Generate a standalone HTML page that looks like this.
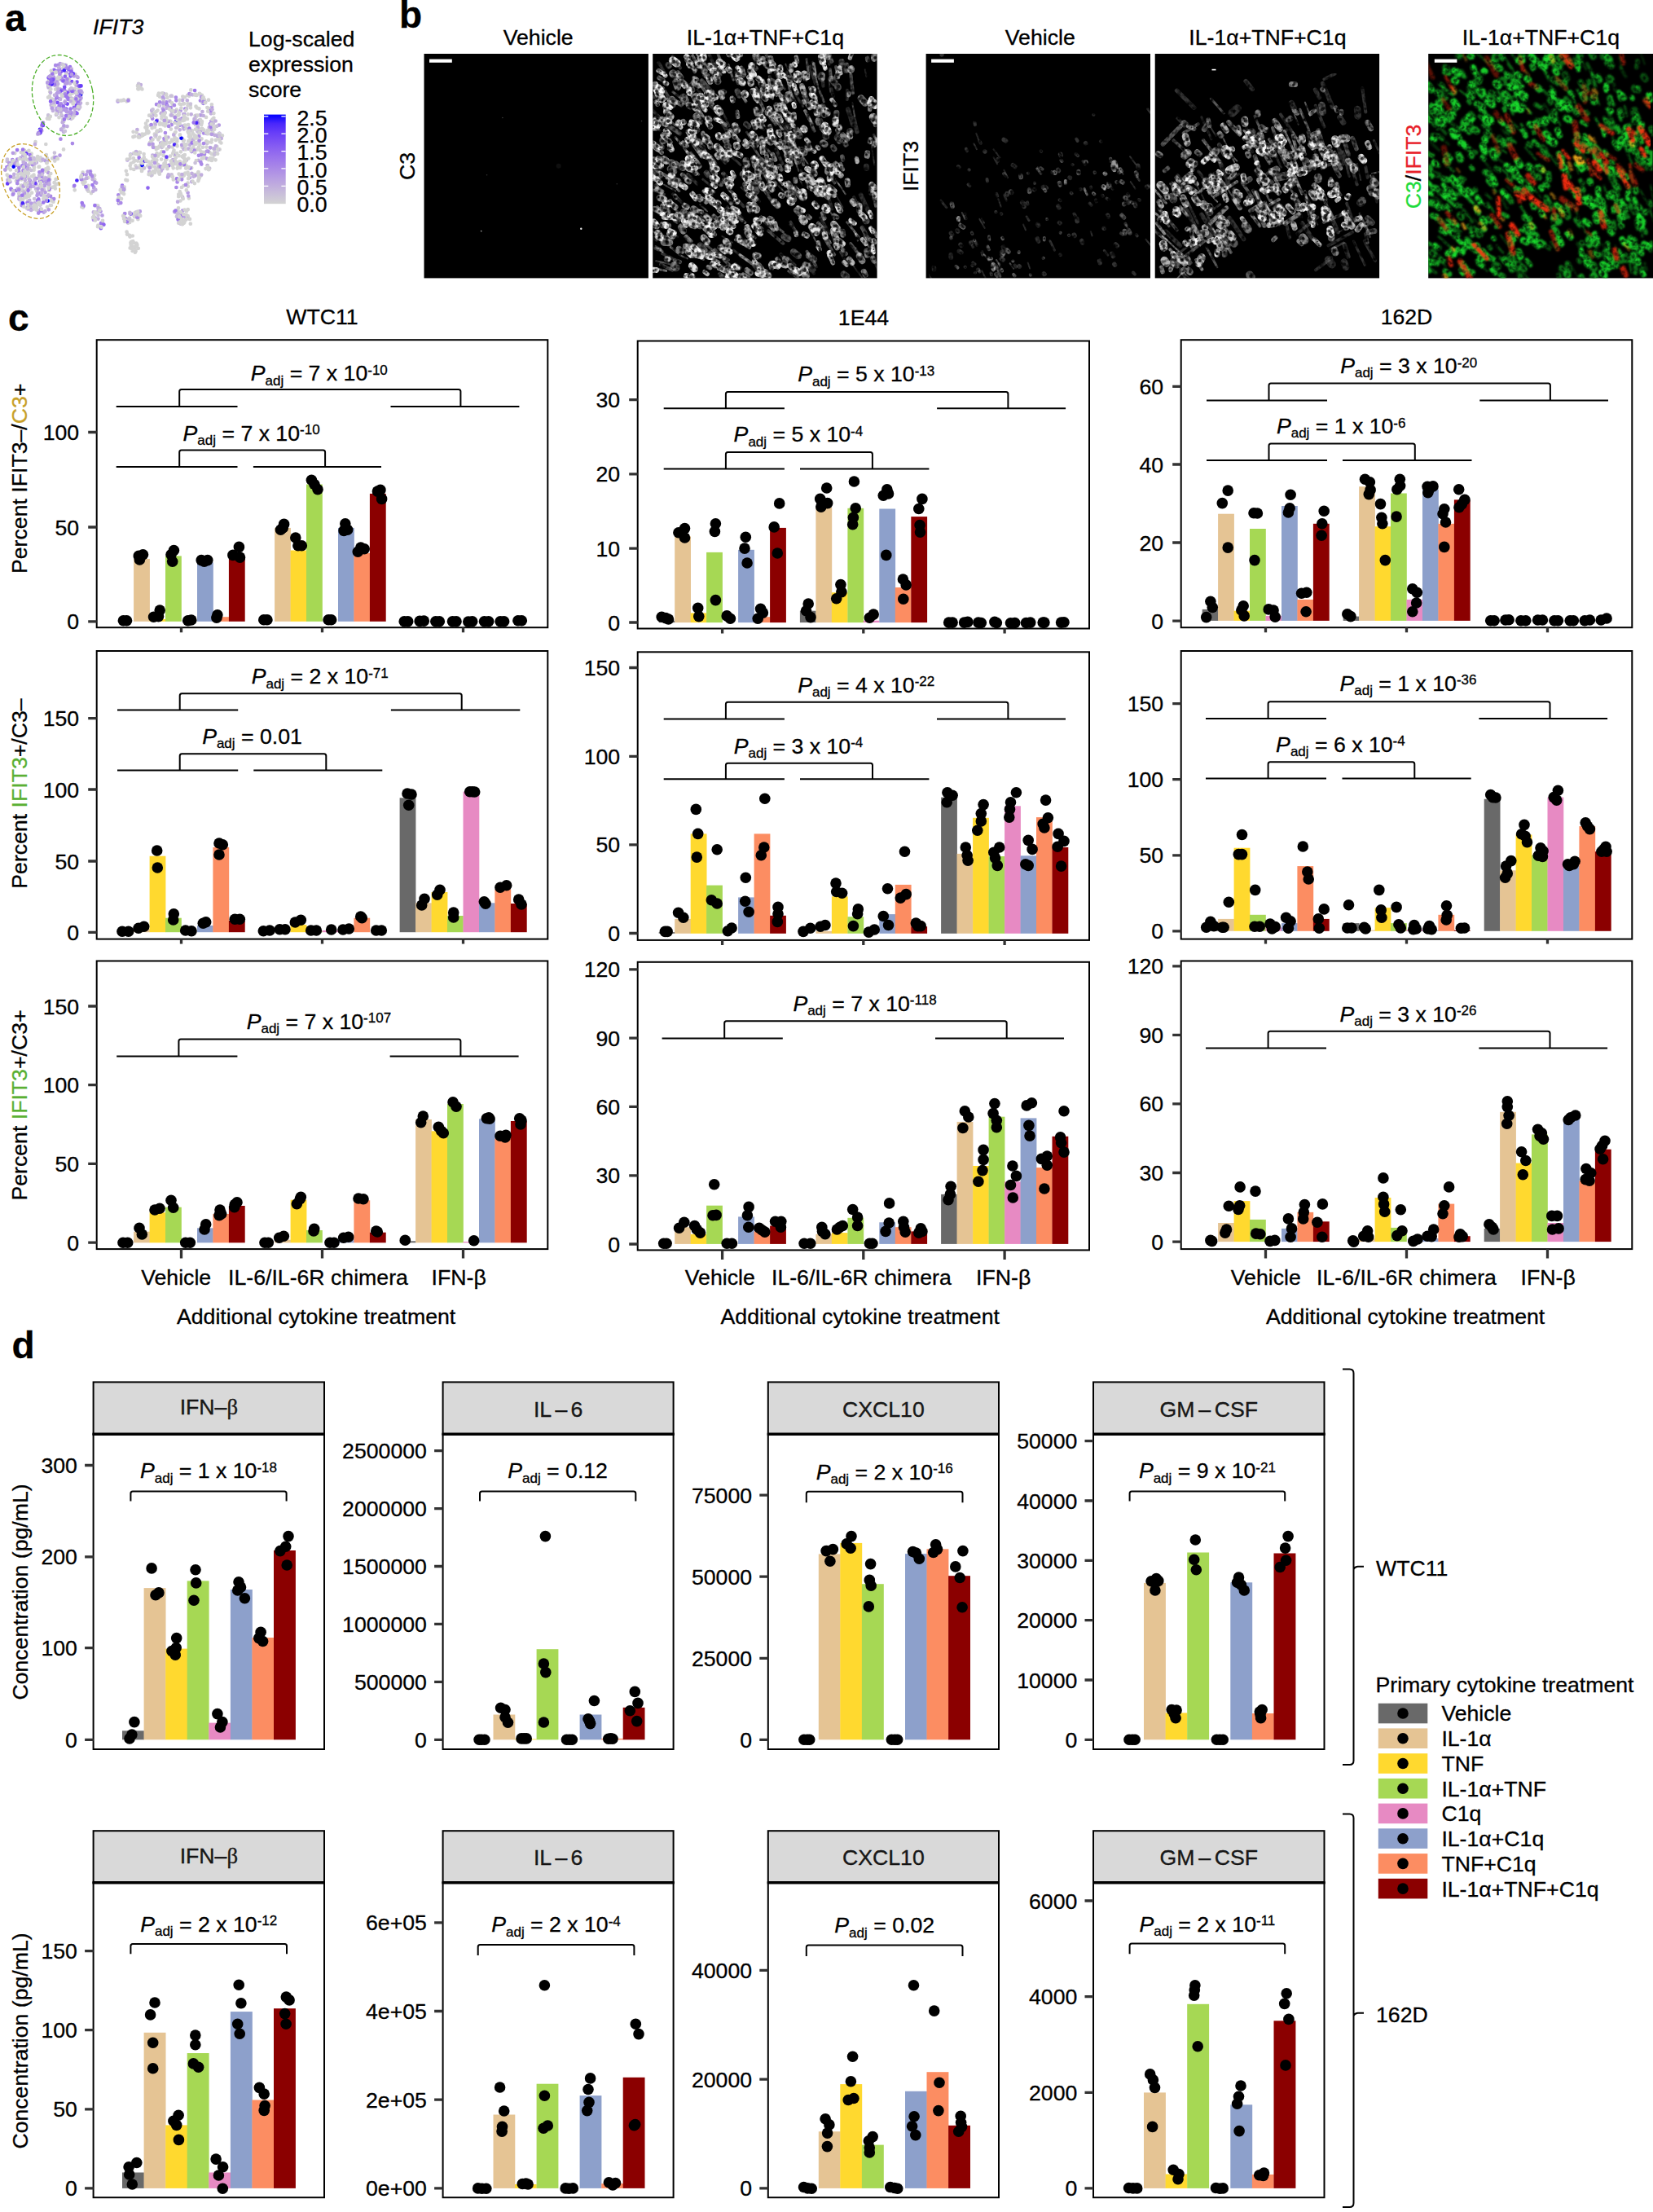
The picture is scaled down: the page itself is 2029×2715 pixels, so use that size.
<!DOCTYPE html><html><head><meta charset="utf-8"><title>Figure</title><style>html,body{margin:0;padding:0;background:#fff}svg{display:block}text{stroke:#000;stroke-width:.3px}</style></head><body>
<svg width="2029" height="2715" viewBox="0 0 2029 2715" font-family="'Liberation Sans',Arial,Helvetica,sans-serif" font-size="26.67" fill="#000">
<rect width="2029" height="2715" fill="#fff"/>
<g fill="none" stroke-linecap="round" stroke-width="4.7">
<path stroke="#d3d3d3" d="M224.9 273.2h0M247.9 116.8h0M225.4 263.4h0M211.1 118h0M240.7 141.6h0M173.2 108.4h0M49.7 195.1h0M163.4 168.1h0M61.8 252h0M180.1 162.7h0M257.6 159.6h0M266 165.5h0M56.8 209.9h0M61 119.2h0M59.3 143h0M120.4 276.6h0M174.2 209.1h0M168.3 301.2h0M191.7 198.6h0M263.2 184.8h0M164.1 188.5h0M204.5 195.4h0M33.7 196.2h0M14.7 198.9h0M178 164.6h0M198.7 206.1h0M195.8 151.4h0M247.1 153.2h0M99 117.5h0M101.9 254.6h0M59.1 119.6h0M74.2 92.2h0M228.7 203.6h0M16 201.6h0M208.3 148.7h0M214.9 197.1h0M83.8 145.3h0M26.2 220.4h0M23.2 241.3h0M55.4 225.2h0M179.8 154.6h0M186.7 214.8h0M218.2 267.8h0M47.6 218.4h0M225.6 215.6h0M227.4 269.8h0M76.9 118.4h0M31.5 241h0M16.4 197.6h0M116.3 220.4h0M193.4 206.4h0M169.2 197.6h0M240.3 214.2h0M216.8 134.7h0M230.7 214h0M163.3 303.3h0M238 177.4h0M101.5 224.2h0M220.5 263h0M217.7 263h0M249.6 119.5h0M182.2 161.4h0M196.5 150.9h0M245.4 184.1h0M59.5 207.3h0M221.5 246.5h0M226.5 203h0M219.2 241.2h0M247.6 194.7h0M46.8 249.4h0M217.9 199.2h0M61.1 112.5h0M186.2 203.1h0M201.1 129.3h0M56.3 207.4h0M209.4 141.4h0M256 122.7h0M193.9 201.8h0M239.5 142h0M238.9 225.1h0M165.1 266.1h0M223.3 269.2h0M152.7 232.9h0M169.4 269.2h0M224.9 269.6h0M71.2 97.7h0M27.5 210.9h0M262.4 144.8h0M91.9 102.3h0M235.2 206.1h0M261.2 162.5h0M181.6 163.3h0M73.1 80.7h0M31.2 193.3h0M245.5 115.5h0M184.8 201.3h0M258.3 156h0M77.5 117.3h0M118.4 252.4h0M193.8 191.7h0M198.7 207.1h0M149.5 123.5h0M92 108.8h0M210.8 216h0M199.3 137.5h0M225.8 172.3h0M89.1 140.1h0M243.6 162.7h0M66.5 192.7h0M227 199.8h0M237.9 150.6h0M108.7 234.4h0M154.8 209.8h0M84 101.6h0M215.9 193.3h0M144.8 244.4h0M99.6 116.1h0M230.6 161.6h0M264.9 171.9h0M167.3 298.6h0M67.8 231.5h0M189.6 193h0M156.4 287.3h0M33.5 207.8h0M237.5 214h0M230 146h0M210.2 134.2h0M159.8 270h0M171.2 205.8h0M64.2 194.4h0M198.5 145.7h0M96.6 109h0M36.3 201.6h0M163.3 263.4h0M216.7 142.4h0M36.7 232h0M228.4 269.6h0M77.1 146.9h0M224.8 156.4h0M209.4 148.9h0M18.2 188.1h0M48.4 259.3h0M35.1 240.6h0M227.2 179.4h0M66.5 97.5h0M245.2 215.2h0M34.3 247.1h0M202.7 154.5h0M223.2 218.8h0M25.8 187h0M108 230.5h0M241.5 116.9h0M261.8 182.1h0M175.4 165.9h0M191.7 137h0M36.2 206.9h0M210.8 173.3h0M243.8 216.5h0M231.9 243.3h0M48.2 204.6h0M97.5 125.1h0M185.4 173.2h0M219.2 273.7h0M169.4 108.9h0M80.2 116.9h0M34.2 216.3h0M251 192.1h0M60.2 233.9h0M260.2 134h0M219 268.6h0M165.9 197.1h0M204.1 115.7h0M23.1 204.8h0M219.6 213.6h0M225.5 127h0M52.8 220.8h0M156.1 221.4h0M209.7 134.7h0M256.1 185.9h0M203.9 173.4h0M154.4 220.9h0M223.3 275.1h0M186.7 138.8h0M183.1 141.7h0M120.3 252.5h0M216.8 219.4h0M214.5 168.7h0M225.5 228h0M11.8 223.4h0M179 151.5h0M152.1 266.5h0M43 197.3h0M35.1 212.8h0M66.8 129.1h0M32.2 233.3h0M225 192.8h0M196 151.3h0M78 183.4h0M165.1 303.3h0M38.2 189.4h0M185.2 200.9h0M184.5 153.9h0M57.4 199.9h0M60.9 106.1h0M164.3 187.8h0M169.1 105.5h0M94.4 131.6h0M219 140.4h0M257.6 187.3h0M43.5 174.2h0M38.6 188.7h0M185.9 143.2h0M248.1 125.6h0M30.6 242.2h0M101.6 211.5h0M48.5 164.1h0M159.7 304.4h0M51 197.2h0M183.5 212.5h0M111.8 214.4h0M45 250.7h0M219 255.3h0M23.3 203.8h0M85.7 109.8h0M164.9 263.8h0M198.7 186.1h0M253 143.9h0M262.3 148.6h0M215.1 201.1h0M214.5 163.4h0M102.7 226h0M223 230h0M247.9 149.2h0M115.3 229.7h0M223.6 180.6h0M210.4 135.8h0"/>
<path stroke="#cac1d9" d="M30.9 225h0M236.5 116.4h0M78.3 85.4h0M254.2 176.1h0M153.7 270.4h0M90.7 228.9h0M92.3 91.3h0M212.8 200.7h0M261.7 151.7h0M120.6 264h0M8.7 197.9h0M84.9 144.4h0M86.2 135.1h0M48.1 246.7h0M87.4 145.8h0M245.2 147.2h0M152 122.9h0M98.8 121.9h0M80.8 79.9h0M210.6 200.8h0"/>
<path stroke="#c1aede" d="M225.6 183.2h0M125.8 272.1h0M11.3 202h0M53 150.6h0M46.8 258.6h0M111.1 210.2h0M88.8 142.2h0M117.2 269.1h0M23.3 244h0M159.5 262.3h0M76.1 142.2h0M63.9 244.1h0M168.3 264.4h0M221.6 274.6h0M263.6 165.9h0M172.8 104h0M24.9 242h0M212.2 196.1h0M213.2 165.4h0M223.8 170.3h0M89 110.7h0M248.4 137.1h0M62 113.8h0M79.4 100.2h0M67.2 104.8h0M120.5 255.2h0M90.6 112.2h0M30.8 221h0M208.4 124.2h0M28.2 250.7h0M44.5 226.2h0M190.4 166.4h0M69.5 119.2h0M114.8 260.4h0M33.3 225.4h0"/>
<path stroke="#b69ce3" d="M235.4 223.1h0M204.5 203h0M77.1 131.4h0M38.8 255.6h0M85.4 111.7h0M239.5 215.6h0M169.5 260.4h0M260.1 131.5h0M192.9 147.5h0M115.1 230.3h0M149.9 229.7h0M24.1 244.7h0M75.3 97.8h0M66.3 101.8h0M90.9 93.4h0M199.8 133.6h0M96.1 127.2h0M15.7 238.9h0M81.7 89.4h0M70.9 112h0M30.2 237.2h0M260 158.3h0M78.4 86.2h0M69.6 135.1h0M198 204.9h0M54.6 228.2h0M230.6 236.5h0M67.2 193.6h0M215.1 260.2h0M55.3 197.1h0M259.2 148.8h0M59.2 211.9h0M242.9 148.5h0M53.8 260.6h0M52.2 212.2h0M246.4 160.2h0M17.9 199.2h0M33.4 248.5h0"/>
<path stroke="#aa89e7" d="M210.7 153.1h0M21.2 195.7h0M195.7 129.8h0M155.7 269.1h0M244.3 167.2h0M13.4 231.7h0M58.2 241.3h0M250.2 163.5h0M160.3 189.5h0M145.3 239.3h0M215.9 119.5h0M60 95h0M96.7 123.4h0M243.9 190.8h0M202.9 163h0M15.3 196.1h0M114.9 269.7h0M258.6 194.8h0M93.9 119h0M224.2 258.5h0M49.1 215.1h0M201 135.9h0M87.6 138.3h0M48 217.7h0M60.2 95.9h0M204.2 125.3h0M98.4 118.2h0M33.4 205.3h0M78.2 98.5h0M216.4 230h0M81.9 113h0M62.1 240.8h0M185.4 169.7h0M232.8 218h0M16.4 237.8h0M114.3 216.2h0M253.9 164h0"/>
<path stroke="#9d77ec" d="M67.2 87.3h0M75.2 159.1h0M31.7 204.7h0M157.5 273.1h0M49 222h0M95.7 126.8h0M41.4 194.3h0M54.4 218.8h0M51.4 216.5h0M8.5 205.1h0M239.1 111h0M86.6 133.6h0M124 274.1h0M269.3 163.9h0M80.8 126.8h0M223.3 145.7h0M225.9 202h0M233.3 206.4h0M201.1 186.5h0M79.3 110.9h0M49.2 211.8h0M87.4 86.6h0M13.9 232.7h0M257.9 152h0M220.6 153.7h0M86 82.1h0M227.4 133.5h0M217.1 219.4h0"/>
<path stroke="#8e65f0" d="M66.4 85.8h0M86.2 121.4h0M64.2 132.6h0M123.8 280.2h0"/>
<path stroke="#7c51f4" d="M86.6 93.5h0M88.1 100h0M49.5 163.1h0M70.6 125.9h0"/>
<path stroke="#4926fb" d="M216.2 148.5h0M177 198h0"/>
<path stroke="#0000ff" d="M58.7 246.5h0"/>
<path stroke="#0000ff" d="M98.9 116.2h0"/>
<path stroke="#4926fb" d="M49 158.9h0M192.2 148.6h0"/>
<path stroke="#673df8" d="M9.2 225.4h0M160.7 262.3h0"/>
<path stroke="#7c51f4" d="M83 114.2h0M93.4 132.1h0"/>
<path stroke="#8e65f0" d="M84.7 144.7h0M97.8 121h0M63.5 103.8h0M84.4 85.5h0M75.1 87.8h0"/>
<path stroke="#9d77ec" d="M221.8 263.5h0M20 233.8h0M46 245.9h0M113.5 227h0M102.5 252.7h0M27.4 203.4h0M83.6 121.8h0M77 110.7h0M58.6 101.6h0M64.9 90.6h0M36.5 190h0M91.3 227.8h0M110.4 211.1h0M204.8 128.5h0M68.2 103.5h0M53.3 222.4h0M150 227.7h0M97.4 129.8h0M47.3 244.3h0M249.5 126.8h0M79.5 134.9h0M21.1 184.1h0M37.7 255.3h0"/>
<path stroke="#aa89e7" d="M50 223.3h0M245.9 123.5h0M69 193.2h0M247.3 201.6h0M47.2 261.6h0M185.7 153.2h0M96.2 118.9h0M255.2 185.9h0M223.1 220.3h0M200.6 121h0M68.2 80.2h0M193.9 161h0M22.9 210h0M59.3 105.2h0M251 188.9h0M145.8 249.6h0M116.7 267.7h0M74.4 170.7h0M74.9 127.4h0M187.1 145.6h0M247 189.8h0M206.6 215.9h0M86.8 122.7h0M169.9 261.1h0M28.6 209.1h0M217.6 223.4h0"/>
<path stroke="#b69ce3" d="M11.2 199.8h0M72.7 121.1h0M79.6 116.9h0M247 118.9h0M18.2 202h0M24.2 240.1h0M234.5 170.4h0M84.6 140.6h0M67.3 123.1h0M50.2 197h0M253.7 194.6h0M111.1 213.1h0M20.3 198.6h0M49.5 251.5h0M31 200.7h0M87.5 108.6h0M95.5 95h0M66 94.6h0M71.8 136.6h0M58.4 196.7h0M206.5 149.2h0M74 109.7h0M81.8 102.5h0M25.2 193.9h0M51.3 212.4h0M26.4 227.9h0M228.9 196.6h0M87.6 120.6h0M206 217.5h0M235.3 186.1h0M71.3 134.9h0M34.5 256.4h0M125.5 264.4h0M231.3 240.5h0M44.8 199.5h0M12.4 223.1h0M50.4 239.5h0M237.6 171h0M154.3 268h0M197.2 175.7h0"/>
<path stroke="#c1aede" d="M59.4 239.3h0M234.7 140.3h0M224.1 242h0M23.4 231.6h0M87.7 84.7h0M93.2 119.8h0M94.6 94h0M206.4 168.5h0M225.7 158.5h0M56.2 241h0M44.3 231.9h0M186.2 135.6h0M113.6 220.1h0M220.7 159.3h0M256.8 156.2h0M259 139.3h0M233.2 177.7h0M168.4 159.2h0M78.1 162h0M96.7 133.6h0M118.1 260.8h0M229.8 123.3h0M113.6 216.9h0M197.7 139.2h0M225.1 192.6h0M94.7 122.8h0M50 226.2h0M241 142.7h0M92.9 123.6h0M27.2 213.5h0M166.9 260.6h0M97.1 132.7h0M254.6 203.1h0M258 137.1h0M28.1 234.6h0M187.3 190.5h0M59.6 107.4h0M62.7 128.9h0M200.8 114.8h0M9.5 220.9h0M51.3 160.6h0M25.7 230.1h0M43.3 223.3h0M197.7 209.7h0M64.4 94.8h0M93.9 114.7h0M36.2 245.8h0M99 126.6h0M16.9 217.6h0M243.5 196.9h0M189.2 140.8h0"/>
<path stroke="#cac1d9" d="M159.3 260.8h0M202.7 138.3h0M51.5 214.4h0M210.7 214.3h0M27 233.6h0M79.9 161h0M187.6 134.3h0M45 195h0M229.1 133.4h0M42.2 244.1h0M210.9 137h0M247.1 141.6h0M257.2 206.6h0M29.6 196h0M184.2 175.7h0M20.6 199.4h0M16.4 217.8h0M37.6 253.1h0M68.4 89h0M91.4 141.7h0M232.6 159.4h0M8.9 195.6h0M69 96.9h0M75.1 140.5h0M51.3 154.8h0M47.4 195.3h0"/>
<path stroke="#d3d3d3" d="M262.7 190.3h0M81 91.3h0M218.6 205.1h0M269.3 164.1h0M160.6 200.5h0M260.1 171.6h0M214.2 150.7h0M70.8 195h0M246.2 147.4h0M228.8 233.4h0M226.2 194.7h0M217.6 151.8h0M206.7 203.9h0M205 183.1h0M233.8 274.7h0M173.2 203.9h0M196 118.6h0M240.5 130.7h0M233.3 182.3h0M117.2 268.9h0M56.8 190h0M28.6 240.6h0M22.1 214.1h0M247.2 158.2h0M187.9 193.2h0M227 197.8h0M170 108.5h0M226.8 190.1h0M69 219.9h0M91.7 233.3h0M156.9 273.6h0M62.3 213h0M61.2 100.4h0M213.5 184.6h0M185.9 215h0M32.4 242.5h0M95.9 120.6h0M72 225.3h0M197.8 206.7h0M222.4 203.2h0M149 244h0M225.7 273.8h0M267.1 168h0M41.5 214.7h0M108.3 234.6h0M245.4 177.5h0M178.5 156.4h0M162.8 289.5h0M173.8 166.8h0M230.3 116.8h0M161.7 302.9h0M64.3 229.9h0M256.2 207.9h0M26.5 249.7h0M31.5 213.7h0M211.6 180.5h0M225.7 214.9h0M159.1 267.5h0M35 223.9h0M248.8 180.8h0M55.7 221.7h0M58.9 205.7h0M155.5 124.3h0M224.8 191.2h0M260.1 189.2h0M209.7 133.9h0M242.8 174.6h0M260.6 146.7h0M228.3 157.4h0M63.5 99h0M271.4 175.5h0M248.2 157.8h0M218.1 156.1h0M99.6 218.1h0M172.2 264.9h0M84.7 97.8h0M198.8 178.6h0M251 122.6h0M214.8 137.3h0M219.1 141.5h0M65.5 247.7h0M28 196.1h0M100.4 254h0M47.4 248.5h0M269.9 173.9h0M221.9 186.3h0M250.5 186.8h0M254.8 160.1h0M231.1 153.2h0M252.5 207.1h0M201.5 200.5h0M190.2 150.9h0M230.6 224.7h0M11.8 221.5h0M195.8 213.5h0M24.9 243.9h0M202.9 152.6h0M168.6 189.1h0M173.7 204.5h0M191.5 141.8h0M190 204.9h0M79.6 113.4h0M30 226.1h0M220.9 198.3h0M64.7 130.8h0M272.9 166.4h0M225.1 172.9h0M232.2 117.7h0M186.8 197.8h0M59.8 229h0M66.6 224.2h0M62.9 252h0M108.3 218.2h0M163.9 297.8h0M175.2 205.7h0M88.6 114.7h0M26.2 247.1h0M159.8 190.6h0M258.1 194.1h0M58 254.1h0M114 266.9h0M154.5 270.4h0M230.6 265.1h0M71 97.7h0M248.9 122.6h0M263.2 185.6h0M25.9 227.8h0M55.7 224.8h0M202.8 199.8h0M226.2 146.7h0M236.5 163.6h0M169.8 304.8h0M243.4 212.2h0M230.9 266.3h0M246.8 186h0M84.1 140.5h0M54.2 239.9h0M174 209.9h0M41.8 205.1h0M170.1 168.3h0M191.7 183.1h0M89.9 127.1h0M85.6 116.9h0M243.8 220.2h0M61.2 220.4h0M237.4 181.2h0M146.8 248.5h0M266.3 179.8h0M200.6 190.8h0M185.4 205.2h0M53.9 232.3h0M240.7 176.7h0M41.6 254.7h0M228.4 145.3h0M161.6 298.6h0M68.5 220.1h0M247.5 170.4h0M259.5 156.5h0M75.7 117.3h0M106.8 218.8h0M173.1 199.1h0M226.4 147.4h0M262.4 139.1h0M255.8 174.5h0M203.3 196.6h0M188.2 179.6h0M159.6 194.4h0M42.3 217.6h0M166.6 308.2h0M63.5 121.5h0M65.7 89.4h0M223.2 269.6h0M53.2 244h0M47.6 204.9h0M211.8 203.5h0M171.2 168.5h0M217.4 173.4h0M255.2 164.2h0M258.9 196.3h0M190.9 209h0M96.2 128h0M24.6 233.5h0M163.6 198.9h0M197.6 176.6h0M244.3 174.5h0M243.6 158.8h0M253 162.8h0M49.7 193.3h0M240.8 197.1h0M213.5 197h0M120 278.2h0M115.2 267.3h0M226.6 257.5h0M207.3 181h0M166.6 203.3h0M90.6 113.5h0M231.3 194.5h0M108.3 227.8h0M157.6 122h0M234 167.2h0M203.8 144.6h0M162.6 270.8h0M46.9 250.6h0M8.7 214.7h0M187.5 171.3h0M41.6 208.7h0M269.6 183.4h0M228.2 206.6h0M23.9 235.1h0M146.2 242.2h0M62.3 109.4h0M83.5 144.6h0M211.9 129.1h0M220.7 235.2h0M190.8 165.2h0M28.5 191.3h0M259.5 174.6h0M222.1 260.5h0M160.1 190h0M238 170.9h0M152.3 265h0M16.1 197.3h0M221.7 216.3h0M61.3 101.5h0M224 274.1h0M189.8 164.7h0M192.6 188.2h0"/>
<path stroke="#d3d3d3" d="M200.8 124.4h0M10.6 216h0M42 205.6h0M34.4 237.8h0M236.5 222.6h0M230.5 127.3h0M226.2 143h0M244.8 114.8h0M112 237.1h0M269.7 167.6h0M151 230.9h0M56.8 243.7h0M45.1 234.4h0M32.9 186.3h0M160.4 298.1h0M155.6 284.7h0M249.9 194.1h0M74.1 137.1h0M182.5 162.6h0M223 268.1h0M207.8 154.5h0M201.5 148.2h0M224.7 244h0M76.1 115.9h0M152.1 238.1h0M174.1 202.6h0M184 175.1h0M195.5 179.7h0M115.3 265.1h0M224.3 118.5h0M231.2 219.2h0M265.7 188.1h0M75.3 133.9h0M248.8 125.6h0M176.4 206.2h0M230.8 140.3h0M227.2 263.8h0M69.7 225.9h0M87.7 121.5h0M65.3 135.5h0M82.9 96.6h0M67.5 228.3h0M170.4 190.8h0M243.3 222.1h0M161.3 302.6h0M59.5 104.6h0M70.2 194.6h0M163.2 296.1h0M241.8 169.5h0M49 160.5h0M60 98.4h0M159.5 290.6h0M28.9 229.3h0M190.2 138.3h0M151.7 122.8h0M263.2 158.8h0M166.9 299.3h0M159.2 273h0M32.2 240.9h0M164.3 207.9h0M211.9 217.1h0M222.3 128.4h0M10.2 206.2h0M218.2 261.4h0M201.6 204.3h0M163.6 161.8h0M165.8 309.7h0M167.5 262.8h0M217.7 146.9h0M239.9 146.1h0M165.4 304.8h0M232.9 268.9h0M192.3 182.3h0M243.9 180.5h0M241.9 132.5h0M26 231.8h0M210.8 171.5h0M200.3 153.2h0M53.6 248.3h0M159.7 203.4h0M152.8 262.5h0M240 153.2h0M45.7 193.3h0M23.2 237.7h0M217.6 206.6h0M201.2 142.4h0M71.5 94.6h0M35.5 240.8h0M194.9 114.5h0M230.7 257.2h0M199.5 120.8h0M226.3 272.6h0M194.3 171.3h0M230.6 129.5h0M55.2 217.8h0M256.7 133.1h0M241.4 159.1h0M216.9 178.1h0M261.4 194.4h0M67.7 88.9h0M116.5 260.4h0M32.7 255.4h0M148.9 236.5h0M165.3 167.3h0M211 126.4h0M229 177.3h0M256.3 208.2h0M194.6 210.9h0M23.7 195h0M39.1 216.4h0M170.9 186.8h0M215.2 176h0M192.8 160.5h0M64.8 121.9h0M28.6 215h0M241.7 183.7h0M233.7 129.7h0M30.7 193.1h0M220.9 165.7h0M230.8 228.8h0M90.4 123.1h0M168.5 265.9h0M191.2 167.9h0M49.4 197.1h0M30 184.5h0M172 203.1h0M209.9 158.6h0M169 105.2h0M27.8 219.3h0M233.5 173.8h0M200.3 175.8h0M116.1 215.3h0M209 191.7h0M231.4 117.1h0M209.3 118.1h0M152.6 229.6h0M181.2 203.5h0M217.8 201.7h0M72.5 86.9h0M191.5 181.1h0M48.2 219.3h0M160.7 300.4h0M60.1 226.4h0M238.3 165.5h0M214.9 144.3h0M218.2 258.1h0M19.9 222.1h0M226.4 272.7h0M60.8 118.2h0M187.1 178.9h0M77.9 116.3h0M81.4 83.3h0M258.8 164.4h0M10.6 217.6h0M199.1 114.3h0M200.2 174.3h0M220.5 152.2h0M30.3 210.3h0M156 287.6h0M187 192h0M234.1 170h0M90.8 121.5h0M79.2 155.5h0M60.4 216.4h0M38.6 200.4h0M198.1 195.6h0M240.1 158.7h0M180.3 159.7h0M224.1 275.1h0M77.3 83.5h0M41.1 256.6h0M78.1 149.3h0M225.4 145.5h0M203.6 149.7h0M219.8 265.1h0M67.3 197.6h0M196.1 168.5h0M246.6 215.6h0M235.9 160.4h0M39.1 192.6h0M227.2 212.5h0M46.9 236.8h0M258.1 195.6h0M22.3 216.9h0M199.9 140.6h0M160.6 207h0M68.2 109.7h0M6.5 208.8h0M53.9 240.2h0M80.1 133.5h0M238.6 168.3h0M43.8 199.1h0M257.9 181.2h0M232 167.4h0M21.6 225.2h0M161.7 303.3h0M163.9 194.1h0M83.7 138.2h0M161.9 301.9h0M204.8 147.6h0M166.7 266h0M189.2 196.7h0M50.6 230.8h0M250.9 122.9h0M240.2 115.8h0M260 197h0M48.5 229h0M186.7 157.2h0M195.8 213.5h0M192.4 196.4h0M28.4 252.5h0M219.6 191.2h0M93.2 104.4h0M20 209.2h0M57.6 200.1h0M34.1 210.6h0M30.2 193.3h0M212.2 141.7h0M197.5 160.5h0M28.2 244.8h0M253.2 173.3h0M26.2 248.2h0M214.4 190.9h0M56.2 209.6h0M34.8 218.6h0M60.4 146h0M102.2 222.5h0M58.2 219.6h0"/>
<path stroke="#cac1d9" d="M106.9 232.4h0M81.7 143.4h0M70.5 107.2h0M92.2 121.3h0M198.6 180.9h0M59.2 141.4h0M252.2 125.5h0M216.9 265.8h0M215.4 260.5h0M28.7 250.9h0M94.1 131.3h0M54.2 233.7h0M216.2 157h0M77.6 156.6h0M170.1 102.9h0M32.7 188h0"/>
<path stroke="#c1aede" d="M43 177.1h0M199.5 207.2h0M21.7 231.7h0M38.2 257.9h0M103.3 220.5h0M271.7 169.9h0M94.1 104.8h0M34.5 202.8h0M218.1 247.7h0M85.9 102.5h0M28.7 199h0M264.6 148.5h0M195.4 204.5h0M236.9 171.9h0M74.1 121.9h0M42.5 249.4h0M167.1 186.2h0M100.5 113.6h0M206.8 214.3h0M263.2 182.5h0M242.9 155.9h0M79.8 124.3h0M237.5 216.7h0M61.7 93h0M52.5 208.5h0M50 256.7h0M264.5 188.5h0M46.6 236.4h0M75.2 158.6h0M74.9 136.8h0M69 140.7h0M207.4 179.8h0M247.2 214.5h0M200.4 125.5h0M83.3 100.8h0M114.3 234.7h0M235.4 212.9h0M33.8 207.3h0M231.1 182.6h0M210.3 141.4h0M65.9 125.8h0M76.7 150.2h0M197.2 204.7h0M60.2 223.4h0M28.2 191h0M46.3 164.7h0M224 122.9h0M64.9 135.8h0M105.5 229.6h0M202.2 171.8h0"/>
<path stroke="#b69ce3" d="M54.7 227.4h0M63.7 132.7h0M258.2 181.3h0M156.3 196.4h0M205.8 130h0M82.2 101.4h0M243.4 151.3h0M55.6 236h0M19.5 200.1h0M38.5 249.5h0M221.7 135.8h0M85.7 137.6h0M21.9 220.5h0M81.9 137.2h0M87.2 91.2h0M169.3 266.8h0M28.6 228.4h0M99.5 120.2h0M44.4 219.1h0M190 199.9h0M214.1 259.8h0M97.1 112.4h0M78.4 154.3h0M69.8 132.8h0M38.3 229h0M260 164.8h0M59.8 257.3h0M183.2 177.2h0"/>
<path stroke="#aa89e7" d="M73.3 90.9h0M101.4 251.4h0M232.5 115.1h0M113 216.1h0M99.8 220.2h0M34.4 254h0M168.3 266.7h0M30.9 216.8h0M216.3 123.3h0M62.2 96.4h0M144.7 124.4h0M39.9 202.1h0M23.3 232.8h0M111 213.8h0M214.8 144.1h0M197 204.4h0M225 264.8h0M201.5 170.2h0M80 115.3h0M92.4 112.8h0M123.5 259.5h0M36.9 221.5h0M157.5 123.4h0M207.1 154.9h0M72.8 129.9h0M153.3 262h0M26.7 252.1h0M82.7 119.8h0M214.8 188.6h0M192.1 128.2h0M69.7 139.6h0M88.9 176.1h0"/>
<path stroke="#9d77ec" d="M116.4 252.2h0M34.5 229.8h0M37.6 196.2h0M218.6 269.6h0M235.6 175.4h0M228.9 267.8h0M93.1 138h0M258.9 135.6h0M27.4 239.7h0M80.4 81.1h0M97.6 117.6h0M232.4 157.7h0M170.7 193.7h0M81.1 142.2h0M69.8 87.3h0M207.4 202.9h0M69.4 120.1h0M60.8 231.9h0M34.1 249.3h0M72.8 130.3h0M52 209.1h0M64.1 90.3h0M258.9 155.8h0M215.5 258.7h0"/>
<path stroke="#8e65f0" d="M90.9 131.9h0M94.5 139.2h0M65.5 97h0M77.4 99.5h0M96.9 105.6h0M62.1 124.4h0M50.5 159h0M87.4 87.7h0"/>
<path stroke="#7c51f4" d="M82.7 127.6h0M74.4 111.7h0M59.6 95.5h0M79.2 106.9h0M64.9 98.2h0M98.1 105.6h0"/>
<path stroke="#673df8" d="M52.8 153.9h0M49.5 161.8h0M99.5 105.4h0M43.2 225h0M32.4 188.3h0M89.8 90.3h0"/>
<path stroke="#4926fb" d="M78.8 86.3h0M27.9 249.4h0M94.4 221.5h0M63.6 103.1h0"/>
<path stroke="#0000ff" d="M16.7 204.6h0M222.5 169.6h0"/>
<path stroke="#0000ff" d="M174.6 203h0"/>
<path stroke="#4926fb" d="M214.1 177.5h0M241.1 150.8h0"/>
<path stroke="#673df8" d="M204.4 192.7h0"/>
<path stroke="#7c51f4" d="M47.3 163.3h0M94.5 100.7h0M61.1 102.6h0M93.9 129.2h0"/>
<path stroke="#8e65f0" d="M88.5 111.9h0M77.7 130.3h0M86.3 90.9h0M81.3 133.6h0M52.3 151.2h0M127.4 275.7h0M78.8 80.1h0M63.1 101h0M181.5 230.6h0M51.7 153.3h0M151.2 233.5h0M79.8 93.8h0M62.3 97.7h0"/>
<path stroke="#9d77ec" d="M95.7 125.9h0M83.1 84h0M78.9 146.4h0M93.4 121.4h0M34.6 233.8h0M82.7 119.3h0M100.7 249.1h0M144.8 246.1h0M23.4 206.1h0M156 272.1h0M12.9 216.8h0M50.4 259h0M105.4 229.2h0M81.2 118.2h0M60 220.6h0M56.7 222.7h0M53.1 248.5h0M28.1 183.7h0M237.8 150.4h0"/>
<path stroke="#aa89e7" d="M97.4 112.4h0M226.9 264.8h0M148.3 249.1h0M82.4 97h0M196.1 125.4h0M249.5 124.9h0M101.5 214.3h0M75.6 95.8h0M228 226.8h0M238.6 184.7h0M209.6 132h0M34.7 250.5h0M244.6 172.6h0M250 176.1h0M246.4 199h0M73 85.2h0M69.5 118.3h0M66.2 244.1h0M116.5 223.7h0M81.5 82.8h0M26.6 218.7h0M71.4 79.9h0M71.1 87h0M56.9 246.5h0M221.4 201.3h0M36.9 194.7h0M22 220.9h0M85.4 141.6h0M213.9 129.2h0M21.2 225h0M48.4 211.3h0M20.4 202.6h0M50 236.9h0"/>
<path stroke="#b69ce3" d="M225.2 154.6h0M60.5 94.2h0M58.3 101.4h0M223.2 177.9h0M58.7 225.5h0M152.1 232.1h0M15.9 187.8h0M201.9 147.9h0M69.8 100.5h0M226.2 140.1h0M79.6 125.8h0M55.5 222h0M96.8 128.7h0M69.6 115h0M72.5 113.5h0M200.3 126.8h0M105.7 214.5h0M77.8 134.2h0M107.7 210.5h0M183.7 205.9h0M190.5 190.8h0M51.7 233h0M88.1 91.4h0M118.2 224.6h0M6.3 208.3h0M45.5 240h0M47.4 163.6h0M187.5 176.8h0M99.5 111.5h0M37.5 225.9h0M232.8 160.3h0M73.8 78h0M171.8 259.4h0M200.1 119.3h0M73.5 190.7h0M268.8 153.6h0M267.5 166.9h0M188.1 181h0M149.8 229.4h0M254 185.6h0M80.2 102.6h0M80.4 134.7h0M245.8 141.3h0M46.6 231.6h0M46.1 238.6h0"/>
<path stroke="#c1aede" d="M204.4 132.7h0M71.2 102.9h0M42.4 201.2h0M51 236.9h0M36 220.4h0M53.6 219.6h0M60.5 226.2h0M183.3 210.8h0M27.1 216.2h0M117.3 232.9h0M42.5 220.6h0M106.2 218.9h0M17.3 213.9h0M170.9 165.6h0M82.5 155.1h0M190.7 152.9h0M48.1 215.4h0M212 197.8h0M215 136.6h0M225.3 140h0M264.9 179.3h0M234.7 115.8h0M260.4 134.5h0M220.9 146.5h0M71.9 82.8h0M52.6 195.6h0M120.5 268.6h0M120.7 258.4h0M238.5 146.2h0M86.8 124.5h0M179.3 197.9h0M91.8 134.1h0M55.5 259.2h0M67 116.8h0M268 183.6h0M56.6 218.5h0M71.5 109.5h0M122.3 256h0M249.7 142h0M223.4 214.2h0M91.1 138.4h0M41.2 228.7h0M160 261.9h0"/>
<path stroke="#cac1d9" d="M40.3 223.9h0M266 154.9h0M76.5 78.8h0M233.9 127.6h0M98.2 131.4h0M263.4 189.3h0M191.5 165.7h0M269 166.5h0M210.3 117.6h0M167 263.5h0M242.2 161.1h0M177.1 206.3h0M16.2 234.2h0M167.7 205.8h0M85.1 142.9h0M186 143.1h0M66.9 187.6h0M185.6 215.3h0M87.7 108.5h0M41.1 194.5h0M144.6 123.4h0M38.3 209h0M239.6 200h0M33.6 228.9h0M158.4 269.2h0M74.4 134.4h0M71.7 133.1h0M218.2 261.8h0"/>
<path stroke="#d3d3d3" d="M239.8 116.7h0M222.3 274.5h0M51 256.9h0M204.4 171.1h0M208.1 175.1h0M174.6 164.6h0M46.3 195.4h0M167.3 303.3h0M212.2 136h0M20.8 218.5h0M50 224h0M68.7 88.6h0M231.9 205.1h0M165.5 261.4h0M231.4 163.3h0M217.5 170.6h0M42.1 251.6h0M174.2 195.8h0M219.6 140.6h0M187.8 210.4h0M21.5 201.4h0M228.9 264.1h0M196.7 159h0M221.8 237.5h0M58 194.4h0M232.1 164.6h0M225.5 272.7h0M269.2 171.1h0M31.3 226.5h0M116.8 270.5h0M49.1 251.2h0M226 142.3h0M247.6 151.3h0M89.6 127.5h0M150.6 236.3h0M45 254h0M267.1 188.7h0M220 266.3h0M239.3 169.6h0M35.4 184.9h0M189.5 210.1h0M153 271.8h0M169.9 109.4h0M227.4 195.6h0M212.4 201.3h0M162.5 307.8h0M240.5 167.1h0M176.6 189.1h0M228.9 259.2h0M117 269.5h0M242.7 141.6h0M219.5 220.6h0M267.4 183.1h0M225.8 127.4h0M39 199.3h0M66.4 229.6h0M223.2 240.6h0M72.5 144.2h0M204.1 116.7h0M28.8 204.9h0M99.9 215.3h0M168.1 299.9h0M215.5 162h0M221 165.6h0M203.4 167.6h0M29.3 253.7h0M166.6 188.8h0M122.4 258.2h0M93.5 113.6h0M78.5 80.5h0M57.9 145.6h0M165.5 197.3h0M170.5 105.9h0M180.5 156.7h0M200.3 179.5h0M184.5 212.5h0M205.3 120.1h0M36.3 240h0M220.4 122.8h0M233.5 169.1h0M217.1 188.2h0M239.5 115.6h0M28.8 187.9h0M174.4 109.5h0M227.9 135.5h0M169.6 167.5h0M12.7 202.3h0M46.3 192.1h0M212.7 206.3h0M147.8 123.5h0M89.4 144.6h0M181 148.3h0M249.3 119.5h0M251.8 126.2h0M163 297.6h0M207.9 133.8h0M155.9 195.5h0M221.7 260.3h0M205.4 207.2h0M220.5 272.7h0M34.6 255h0M174.6 200.5h0M104.5 223.4h0M195.1 129.8h0M39.1 236.7h0M73.4 95h0M12.8 208.4h0M37 199.5h0M63 246.4h0M195.3 210.9h0M244.7 218.4h0M155.9 214.2h0M199.3 152h0M172 187.2h0M152 268.6h0M95.6 131h0M107.1 127.1h0M233.9 132.3h0M231.3 173.2h0M30.6 189.9h0M171.1 263.8h0M85.9 116.6h0M203.7 176.4h0M182.5 198.7h0M217.5 179.3h0M179.2 196.6h0M30.2 216.3h0M170.2 168.2h0M234.3 110.4h0M253.4 180.6h0M166.3 302.7h0M232.2 216.3h0M225.3 263.2h0M219.3 238.6h0M199.8 205.2h0M126 270.8h0M182.6 214.1h0M209.8 197.7h0M161.2 296.8h0M255.2 136.7h0M227.7 183.5h0M162 305.2h0M239.3 187.5h0M250.3 159.7h0M259.2 152.3h0M193.5 135.6h0M264.6 196.3h0M25.3 213.1h0M203.4 152.1h0M201.4 202.7h0M212.8 220.5h0M61.8 142.9h0M227.1 153.6h0M223.6 192.2h0M176.8 193.2h0M225.5 199.3h0M259.9 128.3h0M229.1 268.4h0M59.6 231h0M99.2 217.2h0M51 228h0M228.1 197.3h0M193.9 181.7h0M210.6 201.2h0M254.4 132.1h0M118.7 261.5h0M56.3 177h0M262.5 155.3h0M234.3 184.8h0M34.4 251h0M30.6 194.8h0M244.4 133.4h0M220.6 150.1h0M224.6 148.1h0M213.4 171.4h0M192.4 162h0M202.1 139.8h0M91.4 101.8h0M220.9 206h0M256.3 196.2h0M240.6 158.8h0M255.1 204.5h0M245.3 163.1h0M196.2 152.7h0M231.3 206.1h0M212.9 186.6h0M147.7 233.2h0M220.4 127.5h0M159 288.9h0M124.5 278.7h0M167.6 162.5h0M27.8 214.4h0M151.1 265h0M219.8 138.2h0M230.5 211.6h0M189.9 212h0M238.8 174.8h0M194.1 116.9h0M198.5 142.7h0M231.6 214.2h0M189.9 156.2h0M43 252.9h0M222.4 132.8h0M226 198.6h0M169.1 259.7h0M69.2 139.7h0M226.9 119.3h0M243.5 211h0M44.6 257.5h0M62.8 86.8h0M204.8 203.9h0M212.2 188.4h0M226.6 177.2h0M196.5 188.9h0M232.5 160.8h0"/>
</g>
<ellipse cx="77" cy="117" rx="37" ry="50" transform="rotate(-12 77 117)" fill="none" stroke="#4DAF2A" stroke-width="1.3" stroke-dasharray="5 2.5"/>
<ellipse cx="37.5" cy="222.5" rx="33" ry="48" transform="rotate(-24 37.5 222.5)" fill="none" stroke="#C8A028" stroke-width="1.3" stroke-dasharray="5 2.5"/>
<text x="114" y="42.3" font-style="italic">IFIT3</text>
<text x="305" y="56.6">Log-scaled</text><text x="305" y="87.5">expression</text><text x="305" y="118.9">score</text>
<defs><linearGradient id="cb" x1="0" y1="1" x2="0" y2="0"><stop offset="0" stop-color="#d3d3d3"/><stop offset="0.1" stop-color="#cac1d9"/><stop offset="0.2" stop-color="#c1aede"/><stop offset="0.3" stop-color="#b69ce3"/><stop offset="0.4" stop-color="#aa89e7"/><stop offset="0.5" stop-color="#9d77ec"/><stop offset="0.6" stop-color="#8e65f0"/><stop offset="0.7" stop-color="#7c51f4"/><stop offset="0.8" stop-color="#673df8"/><stop offset="0.9" stop-color="#4926fb"/><stop offset="1" stop-color="#0000ff"/></linearGradient></defs>
<rect x="324" y="140.6" width="26.7" height="109.6" fill="url(#cb)"/>
<path d="M324 142.8h5.3M350.7 142.8h-5.3M324 164.2h5.3M350.7 164.2h-5.3M324 185.6h5.3M350.7 185.6h-5.3M324 206.9h5.3M350.7 206.9h-5.3M324 228.3h5.3M350.7 228.3h-5.3" stroke="#fff" stroke-width="1.2" fill="none"/>
<text x="364.5" y="153.6">2.5</text>
<text x="364.5" y="175">2.0</text>
<text x="364.5" y="196.4">1.5</text>
<text x="364.5" y="217.7">1.0</text>
<text x="364.5" y="239.1">0.5</text>
<text x="364.5" y="260.3">0.0</text>
<defs><filter id="bl" x="0" y="0" width="100%" height="100%" color-interpolation-filters="sRGB"><feGaussianBlur in="SourceGraphic" stdDeviation="0.7" result="b"/><feTurbulence type="fractalNoise" baseFrequency="0.2" numOctaves="2" seed="3" result="n"/><feColorMatrix in="n" type="matrix" values="0 0 0 0 1 0 0 0 0 1 0 0 0 0 1 2.2 0 0 0 -0.4" result="na"/><feComposite in="b" in2="na" operator="in"/></filter><filter id="bl2" x="0" y="0" width="100%" height="100%" color-interpolation-filters="sRGB"><feGaussianBlur in="SourceGraphic" stdDeviation="0.8" result="b"/><feTurbulence type="fractalNoise" baseFrequency="0.2" numOctaves="2" seed="5" result="n"/><feColorMatrix in="n" type="matrix" values="0 0 0 0 1 0 0 0 0 1 0 0 0 0 1 2.0 0 0 0 -0.1" result="na"/><feComposite in="b" in2="na" operator="in"/></filter>
<clipPath id="cp0"><rect x="520.5" y="66" width="275.4" height="275.4"/></clipPath>
<clipPath id="cp1"><rect x="801.2" y="66" width="275.4" height="275.4"/></clipPath>
<clipPath id="cp2"><rect x="1136.6" y="66" width="275.4" height="275.4"/></clipPath>
<clipPath id="cp3"><rect x="1417.7" y="66" width="275.4" height="275.4"/></clipPath>
<clipPath id="cp4"><rect x="1753.2" y="66" width="275.4" height="275.4"/></clipPath>
</defs>
<rect x="520.5" y="66" width="275.4" height="275.4" fill="#000"/>
<rect x="801.2" y="66" width="275.4" height="275.4" fill="#000"/>
<rect x="1136.6" y="66" width="275.4" height="275.4" fill="#000"/>
<rect x="1417.7" y="66" width="275.4" height="275.4" fill="#000"/>
<rect x="1753.2" y="66" width="275.8" height="275.4" fill="#000"/>
<g fill="#fff" clip-path="url(#cp0)">
<circle cx="713.3" cy="280.8" r="1.2" fill-opacity="0.9"/>
<circle cx="590.7" cy="283.6" r="0.9" fill-opacity="0.6"/>
<circle cx="616.9" cy="144.5" r="0.8" fill-opacity="0.25"/>
<circle cx="597.6" cy="214.7" r="0.8" fill-opacity="0.2"/>
<circle cx="757.3" cy="225.7" r="0.8" fill-opacity="0.2"/>
<circle cx="685.7" cy="203.7" r="3" fill-opacity="0.06"/>
<circle cx="787.6" cy="148.6" r="0.8" fill-opacity="0.2"/>
</g>
<g clip-path="url(#cp1)"><g filter="url(#bl)" fill="none" stroke-linecap="round">
<path stroke="#fff" stroke-width="3" stroke-opacity="0.35" d="M919.4 211.7l12.8 17M846.4 199.6l11.3 14.7M976.4 228.5l9.8 14M797.9 207.4l14.9 8.3M924.8 180.8l8.3 13.1M1060.9 290.3l8.4 18.2M854.3 314.9l9.3 3.5M975.5 92.9l5.9 10.3M962.6 142.2l5.8 9.2M986.1 118.1l3.8 7.4M857.5 176.4l5.4 7.2M992 217.5l8.7 11.4M924.8 67.2l3.4 11.2M919.6 229.5l12.9 17.6M884.5 314.4l10 4.4M894.1 79.6l6.1 18.5M944 270.1l17.4 15M942.2 140.9l8.2 10.1M990.1 72.4l2.8 23.4M914.2 281.8l12.9 17.7M916.6 162.3l9.7 14.4M987.9 111.2l4.2 13.7M937.4 212.3l11.2 20.6M939 179.3l8.2 10.4M970.7 230.8l12.7 14.1M799.7 232.5l15.6 6M928.1 107.6l6.1 9.9M953.2 140.1l4.7 8M1006 111.7l5.3 13.2M890.4 266.3l10.8 9.6M816.3 144.4l14.7 10.6M826.4 255l14.3 12.6M916.5 282.5l10.6 9.4M1072.6 165.4l3.1 8M854.5 179.1l5.9 7.9M825.8 112.8l10.7 8.1M865.4 299.5l14.6 11.8M967.7 332.8l17.9 13.4M924.6 323.8l11.3 10.6M969.8 141.9l2.1 8.1M979.6 88.7l1.6 13.2M970.8 114.3l6.2 12.4"/>
<path stroke="#fff" stroke-width="3" stroke-opacity="0.5" d="M926.3 202.9l6.2 5.8M856.7 131.5l6.4 11.2M818.3 218.4l15.4 16.1M962.8 161.7l7.9 13.4M806.2 329.9l11.3 2.5M873.6 315.2l9.5 6.8M989.8 222.6l3.6 8.7M806.2 304.2l7.4 4.4M1055.3 259.1l5.5 11.7M949.8 144l11.3 15.7M956.8 114.5l4.5 13.8M944.9 106.3l4.1 7.3M828.9 168.4l13.9 17.1M847.9 187.3l6.5 7.3M969.7 168.9l9.6 16.9M1011.8 282.6l7.3 15.4M1040 272.8l14.1 18.4M946.3 76.9l8.2 18.1M823.4 303.4l9 7.2M818.1 121l8.1 7.4M794.8 189.6l18.8 13.2M943.4 97.7l5.1 23.3M849 263.9l14.5 7.1M993.6 107.5l5.3 16.1M937.2 98.1l3.6 13.9M950.7 214.2l9.9 12.3M965.5 96l2.8 7.7"/>
<path stroke="#fff" stroke-width="4" stroke-opacity="0.35" d="M1018.9 84.9l1.3 14M938.6 234l11.2 16.7M980.8 181.6l5.7 20.6M992.8 145l6.6 15.7M877.1 78.9l7.4 12.9M1070 171.2l2.3 8.5M851.3 133.1l17.1 14.3M813.9 108.1l7.8 12.9M1044.1 299.2l10.4 13.4M1013.7 295l10.4 17.7M995.7 108.5l4.3 13.6M1019.4 217.6l4.9 6.8M872.2 191.5l6.3 9.6M1044.3 91.4l2.7 22.9M825.8 69.3l9.2 14M811.2 324.5l14.1 7.2M881.1 64.5l3.2 10.8M957.7 171.9l7.7 19.2M990.5 308.8l11.5 18.4M838.3 269.8l20.9 9.7M943 283.3l18.3 15.4M931.1 120.1l6.1 13.5M1072.7 240.9l2.4 12.3M943.6 98.1l9.6 18.8M1026 81.9l3.1 13.6M967.4 98.2l4.4 22.7M888.6 318.8l6.5 6.2"/>
<path stroke="#fff" stroke-width="3" stroke-opacity="0.2" d="M820.8 287.3l10.7 3.4M970 275.8l9 9.2M888.6 140.5l6.4 14.2M954.1 94.8l9.3 14.9M918.7 292.4l7.7 8.9M1049.9 304.3l6.1 8.4M892.7 253.7l7.4 8.7M1016.3 311.2l6 8.8M975.8 114.2l9.6 16.4M1031.5 309.5l5.1 9M935.3 228.2l8.9 9M927.6 147.7l9.6 11.3M966.6 316.2l9.5 9.2M1013.6 65.4l4.4 13.8M867.4 117l5.7 7M999.3 130.5l4 14M933.3 268.6l14.3 12.4M997.6 76.4l5.2 18M900.2 306.9l16.8 12.5M965.5 88.1l3.8 19.2M910.1 230l16.4 15.3M983 209.3l9 16.6M898.9 193.2l10.1 9.1M931.2 205.6l11.8 16.9M856.1 110.3l13.6 13.4M867.3 307.1l11.2 6.6M897.1 250.5l6.4 9.4M802.7 154.3l7.2 5.8M862.8 220.1l11.6 9.4"/>
<path stroke="#fff" stroke-width="2" stroke-opacity="0.5" d="M846.3 126.7l14.5 11.9M1049.9 287.1l2.9 8.3M936.5 329.4l9.1 5.9M914 207.9l6.2 6.3M1025.7 220.3l12 18"/>
<path stroke="#fff" stroke-width="4" stroke-opacity="0.5" d="M903 294.3l17 9.8M850 264.2l7.3 6.8M843.9 263.9l19.2 11.5M998.8 78l1.5 13.9M970.4 162.3l5.9 18M902.2 263.9l12 9.1M850.9 177.7l9.9 14M843.6 186.9l8.4 6.4M845.2 59.4l10.4 19.2M895.3 233.1l7.5 7.2M848.8 116.5l6.4 11.3M910.2 115.2l5.3 9.2M939.3 65.1l6.2 10.4M866.5 313.8l11.7 6.4M848.6 163.3l12.9 12.4M862 310.6l16.5 9.6M1001.5 121.2l3.9 20.9M818.6 218.4l10.9 5.9M988.2 136l8.3 15.8M896.5 159.1l10.7 13.9M809.5 211.3l18.6 10.6M833 264.5l15.6 13.7M940.5 270.3l8.7 12.5M848.4 78l4.4 10.4M908.3 313.1l15.4 10.7M1072.5 282.4l3.5 7.5M859.4 103.3l8.3 11.9"/>
<path stroke="#fff" stroke-width="5.5" stroke-opacity="0.35" d="M815.7 151.4l18.9 12.3M961.6 174.5l11.6 15.2M883.5 336.8l11 8.9M1017.8 67.2l2.8 8.1M861.5 99l10.1 11.6M925.8 325.6l13.9 16.8M887.9 213.2l5.9 7.7M940.9 211.4l4.5 8.9M1058.5 279.5l7.4 14.3M872.6 309.6l16.1 6.8"/>
<path stroke="#fff" stroke-width="4" stroke-opacity="0.2" d="M1009.4 91.1l1.1 14.7M844.2 213.9l11.8 12.3M1039.9 110.7l-0.2 11.2M801.5 135.6l8.5 9M989.7 326.9l9.1 8.5M868 61.3l7.2 15.6M1048.1 242.2l5.2 11.1M957.2 145.4l9.1 15.4M994.2 323.9l5.8 7.4M968.2 178.9l12.6 20.1M1020.2 109.1l2.6 9M860.5 266.2l9.5 7.6M801.9 118.5l8.5 5.6M1069.2 310.5l9.4 21.4M1007.7 146.9l8.2 18.2M1007.3 267.5l10.4 18.6M864.3 169.4l15.1 14.4M813.2 311.2l16.5 8.4M944.8 94l3.7 12.4M808.3 76.9l7.5 11.6M970.4 272.7l5.2 10M894.1 260.2l11.2 11.5M860.7 119.3l16.1 14.9M888.7 329.8l11.1 5.7M826.3 238.3l13 12.3M958.6 312.1l6.9 8.7M858.6 258.8l14.9 9.5M943.6 202.9l5.8 10.2M797.3 290.1l8.6 4.3M880.5 189.4l9.8 10.6M899 254.9l12.2 13.2M952.6 183.1l7.9 18M947.7 143.8l4.4 8.7M905.7 246l7 7.2M1008 283.3l8.8 17.7M1016 239.1l5.4 17.5"/>
<path stroke="#fff" stroke-width="2" stroke-opacity="0.2" d="M852.9 168.6l12.7 11.9M1070 178.8l3.3 23.5M1017.3 96.6l1.8 16.2M1061.8 85.4l1.6 8.5M1045.3 323.1l13.9 19.1M800.6 257.5l8.4 3.2M980.8 218.4l4.3 8.9M1024.9 237.4l9.6 17.4M886.4 289.8l12.3 7.8M915.5 200.4l6.7 13M889.8 176.2l5.2 6.6"/>
<path stroke="#fff" stroke-width="2" stroke-opacity="0.35" d="M972.4 187.6l7.9 22.4M964.4 78.9l8.9 18.4M930.2 122.2l6.9 14.4M930.2 143.4l14 18.9M986.4 112.3l6.6 17.2M799.5 282.8l19 12M859.4 251.2l8.7 8M1000.3 90.5l4.4 18.7M899.5 333.5l18 15.7M815.3 226.7l13.8 7.7M805.3 320.3l16.7 3.7M923.8 118.1l5.8 8M978.6 181.8l13 19.4M949.4 220.5l14.8 17M1046.2 126.4l2.8 16M992.2 277.6l9.1 18.7M1017.2 255.7l6.9 13.5M833.3 312.5l10.4 5"/>
<path stroke="#fff" stroke-width="5.5" stroke-opacity="0.2" d="M1047.6 144.3l4.3 17.3M1056.6 239l9.6 20.8M1040.8 134.1l6 18.9M839.3 103.8l10.4 10.9M995.1 82.1l6.9 21.3M881.7 143.5l10.5 16.1"/>
<path stroke="#fff" stroke-width="5.5" stroke-opacity="0.5" d="M925.6 61.7l9.5 14.5M952.2 108l8 13.3"/>
<path stroke="#fff" stroke-width="7" stroke-opacity="0.2" d="M1063.5 204.2l0.1 2.2"/>
<path stroke="#fff" stroke-width="7" stroke-opacity="0.35" d="M965.7 164l0.4 7.1M1037.7 176.3l0.6 0.9M1071.4 317l1.5 3M845.9 161.1l0.8 2.4M934.9 170l3.5 3.8M819.9 79.6l1.2 1.5M1022.3 180.4l1.7 2.5M1038.8 80.1l-0.2 6.3M963.4 317.5l2 0.9M1074.6 238.6l-0.7 6M915.6 152.3l3.1 2.4M1069.8 229.1l-0.4 7.2M869.3 272.2l4.1 5.7M852.7 98.1l2.4 1.9M956.6 142.3l0.2 1.3M905 111.9l2.6 5.3M902.5 326l4.1 2.4M1033 75.4l-0.5 4.2M967.5 152.3l1.8 3.6M877.6 308.3l5.3 4.9M878.6 222.9l6.6 2.8M1026.8 138.2l-0.3 7.5M867.2 212.2l1.7 2.3M811.1 179.1l1.4 1.5"/>
<path stroke="#fff" stroke-width="8.5" stroke-opacity="0.35" d="M815 292.7l7.7 0.9M1018.5 211.7l0.7 6.1M933.8 197l4.6 3.7M854.3 122.7l2 5.2M859.6 301.6l5 5.5M1026.3 293.3l2.2 6.6M1006.8 223.2l0.1 4.5M1027.9 168.7l2.9 4M976.7 95.7l1.2 1.6M1028.3 106.1l0.3 1.1M853.7 157.4l1.4 2.1M992.9 313.9l6 4.5M1035.6 336.4l3.4 2.9M974.1 309.3l5.8 4.8M1043.3 161.3l-0.7 3.7M978.9 194.4l0.2 3.7M890 221.6l2.1 0.9M813.2 172.2l1 0.6M1020.7 96.9l4.2 5.1M962.8 290.4l4.6 2.7M912 213.7l5.5 5.5M927.4 69.3l0.7 1.5M1013.3 166.5l0.6 1.1M1062.4 269.9l0.9 1.4M913 297.4l2.9 0.9M923.4 239.5l1.3 4.1"/>
<path stroke="#fff" stroke-width="10" stroke-opacity="0.35" d="M803.9 213.4l5.7 1.1M947.3 100.8l0.6 0.9M924.4 227.5l3.2 6.7"/>
<path stroke="#fff" stroke-width="5.5" stroke-opacity="0.35" d="M1064.6 71.4l0.4 2.4M848.5 104l2.1 6.7M1033.8 192.1l0.8 3.9M1052.9 250.1l2 3.3M887.8 111.9l1.6 1.1M1074.2 150.6l0.3 2.8M804.6 303.9l4.6 2.1M1043.9 162.2l-0.6 2.3M926.8 82.5l1.3 1.7M805.4 228l1.1 1.7M828.7 319.6l5.6 1.9M888.1 151.6l1.9 1.5M944.1 273.4l3 2.6M894 243.5l3.6 5.7"/>
<path stroke="#fff" stroke-width="8.5" stroke-opacity="0.5" d="M967.5 225.7l3 5.3M915.3 213l0.3 1.3M942.5 171.5l3.7 3.1M926.2 197.9l1 4.4M1008.7 92.4l-0.2 3.5M826.5 221.1l5.7 1.2M915.6 197.1l1 5.3M892.7 258.4l1.8 1.8M822.9 207.2l4.2 3.6M932.4 281.3l1.5 1.1M1010.3 175.4l2 1.7M824.3 199.4l3.3 7.2M851.3 256.5l2.2 1.4M1054.9 314.1l3.3 5.9M1005.2 132.1l2.2 5.3M871.2 283.6l1.8 0.7M925.3 168.7l2.2 1.6M928.7 150.4l6 3.9M814.9 297.4l7.1 0.5M929.5 205.2l1.8 3.6M930.1 210.3l0.4 2.7M804.8 147.3l5.1 3.3M927.3 313.5l3.4 0.9M845 194.5l2.6 3.8M937.5 202l3 3.2M905.9 88.4l0.4 2.8M836.1 278.6l2.7 4.8M967.4 116.2l1.9 5.1M896.2 340.7l6.8 1.1M977.8 159.7l3.4 6.8M854.5 142.8l4.4 6.5M829.5 100.7l2.3 6.3M1056.9 120.4l4.9 6.1M845.9 129.1l1.2 1.1M940.8 79.2l1.6 1.5M863.2 79.5l1.3 7.7M808 195.4l2.7 6M954.9 104.5l2.6 2.5M892.5 178.4l1.1 1.1M824.6 122.1l3.3 3.2M986.4 215.5l4.4 3M802.9 154.8l2.8 1.8M997.8 209.2l1.8 3.9M832 264l2.5 1.2M811.2 258.6l7.8 1.6M818.2 146.9l2.9 0.8M991.8 179.6l1 2.2M846.7 265.7l2.6 0.4M836.7 100.7l4.4 4.1M813.6 276l6.2 1M956.8 177.2l2.7 2.2M889.1 167.7l2.6 5.5M855 117.9l4.3 2.8M923 238.8l3.3 5.6M1073.3 68.8l-0.1 2.9M963.9 182.7l3.6 4M900.9 67.6l1.2 2.6M931 326.2l2.7 3.6M879.4 95l1.7 4.9M1015.5 202.4l3.8 6M1016.5 208l-0.2 2.7M967.8 177.3l3.3 2.7M970.9 237.9l3.1 6.8M1030.3 296.4l2.7 3.3M1010.8 139.1l0.7 1.3M939.1 334.4l1.1 1.1"/>
<path stroke="#fff" stroke-width="5.5" stroke-opacity="0.5" d="M937.5 207.2l1.6 1.9M873.8 282.4l3.5 5.5M954 318l3 4M934 137.2l1.5 7.9M956.5 161.4l1.1 1.3M850.1 209.1l3.9 4M1068.2 294.2l3.2 2.6M892.4 160.9l2.4 1.1M945 154.9l2.2 6.9M864.9 245.6l3.9 1.2M912.3 336.8l6 3.5M927.8 113.1l2.9 6.4M948.4 189.4l3.1 6.7M1034.3 306.2l3.7 5.4M1031.4 201.4l3 6.3M861.6 243.9l5.1 4.2M945.6 325.1l1.5 4.5M862.8 163.3l1.5 6.1M891.7 328.4l2.9 2.9M828.6 240.4l1 1.9M1023.5 264.2l4.1 2.5M1068.1 129.6l-0.4 5M1009.6 261.8l2.3 6.2M809 95.5l4.9 2.9M976.7 110.2l1.7 4.2M956.4 203.7l2.5 4.3M878.1 146l3 1.3M838.5 175.1l4.6 4.1M998.4 129.1l0 1.8M1027.7 159.7l0.9 2.3M932 173.6l5 4.1M986.7 124.1l0.8 1.5M886.3 264.7l6.4 1.3M837.6 214.4l4.3 4.1M991.8 265.3l2.3 2.1M904.2 95.1l2.4 6.3M876 265.2l3.6 3.2M809.9 181.8l1.8 0.3M842.2 290.7l5.5 5.6M888.1 167.1l0.7 0.9M904.7 137.4l1 5.9M944.6 73.5l3.9 3.5M874.9 250.5l3.2 1.4M1004.6 274.5l4.5 5.6M927.3 312.5l2.4 1.2M871.5 124.8l2.5 2.6M913.9 207.8l2.3 6M821.3 182.3l3.6 1.4M857.6 121.5l0.9 1.7M893 328l6.8 1.5M971.5 171.3l1.5 1.2M863.5 184.2l3.1 4.6M920.3 175.2l3.3 2.5M831.2 125.5l5.2 3M850.9 83.4l2.4 2.6M976.2 219.6l0.3 3.5M1042 114.5l-0.4 2.1M929.4 122l0.9 1.3M913.9 226.2l2.1 6.2M940.6 189.2l1.1 7M869.3 327.6l2.4 1"/>
<path stroke="#fff" stroke-width="7" stroke-opacity="0.5" d="M833.1 305.2l4.2 2.9M829.1 269.7l2.1 1.4M959.9 119.4l5.2 4.5M968 95.6l2.2 7.2M937.4 119.4l2.5 2M1009.9 130.5l3.1 5.6M851 101.6l6.5 3.5M957.2 146.5l1 1.2M1060.3 333.3l1.9 4.1M878 90.4l2.9 4.5M988.2 324.6l3.9 1.7M931.2 329.6l0.9 1M977.5 258.1l4.3 4.6M1063.7 308.1l0.9 5.2M820.6 172.8l1.4 1.7M871 234l3.4 2M908.7 338.7l4.4 2M803.5 256.5l7 2.9M887.9 193.5l4.2 2.4M1045.1 273.3l0.8 0.8M924.6 172.8l3.5 5.3M860.2 187.3l1.5 3.5M851.8 130.3l1.6 2.1M894.4 65.5l0.5 1.5M883.9 268.3l6.9 3.9M843.8 73.7l4.2 4.1M1034.4 165.9l5.2 5.2M1012.9 238.9l3.2 2.8M910.1 84.1l2.4 7.5M933.8 100.6l0.7 3.7M929.6 148l2.2 1.9M857.7 241.3l1.8 3.6M1008.7 156.6l3.2 4.2M831.8 90l3.9 4.7M901.3 167.1l0.7 1M1034.1 284.4l0.6 3.8M1003.8 148.2l0.7 2.4M893.7 271.5l4.4 2.7M874.2 208.1l3.4 5M860.7 125.5l6 3.1M813.5 252.8l5.2 1.5M843.7 221.4l2 1.5M1025.6 201.3l2.1 2.8M806.6 256l4.6 5.5M806.7 199.6l4.8 4.8M806.7 232.5l5.2 2.6M857.4 66.2l2.5 1.9M936.5 72.2l-0.2 3.2M957.7 82.7l0.5 2.7M919.1 296.7l1.9 3.5M868.5 241.7l1.4 2.3M952.7 128.9l1.3 4.2M965.8 237l1.4 2M916.8 331.5l4.4 3.3M930.2 216.2l1.6 4.2M854.9 199l2.9 4.7M834.6 205l3.9 1.5M919.6 289.7l1.8 1.8M870.2 174l1.6 6.2M829.5 200.9l1.3 1.3M866.1 92.2l6.5 4M1064.7 187.8l-0.4 3.7M906.3 290.9l4.4 5.7M812.5 146.3l0.6 1.4M989.1 93.4l-0.4 2.9"/>
<path stroke="#fff" stroke-width="10" stroke-opacity="0.5" d="M839 261.3l2.5 2.9M926 195.2l1.1 2.4M984.3 185.1l2.2 1.5M967.3 191.1l1.5 3.4M839 119.8l1.8 3.6M986.4 330.7l2.7 7.5M826.2 90.3l3.6 2.4M943.4 137.8l4.3 2.8M827.5 326.2l2 2.2"/>
<path stroke="#fff" stroke-width="7" stroke-opacity="0.7" d="M1030 155.7l0.4 1.4M1025.9 281.6l1.9 3M992.3 129.1l1.9 2.6M841.4 302.3l7.7 0.8M1028 252.7l3.5 5.7M818.3 317.7l1.6 0.4M884.9 113.5l1.7 5.7M939.8 109.4l0.3 1.6M859.1 70.6l0.7 1.6M938.6 335.7l5.4 2.9M958.5 239.5l1.6 0.9M914.2 176.4l2.2 3.2M952.3 139.6l1.5 2.9M924.9 149.7l2.2 6.4M862 277l2.9 2.2M1046.1 247l2.3 3.3M873.2 198.4l1.7 4.5M806.9 290.3l4.1 2.4M906 291.3l1.2 3M996.4 114.6l3.5 4.8M956.9 129.3l-0.1 5M974.3 140.9l0.1 4.2M880.3 190.3l1.6 2.4M839.8 104.8l5.9 4.5M869.1 150.5l2.6 4.7M1017.1 229.6l4.5 4.9M1040.1 221.9l0.4 4.5M984.4 105.7l2.3 7.5M914.7 207.6l0.8 0.8M1029.1 89.2l-1.3 4.4M914.4 206.7l1.1 5.4M928.1 134.5l0.9 4.7M867 265.6l3.6 3.5M955.6 143.7l2.4 4.8M1042.9 163.2l0.7 4.1M945.9 71.7l0.1 1.8M1026.2 300.7l1.3 3.2M934.9 268.2l1.9 0.7M865.6 280.3l4.7 4.6M957.7 83l-0.8 6.9M1028.2 294.4l6.4 4.7M917.1 285.6l1.2 2.6M822.7 224.7l6.4 3M889.6 277.3l4.6 2.4M1069.9 226.5l3.5 3.5M970 326.5l5.1 5.3M864 125.9l3 2M813.9 165.8l2.8 3.5M899 121l0.6 2.2M865.2 172l6.4 4.7M798.4 217.5l7.5 2.1M838.6 149.4l0.7 0.7M987.3 287.9l3.2 1.4M1042.5 318.2l3.4 4.3M822.3 178.3l2 5.3M869.1 241.8l5.9 4.6M1004 230.4l3.1 3.9M823.2 249.7l5.8 4.4M866.4 167.7l1.8 1.7M840.2 252.2l3 1.8M1055.1 252.3l-0.2 6.3M917 278.7l2.7 6.1M1019.4 230.3l4.6 4M943.5 227.5l4.3 5.3M968.2 182.2l0.4 4M1012.4 286.9l0.5 3.8M871.1 194.8l0.9 1.6M870.1 96.7l1.7 3.8M944.6 268.5l2.6 1.2M892.9 164.4l0.9 2.6M935.8 181.3l0.5 5.1M873.8 113.5l1.7 7.6M857.3 272.6l1.7 0.2"/>
<path stroke="#fff" stroke-width="5.5" stroke-opacity="0.7" d="M1003.3 180.4l1.6 1.6M807.4 182.6l4.8 4.7M989.7 171.3l2.8 3.1M1001.8 223.8l1.1 1.2M997.5 184.3l2.1 1.7M1001.3 138.4l0.2 1M944.8 86.2l-0.2 2M1036 321.9l3.4 3.1M933.7 227.4l4.7 2.6M851.3 128.8l1.4 2.2M821.6 124.5l4.2 5.8M971.8 152.2l2.5 2.2M799.5 200.5l4.4 4.4M1069.8 235.1l5.3 4.9M873.9 220.7l5.7 3M857.7 259.4l3.5 0.7M914.6 173l0.8 0.8M1030.6 83.1l1.3 6.7M885.4 302.4l2.3 2M963.6 225.2l1.1 2.3M805.2 125.1l1.8 3M933.8 170l5.8 3.4M852.2 95.8l3.3 2.1M1027.1 250.6l2.3 7.4M977.3 70.4l1.2 5.3M930.4 313.5l0.6 1M976.8 285.6l0.6 2.8M798.9 214.9l5.3 3.9M1072.4 294.8l1.3 2.6M1051.4 194.5l0.8 4M808.1 86.6l4.1 2.6M1058.4 293.9l4.5 5.5M945.2 224.1l5.8 2.8M1045.6 64.8l-2.2 6.4M975.8 230.7l5.1 4.6M901 239.3l2.9 5.6M927.1 121l2.9 2.9M1075.4 171.4l-1.9 6.7M991.5 90.3l-0.2 5M1021 122.5l4.3 6M970.8 80.4l0.5 6.3M1004.4 297.7l0.9 6.7M952.4 176.1l5.3 5.2M868 232.9l2.1 4.8M951.3 205.4l1 6.6M823 127.7l3.4 2.2M951.4 274l1.9 7.1M966 139.3l0.3 2.8M864.8 333.6l3.4 2.8M814.7 151.9l2.6 1.7M970.1 186.8l4.8 3.5M941.5 105.3l1.4 2.4M881.5 325l3.5 4.2M966.2 196.8l1.3 1.3M909.1 65.3l0.3 2.5M815.7 131.4l1.3 2.8M1068.2 171.1l-0.6 3.3M822.5 247l1 1.3M925.8 319.8l2.2 3.1"/>
<path stroke="#fff" stroke-width="8.5" stroke-opacity="0.7" d="M833.2 150.8l1.1 1.2M1013.9 136.2l1.5 2.7M801.1 203l7.7 0.8M943.7 213.3l5.2 3.1M863.7 291.8l4.2 5M1023 282.9l2.4 7.6M817.9 249.5l2 0.4M944.9 198.1l0.5 4.5M919.6 251.8l1.6 6M818.1 137.3l5.3 5.8M921.6 100.1l0.2 2.2M814.8 195.3l3 2.2M933.9 225.5l2.7 4.8M804 178.9l3.7 3.4M993.7 217.5l3.4 6.1M936.8 110.1l1.5 3.7M846.9 162l3 3.7M869.3 145.6l0.9 1.7M804.1 103.9l1.5 5.8M892.7 221.5l2.5 7.2M902 154.3l2.8 5.3M947.9 168.8l1.5 1.3M985.5 332.1l2.9 1M801 196.1l6.2 2.2M891.1 296.3l2.8 5.1M1044.9 84.3l-0.5 1.5M804.8 276.5l1.1 0.6M1001 232.5l3.4 5M1023.3 275.1l5 5.9M807.3 286.1l3.6 4.5M879.5 274.3l2.8 1.7M950.2 247.5l4.1 4.4M845.1 206.3l3.8 1.1M964.4 138.5l4.8 3.8M920.5 253.7l2 1.3M846.7 201.4l5.9 2M1012.6 66l2.9 3.6M880.4 249.2l0.9 0.6M871.2 81l1.3 2.2M897.5 258.8l2.2 6.6M883.5 328.2l6.2 2.9M987.1 90.7l-0.3 1.6M809.9 242.8l5.2 2M955.6 86.5l3.1 5.9M961.9 324.7l2.2 0.8"/>
<path stroke="#fff" stroke-width="10" stroke-opacity="0.7" d="M891.3 264.9l1.3 2.3M847 264.5l2.6 1.4M985.1 268.7l1.8 2.7M848.4 266l6.4 2.6M857.8 77.5l0.4 1.9M847.7 272.1l5.1 4.2M924.8 252.5l3.5 4.5M822.9 286.1l2.6 2.5M1071.7 143.8l2.4 4M975.6 185.8l4.8 4.6"/>
<path stroke="#fff" stroke-width="5.5" stroke-opacity="0.9" d="M814.8 90.3l2 2.6M831.7 152.2l4 3.8M815.4 247.6l5.5 3.8M1071.2 302.2l0.9 7.6M1011.4 79.3l1.6 4.8M1068.9 280.2l2.4 4.5M898.7 211.5l2.4 5M960.1 90.6l3.5 3.2M954.2 161.9l3.2 4.2M979.3 254.8l7 3.7M931.3 76.3l1.1 1.3M949.7 322.5l1.4 4.6M906.4 260.5l0.7 0.9M1004 302.7l2.2 3.5M800.8 155.3l1.9 2.2M816.3 101.7l2.2 1.1M1043.9 270.5l5.1 3.7M993.3 229.6l2.9 2.2M1019.9 316.6l2.5 6.2M925.7 194l2.6 1.8M872 289l2.5 0.3M921.3 294.1l3.3 6.1M880.4 146.9l4.9 2.3M1017.5 218.1l0 2.4M862.5 131.4l3.3 3.9M1067.6 260.4l2.2 5.9M814.5 267l7.1 0.5M801.7 175.3l1 0.5M905.2 83l4 4.5M974.6 78.3l1.6 1.8M838.4 270.7l3.9 6.3M943.2 215.7l3.9 2.4M874.8 226.3l3.4 3M892.5 340.2l0.9 0.4M822.2 214.6l4.3 1.5M918 239l2.8 2.3M897.5 225.6l1.2 0.7M876.5 312.4l7.1 2.2M974.7 104.2l1.3 5M864.4 234.5l3.1 2.8M848.2 149.1l3.6 1.2M872.9 217.7l6.1 3.2M970.6 200l0.2 2.1M883.7 82.3l4.8 5.8M974.2 127.7l0.9 3.3M846.8 152.9l3.7 2.6"/>
<path stroke="#fff" stroke-width="7" stroke-opacity="0.9" d="M816 275.4l1.7 1.7M901.6 187.8l7.3 3M957.2 216.6l1 2.6M808.2 222l2.3 2.5M944.4 133.2l1.5 6M874.9 323.5l3 2.2M851.9 161l0.4 1.4M845.7 112.9l0.7 1.5M896 219.7l1.7 0.7M990.9 207l3 2M874 115.6l4.8 4M919.8 94.8l1 1.1M896.6 272.5l3.5 5.1M881.5 254.3l4.8 4.5M903.8 246.8l1.1 0.4M884.1 303.9l5.6 4.8M869.1 113.7l1.8 2.6M822.5 283.6l4.7 2.2M891.8 307l4.4 1.9M873.5 248l5.5 3.4M1018.1 310.5l0.5 2.7M851.2 302.9l5.3 4.7M850 238.3l4 5.3M998.3 201.3l0.9 1.3M849.8 173l5.1 2.7M899.3 255.9l5.1 2.3M842.4 338.7l3.6 1M947.5 225.6l0.9 1.3M836.7 227.2l4.4 2.8M999.7 249.9l2.8 3.5M920.4 229.8l1.3 0.8M887.7 239.3l5.6 5.5M1069.6 121.6l-2.1 5.2M893.7 84.8l1.8 1.7M817.4 160.4l3.6 3.7M797.7 331l7.7 0.6M845.6 78.6l1.1 1.8M1026 210l6 5.2M877.1 216.9l3.2 2.9M930.8 96.1l3.2 2.8M962.7 134.8l2.5 5.4M842.8 69.4l1.6 1.6M968 145.8l3.6 3.3M845 161.9l2.6 4.2M929.8 283.1l3.5 4M867.4 115.8l0.6 3.5M941.4 113.4l0.3 3.1M868.3 279.2l2.6 3.3M925.5 277.3l0.6 0.8M816.8 128.8l5.9 2.7M866.8 233.7l5.6 1.9M847.1 203.4l6.4 3.1M1057 262.9l4.4 4.2M843.7 171.2l0.7 1.8M838.1 200.4l3.4 1.4M1009.1 194.7l4.4 6.6M900.1 264.4l3.2 7M810.1 109.3l1.8 2"/>
<path stroke="#fff" stroke-width="10" stroke-opacity="0.9" d="M1006.9 222.4l3.2 6.7M880.6 133.8l2.6 3.7M970.4 166.3l2.4 2.8M975.3 332l5 2.4M1012.8 154.6l3.1 6.4M960.3 130.6l1.7 3.8M985.3 236.2l0.6 5.4M808.5 115.1l3.8 6.2M825.8 74.2l4.9 3.3M807.8 108.2l3.1 4.5M875.9 87.7l2.1 1.2M970.4 246.8l0.9 0.9M978.8 91.5l0.3 5.8M1013.1 255l1.5 2.1M845.8 194.9l2.3 4.6"/>
<path stroke="#fff" stroke-width="8.5" stroke-opacity="0.9" d="M984 216.5l1.3 0.9M930.7 335.5l5.7 1.2M860 118.1l2.7 5.6M875.7 205.2l3.8 2.2M863 189.7l5 2M955.1 100.6l1.4 5.1M926 167.6l0.3 1.9M885.1 272l2.6 6.9M882.8 75.9l4.4 3.1M921.3 86.8l3.6 5M869.3 314.5l4.1 0.3M1025.7 147.2l-0.2 4.6M895.1 283.8l1.1 0.4M812.3 260.2l3.4 3M923.5 164.8l2.3 3.9M890 265.5l1.3 1.2M1072.2 125.3l1.7 4.5M894.5 185.1l1.3 4.2M860.2 308.9l1 0.4M894.8 336.9l7.3 0.7M804.4 149.2l2.5 4.6M1017.8 234.7l5.4 4.3M966.8 205l0.2 2.7M882 166.3l0.9 2.1M904.1 177.9l0.5 2.3M883.9 184.2l5.1 5.4M996.3 278l6.4 3.5M999.2 282.1l2.7 3.3M851.8 151.4l2.9 2.8M847.5 338.8l1.7 0.5M853.7 312.4l7.2 1.7M880.3 180l2.8 2.7M986.4 157.8l1.1 1.4M1007.5 233.5l1.7 4.5M908.7 99l2.7 2.5M863.3 68.1l0.3 3.6M901.1 327.5l2.9 1M948.4 79.5l0 3.9M860.6 118.9l4.4 3.9M922.7 80.6l-0 1.1M953.2 109.1l0.8 1.8M997.6 126.2l3.9 3.6M924.4 111.9l3.8 6.4M944.1 110.2l2.5 6.3M844.7 308.7l4.1 4.1M997.8 109.9l-0.9 5.9M934.2 143.9l2.6 2.8M805.5 109.3l2.3 4.5M871 276.6l5.4 1.3M945.2 161l1.3 6.4M900.6 67.4l3.8 4.1M884 257.6l1.6 0.6M914.1 216.5l4.3 5.6M819.2 146.4l1.7 3.4M802.2 272.6l2.1 2.2M999.7 201.3l1.3 2.2M824.9 266l4.4 1.1M917.3 212.8l5.9 3.7M947.6 324.1l7 2.1M1008.1 69.8l1.9 6.5M914 114.8l1.2 1.1M1020.4 204.4l-0.8 7.3M849.1 326.2l3.5 3.8M928.2 270.7l2.6 2M1006.3 230.7l1.8 1.3"/>
<path stroke="#000" stroke-width="3" stroke-opacity="0.7" d="M966.1 168.5h0M1038.3 177h0M1029.7 155.7h0M1027.1 282.6h0M1072.9 318.1h0M906.2 188.5h0M835.6 306.4h0M962.8 120.9h0M847.2 161.7h0M993.4 129.8h0M958.5 218.3h0M968.8 99.7h0M808.5 223.5h0M937.8 120.7h0M1029.5 256.1h0M1012.3 134h0M818.9 318h0M851.1 162.5h0M940.7 109.9h0M846.5 113.4h0M859.4 70.5h0M941.1 338.1h0M878.9 93.1h0M958.5 239.3h0M990.6 325.3h0M820.4 80.3h0M931.6 330.6h0M953.9 140.9h0M1064 311.3h0M821.4 174.4h0M925.1 152.8h0M862.8 278.2h0M910.2 339.7h0M1022.3 181.9h0M897.8 275.1h0M884.3 256.7h0M904.4 246.8h0M887.6 306.9h0M869.1 115h0M825.5 284.2h0M808.8 291.1h0M894.9 307h0M1039.1 82.5h0M1019 311.9h0M926.9 174.8h0M852.9 240.8h0M907.3 293.5h0M998.9 118h0M851.9 131.8h0M956.8 132.1h0M852.3 174.9h0M973.5 142.4h0M893.8 66.7h0M1073.3 241h0M916.3 153.1h0M886.9 269.6h0M846.4 75.3h0M933.9 103h0M930 148.1h0M833.8 92h0M901.7 168.4h0M870.3 153.2h0M854 98.5h0M1039.4 224.1h0M845 339.3h0M985 110.5h0M914.9 207.1h0M1028.2 92.1h0M915.2 209h0M948.7 225.9h0M868.9 267.7h0M956.2 146.6h0M1044.2 166.1h0M896.3 273.7h0M1001.9 252.5h0M1026.3 303.2h0M875.5 209.6h0M889.6 242.2h0M956.9 87.2h0M1031 296.9h0M863.3 126.9h0M817.1 253.3h0M916.8 286.6h0M819.3 162.1h0M844.5 221.4h0M969.1 154.3h0M1027.5 202.1h0M809 259.5h0M879.4 310.9h0M801.9 332.2h0M1071.1 227.5h0M845.6 79.9h0M973.5 330h0M865.8 126.2h0M809.3 201.2h0M1028.5 211.9h0M808.9 234.4h0M815.8 168.2h0M898.4 121.5h0M868.2 174.6h0M878.1 217.6h0M857.9 67.2h0M931.5 98.4h0M838.4 150.6h0M936.2 74.7h0M989.4 288.5h0M958.5 84.7h0M822.3 181.7h0M963.5 137.3h0M869.5 242.1h0M952.7 131h0M882.3 224.8h0M966 237.4h0M1006.4 231.5h0M826.6 252.8h0M845.7 164.9h0M930.1 218.6h0M1027.4 142.3h0M866.6 168.6h0M856.2 201.8h0M866.9 117h0M941.4 114.6h0M841 253.2h0M869.3 280.8h0M836.4 205h0M926.4 278.4h0M1054.6 254.9h0M870.7 177.3h0M819.3 129.7h0M946.5 230.3h0M869.4 94.3h0M968.3 183.7h0M1013.5 288.9h0M851.2 205.7h0M1059.3 265.4h0M872.2 196.1h0M945.7 270.1h0M844.5 173.1h0M1063.5 189.9h0M838.8 200.6h0M812.1 147.4h0M1011.9 197.1h0M936.1 184.1h0M874.8 118.2h0M901.7 267.1h0M858.6 271.9h0"/>
<path stroke="#000" stroke-width="2" stroke-opacity="0.7" d="M875.2 285.8h0M1005 181.8h0M834 153.3h0M955.3 319.6h0M810.7 185.2h0M990.4 172.9h0M1003.1 225.3h0M998 186h0M1001.7 138.8h0M935.4 141.9h0M956.7 161.3h0M852.5 210.2h0M935.6 228.6h0M1069.2 295.7h0M946.1 159h0M849.4 106.3h0M852.7 130.9h0M914.4 338.4h0M823.6 127.9h0M928.8 115.5h0M949.7 193.6h0M801.7 201.8h0M1032.3 204.8h0M1072.5 305.9h0M864.8 245.1h0M1013.1 80.7h0M1070.5 281.5h0M876.8 222h0M860.2 259.4h0M960.8 92h0M982.3 256.9h0M1031 86.9h0M964.1 226.6h0M806.9 126h0M893.7 330.3h0M828.5 241.9h0M1025.4 266.3h0M1067.1 131.8h0M936.3 171.2h0M853.5 97.8h0M977.8 111.6h0M957.2 206.2h0M930.9 76.7h0M950.8 325.5h0M878.6 147.6h0M1005.1 305.5h0M840.3 178.2h0M802.1 155.9h0M978.5 73.6h0M1027.9 160.4h0M817.8 101.6h0M930.8 314.7h0M889.3 265.8h0M839.7 216.3h0M889.6 112.6h0M905.5 99h0M877.4 266.7h0M810.3 182.6h0M800.7 217h0M1072.4 295.6h0M811 87.3h0M1060.3 296h0M887.9 168h0M905.3 141h0M882.9 148.6h0M947.3 225.6h0M1044.4 67.6h0M875.7 250.3h0M978.5 232.5h0M1068.8 262.6h0M1007.2 277.7h0M902.9 242.7h0M802.9 175.4h0M991.4 93.3h0M906.6 85.8h0M1043.3 164.3h0M1004.5 301.6h0M927.2 82.6h0M823.5 182.3h0M975.9 79.8h0M955.3 177.9h0M859.1 121.5h0M869.8 235.8h0M895.9 328.4h0M824.6 128.5h0M966.7 140.2h0M866.9 335h0M921.5 177.3h0M945.9 216.5h0M876.3 228.4h0M973.1 189.5h0M941.4 106.1h0M883.6 327.6h0M852.1 84.6h0M920.3 239.2h0M1042.3 115.2h0M929.3 122.2h0M898.3 226.1h0M879.6 313.4h0M915.9 228.9h0M974.6 107.4h0M966.8 196.8h0M909.6 66.9h0M894.8 247h0M816 132.8h0M822.8 248.6h0M969.7 201.9h0M940.2 192.2h0M927.1 322.1h0M974.8 128.4h0M848.6 155.1h0"/>
<path stroke="#000" stroke-width="4" stroke-opacity="0.7" d="M1008 225.9h0M916.3 213.1h0M944.6 172.5h0M818.6 292.8h0M1008.4 93.4h0M861.7 121h0M807 214.2h0M882.5 136h0M878.4 207.1h0M830.3 221.4h0M915.8 200.5h0M955.7 102.3h0M894.4 258.6h0M824.4 209.5h0M932.5 282.5h0M891.4 267h0M804.5 204h0M926.7 169h0M1011.1 175.9h0M885.8 78.1h0M971.9 167.4h0M826.7 202h0M866.6 294.5h0M872.2 315.2h0M855.1 125.8h0M896.4 284.6h0M819.8 249.2h0M1056.1 317.9h0M1014.9 157.8h0M944.5 200.5h0M1005.8 135.7h0M920.9 254.2h0M820.6 141h0M922.2 101.1h0M816.3 196h0M935.5 227.3h0M872.3 284h0M926.5 197.4h0M925.7 170.4h0M984.9 185.6h0M806.7 179.8h0M1027.7 296.3h0M1007.2 226.1h0M937 111.5h0M967.3 192.3h0M1029 170.2h0M931.4 152.4h0M1073.2 127.7h0M895 188.1h0M848.7 163.3h0M818.9 298h0M899.3 336.7h0M869.2 145.8h0M805.8 151.1h0M929.5 206h0M929.8 211.5h0M1021 235.9h0M977.1 97.3h0M928.3 314.8h0M894.8 224.4h0M840.2 122.1h0M985.7 239.3h0M902.5 156.1h0M938 203.6h0M1029.3 106.1h0M906.5 90.3h0M948.3 169h0M854.6 157.8h0M968.2 118h0M1037.2 337.8h0M852.3 267.8h0M987.9 332h0M827.3 75.3h0M947.8 102.3h0M803.4 197.8h0M882.6 167.6h0M857.4 77.9h0M904.2 179.7h0M979.3 163.9h0M978 311.7h0M856.8 146.8h0M828.2 91.8h0M979.3 195.9h0M886.9 187.9h0M829.8 103h0M851.2 275h0M1058.9 124h0M846.9 128.9h0M926.1 255.7h0M891.1 221.6h0M812.9 173h0M853.6 153h0M848.8 339.2h0M1023.8 100.3h0M942.2 80.6h0M881.4 180.8h0M913.9 216.8h0M809.4 198.4h0M878 88.8h0M892.2 179.6h0M826 124.2h0M864.3 70.9h0M944.8 140h0M1026.1 277.2h0M828.5 327.4h0M999.1 212h0M833.8 264.6h0M1014.1 167.4h0M901.9 327.7h0M815.7 258.4h0M820.3 148.3h0M970.7 247.3h0M948.5 82.4h0M862.4 121h0M992.8 180.3h0M823.9 286.9h0M839.5 102.4h0M958.1 177.7h0M809 288.5h0M881.3 275h0M999.2 127.2h0M857.4 119.5h0M946.3 113.5h0M951.3 249.2h0M846.4 206.6h0M846.3 310.9h0M997.6 112.3h0M924 242.3h0M934.8 144.4h0M967.3 141.3h0M1074.1 71h0M850.4 202.2h0M806 111.7h0M979.8 94.6h0M873.9 276.5h0M946.1 163.9h0M965.9 184.8h0M902.4 69.3h0M1013.1 256.1h0M915.9 218.8h0M901.3 68.5h0M820.1 148.9h0M881.7 249.4h0M872.7 81.7h0M886.1 329.9h0M999.3 202.6h0M827.5 267.2h0M1017 206.4h0M920.5 213.7h0M977.4 187.9h0M1016.5 208.6h0M950.7 324.6h0M969.5 178h0M1009.8 73.8h0M914.8 116.2h0M1020.5 208.7h0M813 243.1h0M1007.4 232.1h0M973.2 240.8h0M1031.8 297.5h0M1011 140.3h0M924.4 242.3h0M964 324.3h0"/>
</g></g>
<g clip-path="url(#cp2)"><g filter="url(#bl)" fill="none" stroke-linecap="round">
<path stroke="#fff" stroke-width="2" stroke-opacity="0.2" d="M1331.3 233.5l2.9 5.7M1225.3 244.2l3.3 9.5M1180.8 261l3.3 7.5M1232.4 208.8l4.6 9.4M1261.7 322.6l2.5 6.9M1205.2 332.4l4.3 8.7M1198.3 163.6l4.5 12.5M1256.1 275.4l2.7 5.9M1406.5 293.9l7.1 8.8M1338.8 284.3l1.7 5.1M1215.7 318.7l6.3 11.8M1205.2 268.4l2.8 5.1M1219.7 183.4l7.7 9.9M1382.1 276.1l3.2 6.2M1195.4 176.2l3.5 6.9M1370 203l8.7 10.7M1219.7 193.2l4.6 8M1140.7 337.4l3.4 6.5M1256.6 276.6l2.3 5.7M1387 192.2l6.9 9.1M1202.2 268.7l6.5 11.2M1273.8 205.4l2.7 5.5M1173.8 267.1l4.6 5.9M1387.9 223.2l5.6 8.4"/>
<path stroke="#fff" stroke-width="3" stroke-opacity="0.2" d="M1288.8 295.7l5.6 11.5M1393.9 214.9l4.7 6.6M1359.6 224.5l6.3 7.9M1232.7 239l2.8 7.2M1260.3 265.9l2.7 4.6M1154.9 246.1l6.9 8.8M1329.1 197.8l2.8 4.3M1226.4 323.5l2.3 6.8M1408.8 133.8l5.3 6.7M1355.4 307.5l4.5 5.6"/>
<path stroke="#fff" stroke-width="3" stroke-opacity="0.35" d="M1223.4 326l4.4 13.2M1272.7 207.1l5.2 6.1M1331 231.3l3.4 7.7"/>
<path stroke="#fff" stroke-width="2" stroke-opacity="0.35" d="M1208 312.3l6.2 7.2M1223.1 319l4.4 7.9M1239.7 323.3l4.6 6.5"/>
<path stroke="#fff" stroke-width="4" stroke-opacity="0.2" d="M1376 286.4l2.2 1.4M1394.9 288.1l0.7 1.3M1193.3 325.9l0.3 0.3M1316.5 202.1l0.1 0.1M1216.5 335.3l0.5 2M1390.9 334.5l2.1 2.1M1384.2 238.1l1.3 2.3M1189.5 208.4l0.1 0.1M1270 224.5l0 0.4M1193.8 302.1l0.5 0.9M1192.9 285.6l0.6 1.5M1202.2 173.1l1.6 2.7M1184.6 327.6l0.2 0.2M1211.5 220l0.5 2.4M1260.9 248.4l0.7 2.4M1318.5 262.4l1.9 3.4M1194.7 323.1l1.8 1.1M1343.6 211.3l0.2 0.9M1223.1 237.8l1.1 2.7M1300.6 245.3l0.9 0.9M1176.1 204l1.5 1.2M1277.7 185.4l0.4 0.4M1232 213.1l2.4 2.6M1224.7 194.9l0.4 3M1261.8 212.6h0M1202 332.9l0.4 0.6M1196.4 150.3l0.5 3.1M1353.3 239.7l0.4 1M1314.7 236.8l1 0.9M1337.6 249.5l1.9 2.3M1184.5 262.6l0.2 0.3M1194.5 322.6l0.8 1.4M1358.5 243.6l2.4 1.6M1326.1 232l0.8 0.5M1197.7 297.4l1.4 3.4M1409.6 227.5l2.8 2.5M1229 262.2l0.3 0.5M1381.4 274.6l1 1.9M1339.1 229.6l0.2 0.9M1301.4 312.4l0.4 0.8M1188.6 226.4l1.6 1.8M1184.1 264.9l1.4 3.2M1186 182.7l0.9 2.4M1245.6 325.5l1.5 1.9M1345.3 245.5l0.5 1.9M1222.3 260l0.1 0.3M1351 173.4l0.5 0.5M1311.9 288.6l0.3 0.5M1321.3 170.6l1.3 2.3M1320.8 189l2.2 2.1M1342.4 141h0M1397.8 245l1.3 0.8M1205.4 309l0.6 3.7"/>
<path stroke="#fff" stroke-width="5.5" stroke-opacity="0.2" d="M1166.9 312.8l0.5 3.5M1243.3 202.6l2.5 1.9M1229.2 317.6l2.1 1.3M1156 66.3l0 0.8M1191.9 297.6l0.3 1.4M1281.3 335.8l0.7 0.9M1200.5 331.2l0.1 0.1M1364.9 311.2l1.5 3.4M1146.4 328.4l0.1 2.2M1298.6 208.4l0.8 1.2M1327.7 295.4l1.2 2.6M1361 226.3l0.7 0.6M1273.2 292.7l1.3 3.4M1250.9 326.7l0.5 0.5M1332.6 175.6l0.1 0.2M1175.2 282.7l0.4 1.3M1254.7 248.4l2.3 1.9M1355.2 280.2h0M1231.4 303l0.6 1.9M1273.7 275.3l0.8 1.5M1369.5 300l1.8 1.7M1313.1 218l0.4 0.3M1396.7 203.2l0.4 2.6M1298.9 253l0.9 1.7M1269.7 232.7l0 0.1M1367.7 324.1l0.8 1.1M1384.6 247.1l0.4 1.7M1280.4 229.6l0.5 1.2M1167.4 286.2l1.1 1.9M1282.7 229.3l1.5 1.4M1321.9 268.7l0.3 3.1M1177.3 308.3l2.5 1.6M1300.4 273.5l0.6 0.5M1359.6 264.2l0.6 2M1349.5 320.1l0.6 2.6M1407.7 229.2l0.6 0.6M1232.1 171.3l2.6 1.6M1236.1 237.6l0.2 1.5M1318.3 288.1l0.9 1.4M1393 249.9l0.8 2.7M1208.8 185.9l0.1 0.1M1257.2 253.4l0 0.2M1229.8 309.4l2.4 1.5M1179 300.2l1 1.1"/>
<path stroke="#fff" stroke-width="5.5" stroke-opacity="0.35" d="M1380.3 283.4l0.5 3.2M1229.9 312.6l0.7 0.4M1377 264.2l2.5 2.7M1385.4 282.6l1.5 3.4M1394.6 211.8l0.9 3.7M1300.4 224.5l0.8 2.4M1301.6 189.3l0.4 1.3M1223 336.7l1.1 1.4M1168.3 249.9l0.8 3.6M1373.8 208.6l0 2.4M1263.3 232.9l0.3 2.6M1379.8 250l0.1 0.8M1236 307l2.1 2.1M1359.5 228.5l0.7 0.6M1332.9 198.7l0.2 0.7M1240.8 234.9l0.8 1.7M1252.9 215.6l0.2 2.1M1376.4 222.8l1.9 1.2M1323.8 210.4l0.2 2.2M1381.1 242.5l0.9 1.1"/>
<path stroke="#fff" stroke-width="4" stroke-opacity="0.35" d="M1264.8 337.2l0.2 0.5M1167.3 291.6l0.1 1.1M1302.5 196.7l1 1.3M1285 268.9h0M1355.6 231.7l0.2 0.3M1250.6 309l0 1.1M1214 290.5l0.2 3.8M1217.2 317.4h0M1243.4 320.4h0M1370.4 223l0.4 1.2M1291.2 211.2l2.2 1.4M1212.3 302.5l1.7 3.6M1280.6 316.7l0.1 0M1213 316.5l0.8 1.9M1195.9 294.9l0.3 0.2M1277.3 206.1l2.2 1.4M1388.5 247.9l1.6 1M1363.2 194.7l0.1 3.2M1229.7 331l0.3 1.6M1282.5 232.7l0.8 1.8M1301.6 285.8h0M1230.2 291.8l0.7 1.5M1342.1 237.2l1.2 1.1M1173.5 326.9l1.9 1.7M1375.2 207.2l1.9 3M1197 334.4h0M1281.8 291.9l0 2.5M1244.1 336.8l1.4 1.7"/>
<path stroke="#fff" stroke-width="5.5" stroke-opacity="0.5" d="M1179.1 276.7l3.4 2.1M1356.3 212.9l0.3 0.6M1354.3 229l0.9 1.2M1294.4 211.7l0.5 0.5"/>
<path stroke="#fff" stroke-width="4" stroke-opacity="0.5" d="M1307.9 222l0 3.5"/>
<path stroke="#000" stroke-width="2" stroke-opacity="0.7" d="M1381.3 284.5h0M1245.4 203.9h0M1229.6 318.8h0M1285.3 269.5h0M1192.8 298.5h0M1282.5 335.9h0M1200.3 331.5h0M1394.6 212.8h0M1301 226.6h0M1217.4 337.3h0M1145.5 328.6h0M1299.6 209.6h0M1385.5 238.4h0M1181.5 277.8h0M1362.2 227.6h0M1168 252.2h0M1193.1 286.4h0M1202.8 173.5h0M1184.8 328.5h0M1175.4 284.1h0M1319.3 265.1h0M1254.9 250.3h0M1194.6 323.6h0M1344.2 211.4h0M1355.8 280.9h0M1231.6 305h0M1214 291.9h0M1216.3 316.9h0M1243.2 319.5h0M1301 246.7h0M1278.4 185.8h0M1225.3 196.6h0M1262.5 212.4h0M1264 234.5h0M1371.1 301.3h0M1237.6 307.8h0M1354.9 229.3h0M1280.1 317h0M1315.3 236.7h0M1269.8 232.8h0M1184.1 263.1h0M1194 323h0M1196.3 294.6h0M1360.3 244.3h0M1168.8 286.8h0M1283.7 229.4h0M1277.4 206.7h0M1179.1 309.5h0M1300.8 273.9h0M1388.8 249.2h0M1360.2 264.5h0M1363.8 195.7h0M1333.3 199.3h0M1408.6 229.5h0M1295.5 211.9h0M1300.7 313.4h0M1241 235.3h0M1229.9 331.9h0M1185.5 265.6h0M1253.7 217.2h0M1282.5 233.6h0M1231 292.1h0M1342.3 237.9h0M1377.4 223h0M1344.6 245.8h0M1235.9 237.5h0M1222.8 260.6h0M1319 289.5h0M1312 289.2h0M1393.1 251.5h0M1324.2 210.9h0M1256.4 253.5h0M1375.7 207.7h0M1282.1 292.4h0M1231.2 311h0M1322.7 190.6h0M1179.3 300.7h0M1381.7 242.6h0M1342.5 140.2h0M1205.5 310.4h0"/>
</g></g>
<g clip-path="url(#cp2)" fill="#fff" filter="url(#bl)"><ellipse cx="1367.9" cy="203.7" rx="4.5" ry="7.5" fill-opacity="0.6"/><ellipse cx="1219.2" cy="327.6" rx="3" ry="6" fill-opacity="0.6"/><ellipse cx="1176.5" cy="268.4" rx="2.5" ry="3.5" fill-opacity="0.6"/></g>
<g clip-path="url(#cp3)"><g filter="url(#bl)" fill="none" stroke-linecap="round">
<path stroke="#fff" stroke-width="4" stroke-opacity="0.2" d="M1532 160.5l7.4 13.5M1614.8 129.7l10.5 25.7M1448.2 227.9l17.1 -10.6M1625.4 97.2l13.5 -6.8M1440.4 234.1l10 8.4M1532.1 175.9l5 10.2M1630.4 301.4l29.8 -16.3M1540.9 209.5l8.1 12.2M1672.3 108.3l4 29.2M1674.8 295.9l13.1 24M1615 331.4l19.4 -14.7M1592.3 286.8l25 -20.2M1551.3 216.9l10.5 -9.3M1619.9 173.3l16.8 27.4M1578.8 274.8l4.2 17M1588.4 241.9l8.8 24.1M1656.1 195.5l9.6 30.9M1653.2 249.7l10.4 30.7M1471.1 210.4l10.1 12.8M1676.4 205.1l2.2 12.8M1445.4 215.1l20.3 20.4M1567.9 247.9l6.4 10.3M1448.9 329.8l11.1 20.3M1572 140.5l16.3 24.8M1559.7 175l20.5 -16.1M1623.4 204.4l15.8 -4.3M1445.5 145.4l7.9 7.4M1551.4 181.9l3.5 9.8M1685.4 216.9l4.6 30.6"/>
<path stroke="#fff" stroke-width="2" stroke-opacity="0.35" d="M1586.3 134.7l7.4 17.9M1501.7 170.1l13.4 28.9M1501 225.2l5.1 12.8M1498 266.6l12.3 24.3M1684.1 213l16.5 -3.7M1541.5 252.7l14 17.8M1502.4 223.5l12.4 21.5M1442.8 344.1l20.1 -21.5M1643.9 284.1l14.5 -6.4M1504.6 183l13.8 14.6M1682.1 215.2l4.8 19M1451.2 332.2l7.8 9M1601.9 125.6l6.2 16.5M1668.9 262.5l12.7 23.6M1569 172.3l9.2 25.3"/>
<path stroke="#fff" stroke-width="3" stroke-opacity="0.2" d="M1459 250l12.8 27M1648.3 185.7l7.9 30.7M1440.7 315.8l16.6 -13.1M1487.4 258.4l10.2 -7.5M1474.6 143.6l12.3 27M1479.3 257.6l13.1 31.1M1649.4 187.9l9.1 21.7M1590.6 216.6l3.4 10.5M1508.7 221.7l12.3 -8.2M1446 306.4l9.4 10.2M1633.2 306l16 -8M1686.4 172.4l8.5 18.8M1661.5 296l13.8 29.3M1527.9 153.8l10.4 17.7M1565.7 190.7l6.8 14.4M1669 261.8l12.5 28.9M1610.6 178l11.8 28.9"/>
<path stroke="#fff" stroke-width="4" stroke-opacity="0.35" d="M1525.5 225.3l11.8 17.3M1562.1 157l10.2 30.7M1416.6 282.5l14.8 12.6M1624.8 272.8l29.5 -13M1494.4 236.7l11.1 -6M1454.4 314.8l24.5 -19.3M1546.9 225.4l6 8.1M1489.2 236.9l8.6 -7.7M1423.8 257.3l20.8 25M1538.2 233.8l13.3 28.8M1462.6 303.1l9.1 -8.6M1440.7 172.4l18.3 16.4M1452.6 163.3l18.1 -11.1M1558 171l15.3 19.9M1676.3 286.9l2.3 11M1551.1 183.3l9.1 14.9M1633.7 218.9l11.7 20.4"/>
<path stroke="#fff" stroke-width="2" stroke-opacity="0.5" d="M1462.6 242l18.8 -13.6M1488.6 281.3l7.6 8.3M1427.1 289.7l23.7 22.2M1465.2 290.7l7.9 10.9M1481.7 233.5l12.5 14.3"/>
<path stroke="#fff" stroke-width="5.5" stroke-opacity="0.5" d="M1508 149.8l13.4 14.8M1638.1 187.7l7.4 18.9M1587 211.4l21.7 -8M1494.6 215.8l8.4 13.8M1543.1 257l9 20.2M1606.1 257.2l5.5 16.2M1464.7 277.8l10.3 15.2M1486 273.5l19.5 -18.4M1577.4 274.3l16.8 -11.2M1480.9 229l14.7 -11.3M1479.6 224.2l12.4 -9.4M1514.2 243.8l7.8 11.7"/>
<path stroke="#fff" stroke-width="4" stroke-opacity="0.5" d="M1553 248.4l5.2 14.5M1609 197.6l4.5 9.1M1586.8 166.3l4.9 20M1468.3 319l7 11.6M1477 172l20.3 26.6M1419.8 274.1l9.5 12.5M1436.4 306.3l9.8 10.3M1587.2 213.2l11.1 24.2M1448.5 254l8.7 10.5M1558.8 208.3l11.2 19.9M1558.8 251.3l11.1 -6.5M1536.6 264.1l9.8 13.1M1451.5 226.7l10.3 -9.6M1574.5 179.6l4.3 13.2M1472.2 236.2l14.2 -14.4M1491.2 240.9l26.9 -17.7M1494.3 282.6l16.6 27.1M1541.8 235.5l5.4 12.8"/>
<path stroke="#fff" stroke-width="3" stroke-opacity="0.35" d="M1421.9 256.1l13 21.7M1439.9 263.2l18.3 -10.8M1544.5 220l14.2 26.4M1480.9 303.4l13 24.4M1583.6 231.5l11.6 17M1619.3 236.2l15.3 25.9M1587.1 162.8l6.7 10.6M1544.5 163.3l11.1 -6M1442 224l5.5 10.1M1486.4 121l15.9 17.9M1560.1 245.2l10.2 30.9M1543.6 183.3l13.1 -5M1595.8 134.2l10.9 25.4M1540 142.4l11.3 27"/>
<path stroke="#fff" stroke-width="5.5" stroke-opacity="0.2" d="M1622.5 235.2l4.7 13.3M1603.5 243.7l8 15.1M1643.4 182l4.9 18.5M1598.3 274l12.8 19M1650.2 300l4.7 14.9M1529.2 99.6l8 9.9M1623.5 102.3l12.2 29.2M1456.8 257.9l14 28.8M1497.4 198.5l11.6 30.1M1631.5 260l10.7 24.7M1558.4 181.5l6.9 9.4M1614.5 110.3l4.9 9.2M1509 267.4l17.6 26.1M1606.3 162.1l3.2 14.3M1485.9 215l17.2 26.2M1444.6 111.1l21.1 21M1474.7 263.4l16.3 23.6M1430.9 284l17.4 17.3"/>
<path stroke="#fff" stroke-width="2" stroke-opacity="0.2" d="M1666 201l4.2 20.1M1595.3 136.1l7.5 16.8M1604.6 254.9l12.7 20.7M1622.3 192.8l17 -4.4M1466.8 222.4l13.4 27.2M1486 156.3l6.4 10.5"/>
<path stroke="#fff" stroke-width="3" stroke-opacity="0.5" d="M1592.3 169.9l10.3 19.5M1601.8 234.7l4.8 23.5M1576.5 160.2l13.1 28.1M1554.1 252.7l16.6 21.9M1548 248l6 9.6M1526.9 160l14.6 18.3M1415.6 230.6l15.7 18.9M1634.4 184.8l3.3 10.5M1547.7 183.9l10.4 16.9M1413.1 257.9l14.2 11.2"/>
<path stroke="#fff" stroke-width="5.5" stroke-opacity="0.35" d="M1569.5 181.1l9.3 20.9M1427.5 177l21.9 -22.4M1660.2 169.5l4.8 13.1M1618.2 160l7.3 24.6M1637.7 204l6.3 11.8M1649.7 172.2l5.5 17.6M1496.7 177.7l6.3 12.3M1540.4 192.1l4.3 12.2M1534.9 258.7l14.7 -8.5"/>
<path stroke="#fff" stroke-width="10" stroke-opacity="0.2" d="M1512.3 138.7l6.5 -5.8M1630.8 318.8l4 5.6"/>
<path stroke="#fff" stroke-width="8.5" stroke-opacity="0.2" d="M1666.1 134.1l0.5 8.3M1649.7 321.6l2.4 6.2"/>
<path stroke="#fff" stroke-width="7" stroke-opacity="0.2" d="M1644.7 144.1l4.2 6.2M1585.2 126.5l3.3 6.1"/>
<path stroke="#fff" stroke-width="8.5" stroke-opacity="0.35" d="M1622.4 128.9l1.3 8.7M1445.9 312.2l4 6.3M1482.7 256.3l2.5 4.5M1503.2 293.5l3 8.4M1480.5 285.5l4.7 5.6M1555.8 233.3l8.1 -2.9M1584 189.2l0.7 3.2M1580.5 228.5l2.1 1.8M1465.6 201.8l1 -0.9M1542.8 178.7l2.8 -2.5M1453.4 151.6l1.9 1.7M1440.2 320l4.2 5.3"/>
<path stroke="#fff" stroke-width="7" stroke-opacity="0.35" d="M1478.3 158.5l4.3 -6.2M1679.8 284.7l7.2 -1.1M1581.4 147l2.4 -1.7M1487.4 218.6l5.2 -5M1450.7 333.5l2.9 -2.8M1515.3 233.7l3.7 2.1M1548.5 155.9l4.9 3.5M1678.7 267.7l5.4 5.6M1631.6 191.8l3.1 3.6M1502.8 307.1l0.4 5.3M1675 275.9l3.1 -1.5M1526.4 224.4l7.7 -4.6M1547.5 156.5l1.7 2.2"/>
<path stroke="#fff" stroke-width="10" stroke-opacity="0.35" d="M1577.3 187.4l1.4 4.2M1501.7 282.1l2 2.9M1438.7 241.5l1.6 3.1M1670.1 249l2 -2.4M1559 224.8l2.1 5.4M1513.2 296.8l1.7 2M1567.8 254.4l1.3 5.5M1569.9 217.4l8.4 -1.8M1585.6 222.8l0.3 2M1531.8 168.6l4.7 -6.4M1602.9 198.3l3 8.2M1534 337.5l1.8 2.3"/>
<path stroke="#fff" stroke-width="5.5" stroke-opacity="0.35" d="M1483.1 224.2l5.7 -6.2M1622.9 109.5l1 1.1M1486.2 216.2l1 6M1429.6 209.6l3.9 -3.2M1483.1 147l1.4 7.5"/>
<path stroke="#fff" stroke-width="5.5" stroke-opacity="0.5" d="M1640.8 226l1.3 5.3M1557.3 183.6l0.7 1.4M1562.9 294.5l2.6 -2.6M1646.5 136.4l-0.1 2.6M1608.7 139.2l4.4 -3.4M1461.7 231.1l5.8 3.9M1458.2 154.8l7.4 3.4M1438.1 225.5l4.8 5.2M1639.5 132.2l1.4 3.7M1594.1 295.9l3.8 3.5M1462.4 281.5l1.1 8.8M1425.4 328.4l1.6 5.2M1589.4 136.5l3.1 2.5M1509.5 219l5.8 -6.4M1520.1 156l2 7"/>
<path stroke="#fff" stroke-width="10" stroke-opacity="0.5" d="M1463.1 297.9l2.6 -0.9M1474.6 287.3l4.6 -1.6M1453.9 190.7l3.9 -2.9M1559.7 186.1l2.3 2.1M1684.4 236l8.2 0.4M1488.2 190.2l3.9 -4.4M1599.2 291.5l2.4 3.2M1554.1 180l-0.2 7.9M1612.6 171.1l4.3 6.7M1686.3 223.1l1.6 1.9M1682.2 231.5l4.9 5.3M1617.7 217.8l0.2 2M1561.9 210.9l4.6 -2.3M1517.5 237l0.9 8.5M1528.8 277l3 4.5M1542.1 169.5l4.3 -2.3"/>
<path stroke="#fff" stroke-width="7" stroke-opacity="0.5" d="M1431.5 239.3l1.2 3M1532.7 243.3l4 3M1454.6 219.1l6.6 -5.4M1544 138l0.1 2.3M1623.5 240.8l2.1 2.9M1581.5 202.8l1.5 1.7M1469.5 186.8l2.8 2.3M1688.2 238.3l2.7 2.7M1480.2 220.7l2.4 2.2M1421.5 188.7l2.6 1.8M1678.7 150.4l4 7.2M1531.7 188.6l1 2.4M1585.3 103.5l4.3 0M1654.8 197l5.4 6.8M1571.9 268.6l1.3 3.9M1611.7 165.6l6 -2.4M1497.1 164.3l1.8 2"/>
<path stroke="#fff" stroke-width="8.5" stroke-opacity="0.5" d="M1450.7 233l8.1 -2.1M1459.4 332.3l1.2 1.5M1479.1 223.2l1 2.5M1457 317.7l1.5 3M1484.4 253.2l0.8 1M1637.8 306.8l1.4 3.3M1609 268.8l0.7 2.4M1572.3 256.2l3.2 4.7M1634.2 286.1l-0.1 6.2M1548.8 217.9l0.8 5.8M1610.5 175.4l1.3 4.6"/>
<path stroke="#fff" stroke-width="10" stroke-opacity="0.7" d="M1442.6 229.6l2.1 6.3M1471.7 322.9l3.3 -6.8M1597.6 183.7l0.3 1.3M1579.6 229.4l1.8 -1.5M1424.4 227.1l5.6 6.2M1429.3 319.8l2.3 3M1496.9 274.9l1.2 1.1M1639.3 234.5l-0.2 2.2M1646.9 170.2l5.7 -0.5M1661.3 205.2l0.7 2.7M1477.2 251l6.1 4.8M1623.4 183.8l4.2 7.4M1460.2 201.3l1.7 -2.2M1562.6 266.6l-0.2 6M1627.6 258.4l4.2 6.6M1509.6 287.8l3 3.7M1499.8 287.4l1 -2"/>
<path stroke="#fff" stroke-width="8.5" stroke-opacity="0.7" d="M1452.1 242.7l3.4 7.8M1637.8 199.8l1.6 -2.2M1587.6 200.3l1.8 4M1496.8 299.1l1 4.4M1527.9 146.8l0.3 4.9M1609.8 236.6l4.2 6M1549.8 215.8l1.7 2.6M1595.5 212.7l5.1 -3.7M1588 189.1l1.7 3.4M1654.3 270.4l5 7.2M1499.3 268.1l6.5 6.1M1448.5 318.2l5.4 4.3M1552.7 224l1.8 -2.7M1598.3 168.6l0.5 3.5M1455 167.3l2.3 8.2M1588 241.9l1.1 -1.2M1466.5 243.1l4.2 5.9M1548 261.9l3.3 -0.3M1625.5 182.8l3.3 5.2M1614.8 192.6l0 2.6M1571 254.4l4 7.6"/>
<path stroke="#fff" stroke-width="7" stroke-opacity="0.7" d="M1628.6 262.8l-0 1.3M1567.4 154.2l3.9 4M1503.4 240.7l1.8 4.5M1587.7 274.9l1.5 4.8M1543.6 209.1l3.1 2.8M1423.5 269.3l1.7 -2.1M1532 179.7l1.1 1.5M1558.9 181.6l7.5 -3.9M1478.4 278.9l1.2 0.9M1557.8 276.4l7.5 -1.4M1666.3 282l4.6 -5.7M1423.1 247.9l2.4 4.5M1593.1 252.2l0.1 3.5M1581.1 253.1l5.8 6.7M1562.8 231.1l6.7 5.1M1633.4 222.8l-0.2 3.6M1622.4 178.5l2.9 5.4M1576.9 232.1l1.2 1.8M1482.2 224.1l2.6 6.4M1564.8 148.5l4.4 6.5M1664.6 269.2l4.6 -1.3M1501.3 154l3.9 6.2M1678.6 175.7l2.1 4.9"/>
<path stroke="#fff" stroke-width="5.5" stroke-opacity="0.7" d="M1436.5 331.5l2.9 -7.8M1458.9 297l7.1 -1.6M1611.4 267.3l1.5 -2.1M1583.3 222.8l5.3 -5.5M1651.9 280.2l1.3 -0.4M1524.5 267.9l4.1 5.8M1461.5 201l2.1 7.5M1626.7 195l0.8 -0.9M1501.7 232.1l3 -1.2M1492.5 220.3l4.9 -1.4M1632 179.8l0.5 1.1M1621.7 238l4.7 6.9M1483.3 296.1l5.6 -2.2M1466 222.1l3.1 3.7M1544.7 220.7l1.5 2.8M1457 281.4l0.9 -0.8M1444.1 218.2l3 4.3M1613.5 294l6.2 6.4M1485.2 236.5l7.3 -2.2"/>
<path stroke="#fff" stroke-width="8.5" stroke-opacity="0.9" d="M1443.7 257.2l1.9 4.7M1625.5 256.8l4.2 4M1568.9 169l5.3 6.3M1670.7 193l3.3 4.2M1632.4 286l1.5 1.5M1616.8 232l4.4 3.5M1545.6 185.4l4.1 2.5M1429.7 262.9l1.8 8.3M1530.2 249.1l4 -1.5M1547.9 266.3l2.7 1.8M1603.7 254.4l7.5 -0.3M1549.2 174.7l0.7 6M1632.6 281.3l0.7 3.7"/>
<path stroke="#fff" stroke-width="10" stroke-opacity="0.9" d="M1564.3 263.6l6.8 4.8M1619.8 238.4l2.5 3M1459.9 220.8l4.1 -0.8M1584.2 212.7l4.3 -6.3M1632.3 194.1l5 -0.2M1508.8 209l7.9 -3.8M1504.2 182.9l3.5 7.7M1638.7 171.2l1.7 4.9M1427.7 299.7l0.9 4M1626.3 260.9l1.1 6.9M1613.2 201l4.7 -0.6M1598.5 255.3l1.6 -1.9M1492.1 225l1.5 4.3M1634.1 238.3l5.2 -1.1"/>
<path stroke="#fff" stroke-width="7" stroke-opacity="0.9" d="M1477.3 198.5l4.1 -3.9M1608.8 177.8l2.2 3M1542.6 170l5.7 6.7M1526 215.9l0.9 4.5M1442.2 261l3.7 2.5M1491.7 296.8l4.9 -7.1M1512 182.5l0.5 0.9M1467.8 297.1l3 -2.3M1650.1 261.1l3.5 7.4M1570.8 176.4l0 3.2M1572.5 167.8l3.9 5.6M1653.6 242.3l1.5 -1.9M1528.3 169.9l6.9 4M1613.5 227.7l6.1 5.2M1439.7 311.3l1.6 2.8M1649.5 275.9l1 1M1565.5 228.4l2.9 6.7M1493.8 308.8l0.2 3.4M1532.2 164.4l2.4 6.5M1454.7 297.9l1.7 1.3M1600.9 212.1l1.2 -1M1555.5 233.9l5.2 -4.7M1625.1 201.3l0.3 2.7"/>
<path stroke="#fff" stroke-width="5.5" stroke-opacity="0.9" d="M1495.4 210.6l3.7 2.9M1493 225.2l3 -0.7M1458.8 232.6l3.4 3.9M1641 245.9l2.7 -2.2M1627.4 257.5l-0.2 1.8M1484.6 191.5l5.9 5.4M1542.1 200.4l1.1 -0.8M1612.1 273.9l-0.4 3.3M1548.4 233l4.3 2.9M1537 170.1l0.9 8.2M1527 180.8l3 -1.4M1522.7 238.8l0.2 2.3M1595.9 189.4l2.5 5.6"/>
<path stroke="#000" stroke-width="4" stroke-opacity="0.7" d="M1443.5 233h0M1623 134.3h0M1452.9 246.4h0M1472.7 320h0M1465.1 297.7h0M1568.2 266.8h0M1621.4 239.4h0M1627.3 259.1h0M1571.2 171.5h0M1672 194.8h0M1477.5 286.3h0M1482.9 257.7h0M1589.1 202.7h0M1460.8 332.9h0M1497.1 301.4h0M1632.8 287.6h0M1528.6 148.6h0M1561.1 187h0M1480.1 224.4h0M1611.2 240.4h0M1687.9 235.7h0M1599.4 292.8h0M1514.7 136.6h0M1502 284h0M1554.7 184.4h0M1551.4 216.2h0M1665.4 138.3h0M1579.8 228.4h0M1614.1 174.2h0M1457.2 318.9h0M1598.4 211.8h0M1687.9 224.7h0M1426.4 230.6h0M1671.1 248.1h0M1656.5 274.2h0M1684.4 234h0M1560.6 227.4h0M1563.8 210.5h0M1502.6 272.1h0M1650.1 170.6h0M1513.7 296.9h0M1505.1 186h0M1560.8 232h0M1661 205.9h0M1568 257h0M1584.3 190.6h0M1480.3 254.3h0M1450.6 319.6h0M1484.5 254.2h0M1637.7 308h0M1428.8 302.2h0M1625.1 186.7h0M1460.9 199.3h0M1553.4 222.5h0M1547.9 186.4h0M1609.1 269.4h0M1627.1 264.4h0M1430 267.7h0M1574.8 217.5h0M1457.1 171.5h0M1563.5 270.3h0M1616.6 199.8h0M1629.5 261.1h0M1588 241.6h0M1634.5 288.5h0M1550.1 220.9h0M1549.1 262.3h0M1581.2 229.9h0M1599.8 254.6h0M1549.7 267.9h0M1535.2 165.7h0M1604.8 202.1h0M1467.1 200.9h0M1517.3 241.1h0M1543.7 176.9h0M1454.3 153h0M1606.9 254.9h0M1550.3 178.4h0M1510.6 289.3h0M1492.5 226.3h0M1650.3 324.6h0M1535.1 339.1h0M1636.8 237.6h0M1626.9 184.8h0M1544.5 168.1h0M1573.4 257.8h0M1499.3 285.9h0"/>
<path stroke="#000" stroke-width="3" stroke-opacity="0.7" d="M1628.7 263.2h0M1432.8 241.7h0M1503.8 242.5h0M1479.1 197.5h0M1534.5 245.1h0M1544.8 174.3h0M1526.4 219.1h0M1480.6 154.5h0M1683.2 283.7h0M1443.1 261.6h0M1457.5 216.2h0M1581.9 147.1h0M1625.6 243h0M1583.1 203.7h0M1545 211.1h0M1423.8 268.1h0M1489.1 217.1h0M1493.6 292.4h0M1562.1 178.7h0M1452 332.9h0M1479.4 279.8h0M1561.5 276.7h0M1669.3 279.5h0M1470.3 187.9h0M1517.9 234.7h0M1425 249.2h0M1593.5 254h0M1645.9 146.3h0M1652.9 264.1h0M1584.7 257.5h0M1565.8 233.2h0M1480.7 221.9h0M1570.7 177.1h0M1633.2 224.5h0M1422.4 189.2h0M1680.9 154.3h0M1573.7 171.5h0M1624.5 182h0M1633.5 194.3h0M1654.3 241.1h0M1503 309.5h0M1676.8 274.8h0M1616.6 230.3h0M1530.6 223.1h0M1531.7 190.3h0M1441.2 312.1h0M1482.6 227.2h0M1587.6 104h0M1586.4 129.3h0M1650.1 275.5h0M1666.5 267.9h0M1566 232.4h0M1494 311.5h0M1533 167.9h0M1549.1 157.7h0M1497.2 166.1h0M1455.3 298.2h0M1601.7 211.4h0M1678.8 177.2h0M1558.2 231.1h0M1625.5 202.3h0"/>
<path stroke="#000" stroke-width="2" stroke-opacity="0.7" d="M1642.2 229.4h0M1437.8 327h0M1462.6 295.2h0M1557.9 183.9h0M1611.3 265.4h0M1497.5 211.4h0M1652.9 280.3h0M1645.8 137.3h0M1493.5 224.2h0M1460.6 233.9h0M1610.1 136.7h0M1486.2 220.9h0M1461.9 204.9h0M1462.5 156.3h0M1627.8 194.4h0M1502.7 231.2h0M1440.1 228.8h0M1596.4 297.2h0M1495.5 220.3h0M1624.1 109.4h0M1485.8 219.1h0M1488.5 193.3h0M1632.6 180.1h0M1611.7 275.1h0M1462.9 285.4h0M1431.1 208.1h0M1484.7 150.2h0M1536.9 174.5h0M1485.5 294.1h0M1511.8 215.9h0M1520.2 159h0M1529.3 179.6h0M1467.6 223.7h0M1456.6 281h0M1446.6 219.6h0M1617.3 296.5h0M1489.3 235.1h0M1598 192.1h0"/>
</g></g>
<g clip-path="url(#cp4)"><g filter="url(#bl2)" fill="none" stroke-linecap="round">
<path stroke="#19e12d" stroke-width="3" stroke-opacity="0.2" d="M1943.5 236.3l4.4 9.8M1843.3 157.5l10.2 15.4M1934.4 270.8l5.3 8.5M1807.2 102.8l5.2 7.5M1818.8 193.7l12.3 15.8M1970.9 203.5l3.7 7.7M1930.9 72.7l2.7 8.4M1881.2 228.6l9.6 13.8M1962.5 194.8l2.9 11.9M1918.5 60l6.9 15.7M1768 320.1l6.2 6.3M1885.1 145.1l13.8 14.2M1756.5 175.2l7 6M1838.2 194.4l7 5.6M1756.8 176.2l10.5 8.9M1987.4 70.6l3.4 13.8M1888.6 178.2l8.1 17.5M1803.6 247.4l11.6 8.8M1967.8 201.2l7.1 15.3M1908.4 69.6l8.5 13.7M1771.8 171.5l6.6 5.9M1807.2 100.6l6.1 6.7M1974.7 268.5l2 8.9M1937.2 68.3l9.7 16.9"/>
<path stroke="#19e12d" stroke-width="4" stroke-opacity="0.35" d="M1968.8 144.4l4.2 14.7M1796.9 173.8l5.8 7.3M1769.2 157.9l5.7 6.2M1948.2 78.1l7.1 13.6M1976.4 117.5l4.7 11.6M2018.4 120.8l4.2 8M1894.3 110.5l12.4 13.1M1952.5 175.9l3.8 13.2M1971.9 133.7l8.9 17.2M1796.4 257.9l10.8 14.3M1973.2 203.7l2.5 9.5M1776.5 204l7.7 6M1888.7 249.4l5.1 6.8M1871.5 220.1l12.5 13.4M1854 308.8l9 12.9M1779 149.9l13.2 8M1747.7 326l14.8 8.5M1801.7 240.1l7.1 9.5M1775.1 243.1l12.8 11.3M1840.4 315.8l8.7 8.3M2017.1 199.1l4.1 8.5M2015.5 276.1l5.1 10.6"/>
<path stroke="#19e12d" stroke-width="3" stroke-opacity="0.35" d="M1783.1 278.5l10.3 5.8M1994.2 129.4l2.6 12.9M1823.7 238l6.4 5.7M1851.6 105.6l13.1 10.4M1991.8 211.1l4.9 10.3M1934.3 165.4l5 13.9M1829.5 162.1l8.7 13.2M1969.1 228.2l4.2 15.5M1837.3 301.5l7.8 9M1871.5 129.6l8.2 9.6M2006.5 312.2l4.3 8.8M2011.5 272.9l4.3 17.3M1787.5 187.5l7.6 5.3M1826.1 249.1l7.7 11.2M1766 290.6l14.5 12.8M2025 257.1l5.8 14.3M1996 183.1l7.6 18.4M1872.7 181l12.4 14.6M1983.3 229.1l4.3 10.4M1750.4 295.9l9.9 8M1850.8 78.5l10.5 14.3M1885 252.5l12 11.2M1867.6 224.7l5.6 11M1818.6 146.9l10.6 11.7M1853.9 148.6l14 12.6M1979.7 168.6l3.4 13.5M1864.1 318.3l5.3 8.3M1959.9 193.7l10 14.8M1938.4 311.1l5.7 8M1853 61.5l7.1 11.5M1812.8 65.3l13.7 11.8M1903.4 191.3l8.3 11.4M1903.8 297.1l7.8 9.4M1903.5 105.9l5.8 6.7M1942.7 168.8l7.4 17.8M1765.5 267.4l8.4 7.8M1921.4 103.2l8.6 13.5M1783.6 84.9l7.5 6.7M1907.6 135.3l7.2 18.4"/>
<path stroke="#19e12d" stroke-width="4" stroke-opacity="0.2" d="M1964 242.1l7.5 11.1M2018.7 323.2l2.3 8.1M1988.9 82.9l6.6 11.1M1841.8 234.5l8.6 10.4M1938.7 181.9l7.5 13.4M1895.5 128.7l10 16.1M1753.3 235.5l14.7 12.4M1935.7 298.7l6 8.3M1980.9 102.7l1.6 8.2M1826.1 265.6l10 8.4M1843.8 245.2l6.4 10.9"/>
<path stroke="#19e12d" stroke-width="2" stroke-opacity="0.35" d="M1929.9 250.4l6.5 8.2M1910.2 194.6l6.2 15.9M2012.9 178l5.1 10.9M1983.7 240.2l3.4 16.7M1930.8 252.2l6.7 13.5M1847.4 70.9l9.2 13.2M1811 319.5l14.6 13.4M2026.1 227.6l4.1 18.4M2000.1 206.2l4.3 17.9M2013.5 233.4l6.7 12.4M1933.2 201.2l4.5 11.8M1794.8 296.9l9.2 8.3M1869.1 334.2l10.3 11.5M1796.7 181.6l8.4 6.6M1931.8 122.2l6.8 18.4M1781.8 268.5l5.4 5.9M1916.9 105.2l9.2 10.9M1842 288.6l11.6 15.5M1816.2 117.9l14.2 12.6M1848.2 161.8l7.4 6.3"/>
<path stroke="#19e12d" stroke-width="4" stroke-opacity="0.5" d="M1896.3 87.2l3.9 7.5M1976.4 197.5l7.1 16.8M1770.6 107.5l12.6 9M1954.4 91l3.9 15.7M1949.6 287.7l5.9 8.9M1852.9 169.3l6.7 5.5M1986.7 138.7l2.8 8.8M1772.5 241.3l13.9 11.8M1795.1 237.7l12.6 10.4M1967.5 246.6l3.5 12.4M1982.8 248l1.9 8.8"/>
<path stroke="#19e12d" stroke-width="2" stroke-opacity="0.2" d="M1944.1 269.1l6.5 12.3M1952.9 319.2l7.1 10.8M2009.2 300.2l2.1 18.1M1895.7 87l5.8 13.5M1966.7 299.3l9 16.4M1927.7 324.4l9 15.7M1951.2 201.1l6.4 14.1M1763 309.6l12.1 11.6M1849.5 228.1l7.3 7.1M2012.3 60.2l6.6 18.6M1809.6 268.4l7.4 10.7M1982.6 301.1l3.2 9.6"/>
<path stroke="#19e12d" stroke-width="3" stroke-opacity="0.5" d="M1838.5 112l9.5 14.1M1770.4 143.8l8.2 5.2M1936 110l4.9 8.6M1758.1 151.8l6.7 6.7M1982.9 245.1l5 18.6M1986.2 244.3l1.8 10.6M1958.4 145.3l6.8 12.2M1995.7 161.8l6.5 14.7M1851.6 131l5.8 9.2M1866.4 252.9l7.4 11.2M1867.2 152.2l4.1 7M1818.6 183.3l5.8 6.5M1950.2 177.4l5.6 9.7M1817.9 248.2l12.2 8.1M1809.9 278.6l8.8 8.4M1983.7 237.2l3.7 9.7M1819.1 153.7l9.3 8.7"/>
<path stroke="#19e12d" stroke-width="2" stroke-opacity="0.5" d="M1959.8 116.7l3.1 12.2M1791.7 110.9l11 8.5M1988.9 248l2.1 8.1M1757.2 126.6l11.9 8.4M1774 231.9l11.4 9.2M1999.5 319.1l3 15.6M1826 220l10.8 15.4M1930.9 120.1l3.6 9.3M1839.1 180l9.7 7.6M2007 140.5l7.2 16.8M1941.5 272.9l4.7 12.6M1868.9 127.1l10.3 12.7M1842.2 206.5l8.4 7.8M1878.7 71.4l5.9 10.6"/>
<path stroke="#19e12d" stroke-width="5.5" stroke-opacity="0.35" d="M1794.2 87.6l4.1 6.8M1805.8 334.8l0.7 1.5M2009.9 74.9l-1 7.6M1899.9 303.3l2 1.5"/>
<path stroke="#19e12d" stroke-width="8.5" stroke-opacity="0.35" d="M1839.8 169.8l2.7 1.8M1797.6 147.6l7.3 3M1804.3 108.3l6.3 2.9M2003.4 254.4l4.1 6.7M1921 91.3l2.1 5M1760.5 140.4l1.6 1.3M2017.4 93.7l2.1 3.3M1967.7 68.2l-0 1.3M1767.1 235.5l2.6 0.7"/>
<path stroke="#19e12d" stroke-width="7" stroke-opacity="0.35" d="M2001.9 250.3l5.3 5.7M1759.3 212.8l6.6 2.3M1934.6 71.2l5.2 4.5M1826.4 314l0.9 2.4M1913.3 70l0.8 1.2M1893.3 180.4l4 3.8"/>
<path stroke="#19e12d" stroke-width="10" stroke-opacity="0.35" d="M2006.3 136.1l0.4 6.6"/>
<path stroke="#19e12d" stroke-width="7" stroke-opacity="0.5" d="M1770.3 253.6l1.5 0.9M2010.8 108.6l0.2 2.1M1851.8 241.4l3.3 6.3M1861.9 329.8l1 0.9M1777.2 271.1l1.6 0.6M1941.6 298.1l0.8 0.8M1799.8 299.1l7 2.3M1897.8 242.4l1.1 1.2M1770.1 138.6l2.1 2.3M2024.8 248.7l3 3.2M1812.5 90.8l4.5 5.9M1836.7 206.7l3.3 1.8M1987.1 257.5l2.7 5.4M1773.8 82.2l2.2 1.1M1975.4 207l1.5 4.8M1916.2 329l3.2 2.6M1934.8 269.9l4.1 5.4M1900.6 213l0.5 7.6M1864.3 102.8l3.4 3.3M1921.9 121.5l3.9 4M1894.2 186.2l5 4M1988.4 316l1.6 4.5M1977.4 150.6l0.5 6.8M1946.4 137.7l1.7 1.6M1775.6 197.9l2.4 1.1M1859.1 125.8l2.6 3.5M1762.8 267.4l5.8 4.4M1978.7 199.6l0.6 6.1M1761.5 136.9l6.7 0.9M1859.8 102.2l2.3 2M1924.1 323.7l2 7.6M1834.4 193.9l1 0.6M2009 141.8l1.8 4M1953 245.9l2.5 1.9M1995 313.8l0.6 5.8M1967.5 261l1.4 3.3M1994.8 157.6l-0.8 7.3M1983.3 227.5l3.3 4.1M1907.7 136.6l0.8 2.3M1866.5 65.8l2.9 2.6M1922.8 211.8l2.6 5.6M1789.6 219.8l3.8 4.3M1815.3 323.1l0.8 0.8M1876.3 176.8l2.3 1.6M1762.8 301.4l3.1 2.7M1865.3 338.1l2.1 5.9M1902.4 123.6l1.2 2M1988.2 135.3l2.3 6.9M1940.1 101l2.6 4.4M1928.6 232.5l1.4 1.4M2014.2 329.5l2.2 4.1M1881.7 213.7l3.8 4.7M1768.3 318.4l3.2 1.9M1972.6 271.9l3.2 3M1854 313l1.8 3.7M1998.6 155.7l-0.2 3.6M2027.1 201.8l0.1 4"/>
<path stroke="#19e12d" stroke-width="5.5" stroke-opacity="0.5" d="M1978.3 283.1l0.1 3.5M1810.7 232l0.9 2.1M1768 103.1l3.1 2.6M1888.7 214.8l1.6 4.1M2007.5 327.8l-0.1 7.3M1789 251.2l4.2 1.9M1888.9 147.1l2.1 5.1M1879.2 206.5l1.4 2M1853.8 328.4l2.6 3.1M1752.9 298.8l2 0.8M1802.5 123.7l2.1 2.6M1802.1 277.3l2.9 2.9M1757.9 202l7.7 1.4M1980.5 272.6l1.4 7.7M1833.9 69.3l0.7 1M1950 99.4l0.6 3.3M1784.1 237l6.9 2M1796.1 325l3.2 4.7M1946.3 314.4l0.8 3.8M1820.6 115.9l5.8 4.2M1970.7 146.7l4.4 3.4M1784.2 113.4l1.6 0.3M1804.7 302.2l0.8 1.7M2019.6 282.5l0.3 2.3M1803.5 182.2l3.1 3.5M1781.6 135.4l1.4 1.9M1885.1 128.3l6.8 3.8M1834.6 183.1l5.6 3.9M1816.5 142.9l2 1.6M1792.4 218.1l4.9 2.1M1828.2 303l1.3 1.8M1913.4 337.1l1.4 7.6M1790.3 92l6.2 1.3M1810.2 186.5l1.4 0.4M1954.5 181.1l3.3 3.5M1872.8 279.8l6.7 2.9M1766.3 167l3.9 3.4M1758.4 165.9l5.2 0.7M1848.1 89.4l1.8 3.9M1994.6 262.2l3.7 4.1M1999.2 228.7l0.9 3.8M1850.9 217.6l3.4 4.2M2000.3 153.4l0.1 1.5M1784 133.6l1.8 1.6M1768.1 282.8l1.6 1.6M1937.9 319.2l1.2 2M1940 221.4l2.7 4.2M1765.7 115.1l3.6 6.7"/>
<path stroke="#19e12d" stroke-width="10" stroke-opacity="0.5" d="M1899.5 248.2l2 6.5M1955.3 325.9l1.1 3.4M1835.9 326.3l1.7 0.8M1976 96.4l0.5 0.9M1784.4 221.6l3.6 5.5M1843.6 98.6l1.9 1.6M1849.9 174.6l1 1.8M1783.1 285.6l4.9 3.9M1814.2 285.3l1.8 2M1971.5 310l0.7 4.5"/>
<path stroke="#19e12d" stroke-width="8.5" stroke-opacity="0.5" d="M1981.6 223.1l2 5.3M1792.1 264.1l1.8 2.5M1979.4 236.9l1.8 5.7M1800.1 294.4l2.8 2.5M1764.6 113.5l3.7 1.2M1825.2 164.1l1.6 2.1M1834.6 69.4l1.5 4.3M1944.2 245.1l0.5 2.1M1830.5 114.4l2.9 1.7M1947.2 108.6l-0.1 1.6M1812.1 98l3 2.3M1790.1 68.5l1.6 0.5M1809.4 306l4 2.4M1757.3 309.8l2.8 2.3M1899.5 68.4l5 5.6M1818.2 115.3l1.4 2.3M1951.7 62.9l3.9 6.4M1976.1 120.9l1 5.7M1936.6 170.2l3.8 5.6M1906.9 97.8l6.6 3.6M1805.4 140.6l2.4 4.1M1934.2 135.9l1.8 2.9M1882.8 290.3l1.2 3.2M1868.2 328.2l2.9 2.1M1842.7 172.7l3.8 4.5M1908 78.7l6.4 4.4M1978.9 217l-0.3 2.7M1850.4 93l5.6 2M1854.5 325.5l1.3 4.8M1827.3 118.5l5 4.2M1939.4 63.8l0.1 4.5M2027.2 158.1l2.8 5.1M1919.8 128.7l0.1 1.4M1786.3 96.4l1.1 1.4M2006.7 147.2l-0.3 1.5M1923 259l1.4 7M1933.8 173.4l3.3 6.5M1771.8 119.5l2 0.3M1765.5 148.6l5.8 4.6M1757.5 135.9l1.9 2.6M1857.7 121.4l1.1 0.7M2011 194.7l2.4 5.1M1973.2 76.9l4.6 3.6M1915.2 68.6l3.6 7.1M2010.2 272l1.6 7.4M2006.5 107.9l0.2 1.5"/>
<path stroke="#19e12d" stroke-width="7" stroke-opacity="0.7" d="M1823.7 150l2.9 2.2M1826.3 315.4l6.6 2.7M1936.7 183.1l1 3M1959.6 292.5l0.9 5.3M1801.4 159.7l2.1 2.2M1826.8 269.7l3.4 1.5M2015.7 166.6l-0.9 7.4M1858.6 99.9l0.8 4.2M1920.1 101.1l0.7 0.8M1865.5 312.7l1.1 2.9M1821.3 279.8l0.9 1.6M2007.8 232.3l0.1 2.9M2019.7 259.9l0.3 1M1984.6 156.4l2.3 4.6M2011.7 303.6l2.7 3.2M1805.6 190.5l0.9 1.1M1802.5 332.5l5 2.1M1847.5 125.7l2.7 3.2M1819.1 114.4l1.4 0.9M1881.3 250.6l1.6 4.3M1903.7 143.8l5.3 4.5M1976.9 318.4l-0.4 4.7M1907.3 279l4.1 6.8M1831.5 76.2l6 5.1M1758.1 264.8l5 0.9M2010.5 252.6l2.4 3M1797.2 304.1l1 0.4M1785.2 221.7l1.9 1.2M1988.6 118.1l1.1 2.5M1783.3 219.3l2.3 4.3M1961.3 94l2.5 4.7M1953.7 177.9l0.8 2.5M1856.8 322.6l1.6 0.6M1756.9 321.2l6.9 2M1991.1 116.4l2.4 3.7M1842.9 66.5l1.4 4.9M1774 332.7l5.1 3.8M1781.6 307.3l3.1 4.9M1772 219.4l5.2 1.3M1989.7 275.9l0.9 1.6M1811.2 254.8l3.5 6.3M1779.7 236.6l1.6 0.7M1756.5 130.1l7.6 1.1M1794.6 157.3l4.8 1M1897 225.9l2.2 2.6M1880.8 81.2l1.2 2.6M1842.6 338l2.3 1.4M1957.3 179.6l4.9 5M1756 213.9l1.7 2.2M1982 175.3l4.3 6.3M1940.9 339.3l1 3.6M1884.1 287.5l1.9 2M1835.5 188.2l2.4 1.3M1812.2 301.1l1.3 1"/>
<path stroke="#19e12d" stroke-width="5.5" stroke-opacity="0.7" d="M1910.4 122.1l4.9 2.8M1864.3 100.8l3.2 5.4M1926.9 112.8l3.7 4.4M1972.5 271.2l1.8 2.5M1945.2 203.2l3.2 3.3M1819 192.6l2.7 2.7M1836.4 278.1l1 0.4M1776.6 189.7l4.7 5.3M1805.8 285.4l1.5 3.4M1782.5 216.9l1.1 1.7M1830.2 183.9l1.9 1.4M2007.7 304.1l5.4 5.8M1785.1 167.6l7.2 2M1857.6 292.8l1 1.8M1986.9 308l3.2 4.5M1941.5 149.5l5.4 3.5M1882.6 162.1l0.5 1M1847.4 113.5l1.7 5M1948.8 176.3l1.9 4.8M2028.2 116.8l0.4 1.5M1859.7 229.9l1.9 4.2M1926.1 74l1.8 3.7M1817.5 134.8l5.1 2.8M1989.7 258l1.4 7.5M2025.8 304.5l0.8 2.4M1782.9 137.9l1.9 3M1923.2 251.2l2.6 3.1M1846 133.5l0.9 1.9M1776 252.6l3.4 5.6M1799.8 295.6l6.8 3.6M1844.1 262.7l6.2 2.8M1943 231.3l0.9 1.9M1775.1 189.7l2.9 1M1874 318.9l4.5 6.5M1882.7 173.2l5.1 4.7M1863.4 99.3l1 1.3M1868.6 160l4.1 4.2M1905.6 268.7l0.8 2.1M1876.4 202.2l3.8 3.1M1900.7 216.1l0.6 2M1752 328.7l2.4 4.4M1978.4 206.6l0.5 4.2M1775.8 146.5l3.4 1.9M2000.5 290.9l-0.8 5.4M1824.6 141.8l6.4 3.8M1918.5 192.8l0.2 2.5M1805.9 204.8l1.7 2.9M1968.1 324.6l1.1 1.5M1987.4 263.6l0.7 7.2M1753.3 205l3 2.6M1973.4 298.4l0.3 6.6M1845.3 113.8l3.1 3.6M1752.4 188.2l5.9 2.8"/>
<path stroke="#19e12d" stroke-width="8.5" stroke-opacity="0.7" d="M1831.8 186.1l1.1 4.5M1996.5 177l3.2 5.9M1942.4 115.8l2.6 4.9M1945.5 180.4l2.8 4M1992.5 251.3l3.2 4.9M2018.6 193.9l5.3 5.1M1974.5 313.5l4.3 3.7M1996.4 298.1l3.4 3M1777.6 139.9l4.9 3.2M1828 221.9l2.9 3M1959.1 310.5l2.4 2.6M1755.5 248.7l7.3 1.8M1887 107.3l2.8 2.5M1887.3 295.6l6.8 4.1M1873.3 278.8l3.1 7M2026.8 300l-0.3 1.3M1912.9 129.2l4.4 3.9M1860.3 107.2l2 7.7M1809.2 158.6l3.4 1.9M1951.4 222.3l0.7 1.5M1858.6 210.7l1.1 5.6M1865.5 232.6l3.6 2.7M1775.4 194.6l1.7 1M1955.3 119.5l1.4 5.4M1852 156.6l3.2 2.5M1958.5 263.6l1.4 7M1871.7 266.6l4.7 2.2M1950 294.1l1.1 6.3M1875.5 204.8l0.8 0.9M1955.4 294.7l4.5 5.5M1759.1 230.7l4 1M1972.4 68.8l3.3 4.9M1957.1 247.7l2.8 2.6M1962.1 244.2l4.3 3.2M1823.6 211.4l5.7 4.2M1847.2 318.6l2.7 3.6M1992.2 215.8l2.7 2.4M1764.2 149l3.8 3.1M1847.4 115.9l2.9 2.5M1888 204.9l3.6 2.3M1876.5 228.8l2.3 4.8M2028.1 187.7l0.7 7M1958.3 190.9l4.8 6.1M1837.4 82.6l3.8 1.6M1922.9 336.4l1.6 1.1M1812.1 301.7l1.3 4.4M2004.8 312.8l-0.5 7.1M1812.8 127.7l6.7 3.5M1855.9 104.5l1.1 1.8M1976.6 282.6l2 3M1863.9 308.7l2 5.5M2007.1 185.9l1.7 1.8M1795.1 324.1l4.2 5.9M1922.5 145.1l4.9 2.9M1765.5 126.1l2.5 2.2M1860.6 215.3l3.8 2.9M1983 323.9l0.2 1.9M1790.6 190.4l2.2 5.5M1774.2 87.8l3.5 1.4M1936.5 78.1l0.3 3.4"/>
<path stroke="#19e12d" stroke-width="10" stroke-opacity="0.7" d="M1797.5 151l0.7 2M2004.9 295.8l-0.4 6M1804.4 116.6l1.3 2M1908.5 266.2l4.5 5.6M1956.2 338.8l0.8 2.2"/>
<path stroke="#19e12d" stroke-width="5.5" stroke-opacity="0.9" d="M1860.8 108.7l0.9 1.9M1784.2 272.3l5 4.8M1936.9 82l0.4 3.8M1917.5 198.5l0.8 0.9M1959.7 266.2l1.7 5.8M1945.1 166.4l3.6 6.8M1751.9 223.4l3.1 2.6M2008.2 163.7l-0.4 5.5M1956.1 287.8l4.9 5M2003.2 119.3l0.6 1.9M1968.3 268.4l0.2 2.7M1769.1 280.9l4.9 5.3M1841.3 148.5l4.1 4M1771.7 226.7l2.4 2.6M1990.8 246.2l0.7 1.3M1783 217.6l2.8 4.4M1978.9 326.7l0.6 0.8M1780.9 271.7l2.1 2.8M1987 112.8l2.4 2.3M1960.6 261.5l5.2 5.9M1967.1 261.9l3.2 4.5M1866.7 283.1l0.9 0.8M1864.4 72.3l5.2 2.9M2015.5 310.7l-0.2 1M2006 244.2l1.6 3M2012.7 263.7l-0.2 4.7M1753 237l4.3 0.9M1893.7 208.2l0.6 1.7M1991.8 266.8l1.2 1.5M1969.9 185.9l2.2 3.9M1752.7 142.6l2.7 5.7M2021.5 181.4l-0.3 5.1M1911.3 80l0.8 1.2M1833 292.2l1.1 0.9M1940.8 306.3l0.8 6.8M1833.3 218.6l3 7.4M1943.5 202.8l0.5 3.6M1831 330.8l4.8 4.8M1790 294.6l3.8 3.8M1757.2 169.8l4.3 1.5M1760.7 300.7l2.3 3.2M1871.4 165.9l1.3 1.3M1967.8 158.7l1.8 7.1M1839.4 121.4l0.5 1.3"/>
<path stroke="#19e12d" stroke-width="7" stroke-opacity="0.9" d="M1957.8 287l0.5 2.4M1924.3 145.1l1.4 1.7M1801.6 233.3l5 3.5M2010.5 319.7l0.5 2.9M1861.9 90.8l3.2 1.8M1965.4 253.2l2.2 4.9M2006.3 173.1l-0.2 4.8M1935.6 165.1l0.8 1.3M1868.1 71l0.6 1.8M1916.5 125.4l5.3 5.3M1795.5 234.5l4.3 4.4M1776.3 278l3.1 5M1815.4 319.8l4 5.9M1975.7 135l1.6 1.5M1950.5 242.2l3.9 5.6M1858 206.9l3.3 5M1923.9 286.9l4.2 4.4M1981.1 255.9l0 2.9M1798.4 299.3l6.6 3.1M1774.3 197.9l2.2 0.5M1903.4 66.3l1.4 5.7M2022.2 300.2l0.7 2.8M1790.1 227.2l3.4 5.5M1844.4 235.3l4.4 5.5M1815.7 111.5l1 2.8M1780.3 234.8l1.5 3.2M1945.4 271.2l4.8 3.8M1772 238.9l1.6 2.6M1908.5 86.7l2.6 3.1M1820 308.3l4.5 5M1751.8 318.2l4.4 4.7M1764.7 130.3l4 5M1760.4 199.1l2 2.1M1877.3 152.1l2.4 2M1884.1 298.4l4.2 3.6M1877 292.9l6.5 3.4M1971.4 105.1l0.3 5.2M1765.4 254.3l1 0.8M1857.7 287.3l2.6 3M1879.3 276.2l3.4 3.3M1891.5 230.2l1.3 1.5M1910.4 251.4l0.8 1.7M2023.9 116.2l3.1 5.8M1998.5 237.2l0.3 6.4M1940.2 203.7l1.3 4.5M1822 170.4l1.3 2.3M1789.3 306.5l6.1 3.4M1892.1 260.5l1.3 3.1M2016.6 335.6l1 1.2M1988.4 177.9l-0.1 1.2M1935.9 201.1l5.7 3.8M1813.7 242.4l2.8 5.5M1865.6 219.2l1.1 3.5M1852.1 105.9l2.3 1.9M1913.6 188.6l1.1 2.3M1961.7 231.7l0.2 6.9M2017.9 299.1l0.6 2.3M1911.7 159.6l2.7 6.7M1805.4 102.5l2.4 2.4M1991 293.5l2.3 4.6M1914.6 254.4l2.7 4M1960.3 196.7l4.7 6.2M1808.3 82.4l1.9 5.8M1854.2 296.3l1.2 3.1"/>
<path stroke="#19e12d" stroke-width="8.5" stroke-opacity="0.9" d="M1989.9 171.4l-0.4 2.6M1855.2 130.7l4.7 3M1854.6 287.5l3.9 4.4M1862.7 197.3l3.4 5.5M1819.9 178.9l2.4 6.7M1945.9 244.7l4.4 4.4M1967.6 324.2l5.9 5.2M1793.3 175.4l4.6 3.2M1879.4 68.9l5.3 4.9M1896.2 146.6l0.7 3.4M1777.7 311.2l6.9 1.1M1996.3 156.7l1.7 4.3M1777.1 233.9l2.1 0.6M2013.2 274.6l2.1 2.2M1794.8 331.6l1.1 2.9M1864.2 74.7l1.7 0.7M1817.1 312.9l2.3 6.5M1787.9 163.8l0.8 0.7M1779.3 237.1l5.5 5M1782.3 161l2.9 6M1896.7 164.2l3.3 2M1802.2 144l3.6 2.2M1912.8 293.2l3.3 5.8M1785 98.7l2 1.1M1752.6 104.2l4 5.7M1818 111.3l1.3 0.6M1975.5 238.9l0.9 1.6M1768.6 147.5l1.8 3M1988.8 210.6l-0.2 3.2M1849.7 203.6l2.8 3.7M1966.2 334.2l3.3 4.1M1954 249.4l1.1 3.4M1785.5 87l5.4 2.1M1826.3 124.5l5.7 4M2011.9 266.3l4.6 6.2M1891 79.2l4.9 3.1M1864.7 114l7.1 3.4M1905 113.5l1.1 5.2M1823.2 145.8l6.7 3.5M1804.7 68.3l1.2 1M1994.4 166.9l0.3 1.5M1884.6 151.8l1.1 2.2M1869.8 295l4 1.9M1866.4 114.4l4.7 6M1994.7 216.7l1 2.1M1820 269.2l1.7 4M1784.4 124.6l4.2 5.9M1874.5 96.8l1.6 1.5M1836.2 101.9l2.9 3.7M1919.5 203.2l1.2 4M1897.8 72.4l2.8 3.3M2014.5 153l-1.2 5.7M1969.5 204.5l5.5 5.7M1821.5 86.7l0.9 0.7"/>
<path stroke="#19e12d" stroke-width="10" stroke-opacity="0.9" d="M1862.1 129.3l4.4 4.4M1935.7 235l0.1 4.6M1925.2 130.7l0.4 2.1M1948.5 319.7l1.1 4.3M1902.4 172.4l4.8 2.8"/>
<path stroke="#000" stroke-width="3" stroke-opacity="0.7" d="M1824.5 150.4h0M1830.1 317.4h0M1958 288h0M1959.4 295.7h0M1924.2 145.7h0M2010.1 110.2h0M1803.3 161.1h0M1853.1 243.9h0M1861.8 329.2h0M1827.6 270.3h0M1804.3 234.9h0M1858.2 101.5h0M2010.1 321.4h0M1863.7 90.7h0M1920.7 101.8h0M2007 175.2h0M1936.3 166.1h0M1867.8 72.7h0M1919.4 128.7h0M1866.1 314.6h0M1803.4 301.1h0M1798.2 236.6h0M1897.9 243.4h0M1771.6 140h0M1778 281.1h0M1817.5 323.4h0M1975.6 135.5h0M2008.2 233.6h0M2026.7 250.9h0M1815.7 93h0M1953.2 245.3h0M2020.8 260.3h0M1838.5 207.6h0M1860.3 208.8h0M1980.9 257.1h0M1801.6 300.6h0M2005 253.8h0M1775.4 197.3h0M1903.4 69.4h0M1775 82.3h0M1977 210h0M1763.5 213.7h0M2012.1 306h0M2023.1 302.6h0M1790.8 230.6h0M1806.5 190.2h0M1815.7 113.8h0M1917.6 329.4h0M1936.9 272.3h0M1805.3 333.1h0M1901.2 216h0M1865.1 103.8h0M1948.1 272.6h0M1922.9 124.2h0M1848.5 127.9h0M1910 88.6h0M1819 115.7h0M1989.2 317.8h0M1882.4 252.1h0M1978.1 153.9h0M1947.4 138.2h0M1822.6 310.2h0M1754.5 321h0M1905.4 146.3h0M1777.4 198.2h0M1976.7 319.8h0M1761.8 199.6h0M1834.4 78.8h0M1978.4 203.3h0M1764 137.8h0M1861.8 103.1h0M1879 153.6h0M1760.8 264.7h0M1885.3 300h0M1925.5 328.2h0M1879.5 294.2h0M2011.5 253.6h0M1798.7 304h0M1826.9 314.3h0M2009.8 143.9h0M1970.9 108.4h0M1954.7 246.4h0M1765.1 254.4h0M1995.1 317.5h0M1968.1 263.5h0M1990.1 118.8h0M1994.8 160.8h0M1962.4 96.8h0M1984.2 229.8h0M1954.5 179.1h0M1858.1 323.6h0M1907.5 137.2h0M1868.5 67.6h0M1881.2 278.4h0M1923.8 214.2h0M1891.7 230.1h0M1911.6 252.8h0M1792.1 221.3h0M1991.7 118.1h0M2026.1 119.3h0M1815.9 323h0M1999.1 240.8h0M1842.7 69h0M1941 206.6h0M1877.2 177.1h0M1776.6 333.9h0M1763.4 303.4h0M1867 341.5h0M1903.7 124.4h0M1892 262.5h0M1914 70.4h0M2016.1 336.5h0M1782.7 309.4h0M1942.4 103.6h0M1988.9 178.9h0M1775.3 221h0M1989.9 277.7h0M1813.5 257h0M1814.4 246h0M1780.7 237h0M1928.7 233.3h0M1865.6 220.4h0M2015.3 330.6h0M1883.1 216.7h0M1898.6 226.7h0M1882.2 83h0M1843.6 338.5h0M1914.5 188.8h0M1770.1 319.7h0M1962.1 235.1h0M1895.8 183.3h0M1959.9 182.7h0M2017.4 300.2h0M1973.8 273.2h0M1855.3 315.9h0M1983.4 177.7h0M1991.6 295.5h0M1942.2 340.4h0M1916.4 255.7h0M1884.5 289.2h0M1998.2 156.7h0M1963.1 200.6h0M1837.3 188.2h0M1809.2 85.7h0M1813.1 301.5h0M2027.4 204.8h0M1854.3 297.3h0"/>
<path stroke="#000" stroke-width="2" stroke-opacity="0.7" d="M1861.3 110.2h0M1977.7 284.9h0M1811.4 232.4h0M1913.6 123.5h0M1866 103.9h0M1928.2 114.4h0M1973.7 273.3h0M1786.7 274.7h0M1936.4 84.6h0M1770.4 104.3h0M1888.9 216.9h0M2006.9 331.1h0M1946.2 205.4h0M1889.8 149.4h0M1819.9 194.7h0M1946.6 168.9h0M1880.8 208.4h0M1854.8 330.2h0M1753.5 300.2h0M1837.5 277.3h0M1779.3 192.4h0M1807.4 287.8h0M1782.8 217h0M1830.3 183.6h0M2008.2 165.7h0M2009.5 306.1h0M1803.9 278.6h0M1762.2 202.5h0M1980.2 277.4h0M1833.5 68.9h0M1949.9 100.9h0M1958.7 289.6h0M1858.8 293.2h0M1944.9 151h0M1786.9 238.6h0M2002.9 119.4h0M1798 326.8h0M1968.2 269.5h0M1771.1 284.5h0M1946.2 316.7h0M1882.1 162.1h0M1849.3 116.9h0M1773.4 227.5h0M1824.2 118.9h0M1949.9 177.8h0M1991.4 246.2h0M1784 219.3h0M1979.7 327.1h0M2027.8 116.7h0M1861 232.2h0M1927.5 76.2h0M1805.8 335.1h0M2009.8 77.9h0M2026.7 305.1h0M1782.2 272.7h0M1987.6 113.1h0M1969.2 265h0M1866.6 284.1h0M1973.1 148.1h0M1925.3 252.1h0M1806.1 303.2h0M1866.7 73.6h0M2019.7 282.9h0M2014.8 310.3h0M1901.3 304.4h0M1806 183h0M2007.6 245.1h0M1783.1 135.6h0M1846 133.9h0M1837.4 184.9h0M1778.2 255.1h0M1817.1 143.2h0M1802.9 296.9h0M1828.9 303.9h0M1913.6 340.2h0M1847.4 263.8h0M1943.4 231.3h0M1991.9 266.6h0M1794.3 92.2h0M1971.9 187.2h0M1777.6 189.8h0M1876.5 322.1h0M1753.4 145.5h0M1811 186.7h0M1911 80.2h0M1885.2 175.3h0M1832.8 293h0M1956.1 183.4h0M1940.2 310.4h0M1875.8 282.1h0M1864.1 99.5h0M1870.5 162.2h0M1834.2 221.5h0M1769 168h0M1761.1 165.7h0M1906.1 270.2h0M1943.9 205.6h0M1878.2 203.4h0M1901 217h0M1997.3 263.8h0M2000.3 231.1h0M1833.6 334.1h0M1791.9 295.8h0M1777 148h0M1999.8 154.3h0M1999.9 294h0M1827 143.1h0M1919.5 193.9h0M1872.6 166.3h0M1969.1 161.4h0M1840.5 122.6h0M1785.3 135.2h0M1769.7 283h0M1806.7 205.8h0M1969.4 326.3h0M1987.3 268.1h0M1754.1 206.6h0M1939.5 320.9h0M1942.2 224.3h0M1767.3 117.8h0M1847.4 114.6h0M1755.4 189.2h0"/>
<path stroke="#000" stroke-width="4" stroke-opacity="0.7" d="M1989.8 171.8h0M1900.3 251h0M1858.1 132.6h0M1831.7 187.4h0M1998.9 180.7h0M1981.9 225.9h0M1792.2 266.4h0M1857.5 289.6h0M1865.2 200h0M1943.6 117.4h0M1948.8 247.3h0M1947.1 182.4h0M1994.6 254.5h0M1955.8 327.2h0M2004.8 299.5h0M1767.4 114.7h0M1827 166h0M1970.3 327.1h0M1976 315.1h0M1835.9 327.5h0M1836.1 70.9h0M1779.9 141.6h0M1828.9 223.3h0M1831.7 114.6h0M1976.3 97.2h0M1961.1 312.5h0M1840.5 170.6h0M1881.2 71.6h0M1804.7 118.1h0M1935.6 236.7h0M1946.5 108.4h0M1780.8 312.1h0M1890.2 298.4h0M1813.7 98.4h0M1997.9 158.9h0M1786.9 224.4h0M1801 148.3h0M1777.4 234.7h0M1874.1 281.8h0M2013.3 274.9h0M1795.6 332.5h0M1862.3 111.1h0M1843.8 100.3h0M1811.4 159.5h0M1925.4 131.7h0M1807.5 109.3h0M1859.4 212.8h0M1864.8 76h0M1817.3 317.1h0M1867.2 234.8h0M1789.1 164.1h0M1775.9 195h0M1782.6 240.2h0M1898.6 164.5h0M1757.8 310.5h0M1804.6 144.6h0M1785.3 98.5h0M1755.4 106h0M1956.4 121.8h0M1818.7 112.1h0M1976 239.6h0M1958.8 267.7h0M1769.9 148.4h0M1949.9 298.1h0M1875.7 204.9h0M1976.1 123h0M1937.9 172.6h0M1851.8 205.8h0M2005 258h0M1806.4 142.6h0M1967.5 335.8h0M1958 298.2h0M1973.6 70.5h0M1958.2 248.9h0M1883 291.9h0M1964.5 246.4h0M1827.4 212.7h0M1849.5 320.5h0M1921.1 93.1h0M1787.8 88.9h0M1829.1 126.8h0M1993.3 216.7h0M1870.1 328.7h0M1766.2 151.1h0M1850.2 174.9h0M2013.3 269.6h0M1848.2 116.5h0M1912 80.4h0M1888.9 206.9h0M1978 218.4h0M1761.3 141.3h0M2018.6 95.5h0M1961.5 193h0M1784.8 287.1h0M1868.7 116h0M1839.5 84.3h0M1854.3 328.7h0M1830.1 121.4h0M1924.4 336.5h0M1940 66.2h0M1804.9 69h0M1948.6 321.7h0M2004.8 315.4h0M2007.2 149h0M1816.6 128.7h0M1924.5 262.9h0M1885.9 152.2h0M1815.2 286.1h0M1871.4 296.3h0M1867.8 118h0M1865.3 312.1h0M2008.3 186h0M1771.8 120h0M1797.6 327.4h0M1768.9 151.6h0M1758.7 136.9h0M1858.9 121.2h0M1996.1 216.9h0M2012.2 196.5h0M1975.7 77.7h0M1924.4 145.8h0M1821.6 271.6h0M1971.8 311.6h0M1766.7 127.2h0M1876.2 96.8h0M1917.1 72h0M1837.6 103.1h0M1905.1 174.6h0M1862.5 216.3h0M1919.1 205.6h0M1955.6 340.1h0M1983 324.2h0M1768.8 235.4h0M1791.1 193.8h0M1775.8 88.7h0M2006 109.1h0M1971.7 206.4h0M1936.6 80.1h0"/>
</g></g>
<g clip-path="url(#cp4)"><g filter="url(#bl2)" fill="none" stroke-linecap="round">
<path stroke="#ffb41e" stroke-width="3" stroke-opacity="0.7" d="M1914.6 193.3l4.1 6.4"/>
<path stroke="#ffb41e" stroke-width="4" stroke-opacity="0.5" d="M1904.3 238l4.2 5M1843.4 267.8l2.1 2.2M2021.8 120.4l3.1 6.1M1955.5 169.9l2.3 5"/>
<path stroke="#ffb41e" stroke-width="5.5" stroke-opacity="0.5" d="M1925.7 200.5l3.2 7.3M1783.3 108l2.5 3.3M1903.7 69.4l2.7 6.1M1817.2 274.5l5 6M1956.2 110.4l2.9 4M1893.2 207.1l1.5 2.6M1914.9 257.3l3.6 7.2M1879 275.2l1.5 3.9"/>
<path stroke="#ffb41e" stroke-width="5.5" stroke-opacity="0.7" d="M1811 254.9l3.9 4.4M1773.4 338.3l1.8 3.1M2001.7 174.4l2.3 3.6"/>
<path stroke="#ffb41e" stroke-width="5.5" stroke-opacity="0.35" d="M1951.2 307.9l3.6 7.4M1926.1 283.7l2.1 4.6"/>
<path stroke="#ffb41e" stroke-width="3" stroke-opacity="0.5" d="M1894.7 264.3l2.9 3.5M1993.7 299.1l6.3 7.6"/>
<path stroke="#ffb41e" stroke-width="3" stroke-opacity="0.35" d="M1788.2 207.1l3.2 4M1796.4 66.2l3.4 8.2M1870.9 85.8l6 7.1"/>
<path stroke="#ffb41e" stroke-width="5.5" stroke-opacity="0.9" d="M1939.3 194.5l3.8 4.9M1933.7 192.9l4.4 7.2"/>
<path stroke="#ffb41e" stroke-width="4" stroke-opacity="0.7" d="M1795.4 275.2l3 5.2M1783 304.1l1.6 3M1950.6 167.3l3 4.1"/>
<path stroke="#ffb41e" stroke-width="4" stroke-opacity="0.35" d="M1833.3 233.6l1.4 3.5M1875.2 135l1.2 2.7"/>
<path stroke="#ff2d0f" stroke-width="5.5" stroke-opacity="0.35" d="M1944.1 104.9l1.6 20.1M1945.7 110.6l12.3 9.7M1749.1 74.9l9.5 20.2M1832.3 166.9l7.1 18.9M1910.3 95.9l11.8 13M1771.1 122.3l7.9 11.5"/>
<path stroke="#ff2d0f" stroke-width="7" stroke-opacity="0.35" d="M1824.6 71.4l12.4 20.6M1836 138.8l6.9 8.7M1772.3 181l3.8 20"/>
<path stroke="#ff2d0f" stroke-width="4" stroke-opacity="0.35" d="M1947 282.9l6.2 5.6"/>
<path stroke="#ff2d0f" stroke-width="7" stroke-opacity="0.5" d="M1958 182.4l6.7 6.8M1916.9 243.9l17.4 12.7M1985.8 203.6l6.9 8.4M1932.9 150.7l3.3 22.1M1958.5 185.4l3.7 7.2M1853 178.2l7.6 15.3M1937.1 130.7l10.9 16M2002.3 215.4l5.2 10.9"/>
<path stroke="#ff2d0f" stroke-width="5.5" stroke-opacity="0.5" d="M1907.4 256.4l0.7 12.3M1942.9 178l12.3 8.7M1831.1 264.3l9.8 14M1864.7 239.7l0.8 8M1983.3 252.3l3.3 7.9M2007.8 202.1l8.1 6.7M1884.7 155l9.6 16.1M1878.5 102.8l7.7 4.3M1903.7 284.1l8.5 21.6M1776.6 261.2l9.9 12.2M1766.1 268.3l9.1 12.8M1849.3 141.4l8.4 20.7M1988.2 58.4l4.5 19.1M1866 71.2l3.5 14.4M1923.2 67.9l4.1 8"/>
<path stroke="#ff2d0f" stroke-width="4" stroke-opacity="0.5" d="M1887.6 188.5l13 8.2M1848.9 220.8l9.3 8M1774.4 93.9l10.8 20.6M2000.8 202l0.7 8.8M1971.2 188.8l11.5 6.6M1949.3 196.2l4.6 18.7"/>
<path stroke="#ff2d0f" stroke-width="5.5" stroke-opacity="0.7" d="M1914.1 190.2l2 14.9M1965.9 190.9l6.8 8.4M1778.5 316.6l2.6 8.7M2019.3 123.7l6.7 7.4M1969.9 199.5l2.7 11.9M1964.7 154.4l14.4 9.2"/>
<path stroke="#ff2d0f" stroke-width="7" stroke-opacity="0.7" d="M1991.9 329.4l3.6 8.2M1875.5 215.7l7 8.9M1870.8 233.6l9.7 9.6M1982.1 306.9l2.3 10M1851.2 287.3l6 23.2M1917.1 67.6l11.7 13.5M1964.5 260.5l4.3 17.8M1792.2 320.8l12 20.4"/>
<path stroke="#ff2d0f" stroke-width="4" stroke-opacity="0.7" d="M1956.3 210.7l8.1 8.5M1999.6 157.2l8.2 7.6"/>
<path stroke="#ff2d0f" stroke-width="5.5" stroke-opacity="0.9" d="M1934.1 176.9l9.7 8.5M2014.4 182.7l4.8 8.1M1924.8 222.9l7.9 11.4M1987.5 209.2l10.9 19.8M1998.5 158.5l6.3 14.1M1808.8 300l16 17.2M1839 243.1l1 22.7"/>
<path stroke="#ff2d0f" stroke-width="7" stroke-opacity="0.9" d="M1957 199.3l6.7 9.1M1936.2 233.4l2.1 15.7M1861.8 237.2l8.7 5.9M1855.5 276.2l7.2 11.5M1920.4 215.8l1.7 14.3M1880.3 243.8l18.7 13.3M2013.2 157.2l11.8 19.4"/>
<path stroke="#ff2d0f" stroke-width="4" stroke-opacity="0.9" d="M1918.2 185l8.2 10"/>
<path stroke="#000" stroke-width="2" stroke-opacity="0.7" d="M1944.4 115.6h0M1948.4 182.3h0M2023 128.1h0M1865.6 243.6h0M1939.1 180.5h0M1893.7 192.9h0M1835.9 176.9h0M1985 256.8h0M2012.1 205.6h0M2017.6 185.9h0M1889.6 162.9h0M1881.5 105h0M1928 228.3h0M1960.7 215h0M1782.5 267.5h0M1972.2 205.5h0M1971.8 158.5h0M1992.4 219.5h0M2001.2 165.3h0M1916 102.1h0M2003.6 161.1h0M1853.2 150.8h0M1774.4 128.4h0M1926.1 72.5h0M1838.7 254.4h0"/>
<path stroke="#000" stroke-width="3" stroke-opacity="0.7" d="M1830.3 82.3h0M1961.3 185.9h0M1924.8 249.9h0M1993.2 334.4h0M1990.1 207h0M1878.1 219.6h0M1959.9 188.4h0M1876.1 238.8h0M1959.4 204.2h0M1983.2 311.2h0M1853.3 298.7h0M1941.7 138.7h0M1840.5 142.7h0M1865.6 239.3h0M1774.6 191.5h0M1858.5 282.7h0M2018.1 166.4h0"/>
</g></g>
<rect x="527" y="72.6" width="27.8" height="4.2" fill="#fff"/>
<rect x="1143.1" y="72.6" width="27.8" height="4.2" fill="#fff"/>
<rect x="1760.8" y="72.6" width="27.6" height="4.2" fill="#fff"/>
<rect x="1487.5" y="84.8" width="5" height="1.6" fill="#fff"/>
<g text-anchor="middle">
<text x="660.7" y="55.3">Vehicle</text>
<text x="939.4" y="55.3">IL-1α+TNF+C1q</text>
<text x="1276.8" y="55.3">Vehicle</text>
<text x="1555.9" y="55.3">IL-1α+TNF+C1q</text>
<text x="1891.4" y="55.3">IL-1α+TNF+C1q</text>
<text transform="translate(508.5,204) rotate(-90)">C3</text>
<text transform="translate(1127,204) rotate(-90)">IFIT3</text>
<text transform="translate(1743.5,204.5) rotate(-90)"><tspan fill="#1fdc3c" stroke="#1fdc3c">C3</tspan>/<tspan fill="#e8212a" stroke="#e8212a">IFIT3</tspan></text>
</g>
<!-- c1 -->
<g fill="#E5C494"><rect x="164.1" y="685.9" width="19.8" height="76.9"/><rect x="337.1" y="647.9" width="19.8" height="114.9"/></g>
<g fill="#FFD92F"><rect x="183.6" y="760" width="19.8" height="2.8"/><rect x="356.6" y="675.5" width="19.8" height="87.3"/></g>
<g fill="#A6D854"><rect x="203" y="682.4" width="19.8" height="80.4"/><rect x="376" y="594.5" width="19.8" height="168.3"/></g>
<g fill="#8DA0CB"><rect x="242" y="690.3" width="19.8" height="72.5"/><rect x="415" y="647.9" width="19.8" height="114.9"/></g>
<g fill="#FC8D62"><rect x="261.4" y="757.2" width="19.8" height="5.6"/><rect x="434.4" y="679" width="19.8" height="83.8"/></g>
<g fill="#8B0000"><rect x="280.9" y="684.8" width="19.8" height="78"/><rect x="453.9" y="605.9" width="19.8" height="156.9"/></g>
<g fill="#000"><circle cx="151.4" cy="761.7" r="6.8"/><circle cx="155.5" cy="761.7" r="6.8"/><circle cx="170.3" cy="682.4" r="6.8"/><circle cx="175.5" cy="680.7" r="6.8"/><circle cx="171.4" cy="686.9" r="6.8"/><circle cx="188.6" cy="757.2" r="6.8"/><circle cx="196.2" cy="749" r="6.8"/><circle cx="194.5" cy="756.6" r="6.8"/><circle cx="210" cy="680.7" r="6.8"/><circle cx="213.4" cy="675.5" r="6.8"/><circle cx="211.7" cy="689.3" r="6.8"/><circle cx="230.7" cy="761.7" r="6.8"/><circle cx="234.8" cy="761" r="6.8"/><circle cx="247.2" cy="687.6" r="6.8"/><circle cx="254.8" cy="687.6" r="6.8"/><circle cx="250.7" cy="689.3" r="6.8"/><circle cx="266.9" cy="754.8" r="6.8"/><circle cx="265.9" cy="758.3" r="6.8"/><circle cx="285.9" cy="681.4" r="6.8"/><circle cx="293.4" cy="671.4" r="6.8"/><circle cx="294.5" cy="684.1" r="6.8"/><circle cx="323.8" cy="760.7" r="6.8"/><circle cx="327.9" cy="760.7" r="6.8"/><circle cx="344.5" cy="650.3" r="6.8"/><circle cx="348.6" cy="643.4" r="6.8"/><circle cx="347.2" cy="647.9" r="6.8"/><circle cx="362.8" cy="660" r="6.8"/><circle cx="365.9" cy="669.7" r="6.8"/><circle cx="370.3" cy="669.7" r="6.8"/><circle cx="382.4" cy="589.3" r="6.8"/><circle cx="385.9" cy="594.5" r="6.8"/><circle cx="390" cy="600.7" r="6.8"/><circle cx="403.1" cy="760.7" r="6.8"/><circle cx="406.6" cy="760.7" r="6.8"/><circle cx="422.1" cy="651.4" r="6.8"/><circle cx="423.8" cy="642.8" r="6.8"/><circle cx="426.6" cy="650.3" r="6.8"/><circle cx="439.3" cy="677.2" r="6.8"/><circle cx="442.8" cy="672.1" r="6.8"/><circle cx="447.2" cy="673.8" r="6.8"/><circle cx="463.4" cy="603.1" r="6.8"/><circle cx="466.9" cy="601.4" r="6.8"/><circle cx="468.6" cy="612.4" r="6.8"/><circle cx="496.2" cy="762.8" r="6.8"/><circle cx="500.7" cy="762.8" r="6.8"/><circle cx="515.2" cy="762.4" r="6.8"/><circle cx="520.3" cy="762.1" r="6.8"/><circle cx="534.8" cy="762.8" r="6.8"/><circle cx="539.3" cy="762.8" r="6.8"/><circle cx="555.5" cy="762.8" r="6.8"/><circle cx="560" cy="762.8" r="6.8"/><circle cx="574.8" cy="763.1" r="6.8"/><circle cx="579.7" cy="762.8" r="6.8"/><circle cx="594.5" cy="762.8" r="6.8"/><circle cx="599.7" cy="762.8" r="6.8"/><circle cx="614.1" cy="762.8" r="6.8"/><circle cx="618.6" cy="762.8" r="6.8"/><circle cx="635.9" cy="761.7" r="6.8"/><circle cx="640.3" cy="761.7" r="6.8"/></g>
<rect x="118.7" y="417.2" width="553.6" height="353" fill="none" stroke="#000" stroke-width="2"/>
<path d="M108.2 762.8H118.7M108.2 647H118.7M108.2 530.5H118.7" stroke="#333" stroke-width="3.3" fill="none"/>
<g text-anchor="end"><text x="97.2" y="772.3">0</text><text x="97.2" y="656.5">50</text><text x="97.2" y="540">100</text></g>
<path d="M220.2 499 V480.6 Q220.2 478.1 222.7 478.1 H562.9 Q565.4 478.1 565.4 480.6 V499 M142.7 499 H291.5 M479.5 499 H637.4" fill="none" stroke="#000" stroke-width="2"/>
<text x="391.8" y="467.2" text-anchor="middle"><tspan font-style="italic">P</tspan><tspan font-size="17.0" dy="5.4">adj</tspan><tspan dy="-5.4"> = 7 x 10</tspan><tspan font-size="17.0" dy="-7.5">-10</tspan></text>
<path d="M220.2 572.9 V555 Q220.2 552.5 222.7 552.5 H396.6 Q399.1 552.5 399.1 555 V572.9 M142.7 572.9 H291.5 M310.9 572.9 H468" fill="none" stroke="#000" stroke-width="2"/>
<text x="308.6" y="540.7" text-anchor="middle"><tspan font-style="italic">P</tspan><tspan font-size="17.0" dy="5.4">adj</tspan><tspan dy="-5.4"> = 7 x 10</tspan><tspan font-size="17.0" dy="-7.5">-10</tspan></text>
<path d="M222.5 770.2V776.2M395.5 770.2V776.2M568.5 770.2V776.2" stroke="#333" stroke-width="3.3" fill="none"/>
<!-- c2 -->
<g fill="#696969"><rect x="808.7" y="761.7" width="19.8" height="2.4"/><rect x="981.9" y="749.7" width="19.8" height="14.4"/></g>
<g fill="#E5C494"><rect x="828.2" y="658.3" width="19.8" height="105.8"/><rect x="1001.4" y="622.8" width="19.8" height="141.3"/></g>
<g fill="#FFD92F"><rect x="847.7" y="752.4" width="19.8" height="11.7"/><rect x="1020.9" y="727.2" width="19.8" height="36.9"/></g>
<g fill="#A6D854"><rect x="867.1" y="677.9" width="19.8" height="86.2"/><rect x="1040.4" y="623.8" width="19.8" height="140.3"/></g>
<g fill="#E78AC3"><rect x="1059.8" y="761.7" width="19.8" height="2.4"/></g>
<g fill="#8DA0CB"><rect x="906.1" y="674.8" width="19.8" height="89.3"/><rect x="1079.3" y="624.5" width="19.8" height="139.6"/></g>
<g fill="#FC8D62"><rect x="925.6" y="757.2" width="19.8" height="6.9"/><rect x="1098.8" y="721" width="19.8" height="43.1"/></g>
<g fill="#8B0000"><rect x="945.1" y="647.9" width="19.8" height="116.2"/><rect x="1118.3" y="634.1" width="19.8" height="130"/></g>
<g fill="#000"><circle cx="812.2" cy="757.2" r="6.8"/><circle cx="817.1" cy="758.6" r="6.8"/><circle cx="820.5" cy="760" r="6.8"/><circle cx="832.9" cy="653.8" r="6.8"/><circle cx="840.5" cy="648.6" r="6.8"/><circle cx="840.5" cy="660" r="6.8"/><circle cx="856.7" cy="746.2" r="6.8"/><circle cx="857.8" cy="756.6" r="6.8"/><circle cx="878.4" cy="642.8" r="6.8"/><circle cx="877.4" cy="652.4" r="6.8"/><circle cx="878.4" cy="736.6" r="6.8"/><circle cx="892.2" cy="755.9" r="6.8"/><circle cx="896.4" cy="759.3" r="6.8"/><circle cx="915.3" cy="659.3" r="6.8"/><circle cx="914" cy="673.1" r="6.8"/><circle cx="917.1" cy="691" r="6.8"/><circle cx="933.6" cy="747.2" r="6.8"/><circle cx="936.4" cy="752.1" r="6.8"/><circle cx="930.2" cy="759.3" r="6.8"/><circle cx="956.7" cy="617.9" r="6.8"/><circle cx="950.2" cy="646.9" r="6.8"/><circle cx="954.3" cy="679" r="6.8"/><circle cx="992.2" cy="741" r="6.8"/><circle cx="989.5" cy="749.7" r="6.8"/><circle cx="995" cy="757.6" r="6.8"/><circle cx="1006.7" cy="612.4" r="6.8"/><circle cx="1014.7" cy="599" r="6.8"/><circle cx="1015.7" cy="617.6" r="6.8"/><circle cx="1007.8" cy="622.1" r="6.8"/><circle cx="1031.9" cy="717.6" r="6.8"/><circle cx="1032.9" cy="726.6" r="6.8"/><circle cx="1026.7" cy="734.8" r="6.8"/><circle cx="1048.4" cy="591" r="6.8"/><circle cx="1050.2" cy="623.8" r="6.8"/><circle cx="1047.4" cy="635.2" r="6.8"/><circle cx="1046.7" cy="643.8" r="6.8"/><circle cx="1067.4" cy="758.3" r="6.8"/><circle cx="1072.2" cy="754.1" r="6.8"/><circle cx="1088.8" cy="600.7" r="6.8"/><circle cx="1090.5" cy="605.9" r="6.8"/><circle cx="1084.3" cy="608.3" r="6.8"/><circle cx="1087.8" cy="681.4" r="6.8"/><circle cx="1108.4" cy="711" r="6.8"/><circle cx="1112.2" cy="717.9" r="6.8"/><circle cx="1108.8" cy="735.2" r="6.8"/><circle cx="1131.9" cy="612.4" r="6.8"/><circle cx="1127.8" cy="624.5" r="6.8"/><circle cx="1129.1" cy="644.5" r="6.8"/><circle cx="1129.5" cy="653.1" r="6.8"/><circle cx="1164.7" cy="764.1" r="6.8"/><circle cx="1169.1" cy="764.1" r="6.8"/><circle cx="1183.6" cy="764.1" r="6.8"/><circle cx="1187.8" cy="763.4" r="6.8"/><circle cx="1200.9" cy="764.1" r="6.8"/><circle cx="1204.3" cy="764.5" r="6.8"/><circle cx="1220.9" cy="763.4" r="6.8"/><circle cx="1223.3" cy="764.5" r="6.8"/><circle cx="1240.5" cy="764.8" r="6.8"/><circle cx="1245.7" cy="764.5" r="6.8"/><circle cx="1259.5" cy="764.5" r="6.8"/><circle cx="1264.7" cy="764.1" r="6.8"/><circle cx="1280.2" cy="764.1" r="6.8"/><circle cx="1281.9" cy="764.1" r="6.8"/><circle cx="1302.6" cy="764.1" r="6.8"/><circle cx="1306" cy="763.8" r="6.8"/></g>
<rect x="782.7" y="418.5" width="554.3" height="353" fill="none" stroke="#000" stroke-width="2"/>
<path d="M772.2 764H782.7M772.2 673.1H782.7M772.2 581.9H782.7M772.2 490.7H782.7" stroke="#333" stroke-width="3.3" fill="none"/>
<g text-anchor="end"><text x="761.2" y="773.5">0</text><text x="761.2" y="682.6">10</text><text x="761.2" y="591.4">20</text><text x="761.2" y="500.2">30</text></g>
<path d="M890.9 501.3 V483.5 Q890.9 481 893.4 481 H1234.9 Q1237.4 481 1237.4 483.5 V501.3 M814.7 501.3 H962.9 M1150.1 501.3 H1308.1" fill="none" stroke="#000" stroke-width="2"/>
<text x="1063.2" y="468.3" text-anchor="middle"><tspan font-style="italic">P</tspan><tspan font-size="17.0" dy="5.4">adj</tspan><tspan dy="-5.4"> = 5 x 10</tspan><tspan font-size="17.0" dy="-7.5">-13</tspan></text>
<path d="M890.9 575.4 V557.6 Q890.9 555.1 893.4 555.1 H1068.4 Q1070.9 555.1 1070.9 557.6 V575.4 M814.7 575.4 H962.9 M982 575.4 H1140.4" fill="none" stroke="#000" stroke-width="2"/>
<text x="979.9" y="542.4" text-anchor="middle"><tspan font-style="italic">P</tspan><tspan font-size="17.0" dy="5.4">adj</tspan><tspan dy="-5.4"> = 5 x 10</tspan><tspan font-size="17.0" dy="-7.5">-4</tspan></text>
<path d="M886.6 771.5V777.5M1059.8 771.5V777.5M1233.1 771.5V777.5" stroke="#333" stroke-width="3.3" fill="none"/>
<!-- c3 -->
<g fill="#696969"><rect x="1475.7" y="747.9" width="19.8" height="14"/><rect x="1648.7" y="756.6" width="19.8" height="5.3"/></g>
<g fill="#E5C494"><rect x="1495.1" y="630.7" width="19.8" height="131.2"/><rect x="1668.1" y="597.2" width="19.8" height="164.7"/></g>
<g fill="#FFD92F"><rect x="1514.6" y="749.7" width="19.8" height="12.2"/><rect x="1687.6" y="646.2" width="19.8" height="115.7"/></g>
<g fill="#A6D854"><rect x="1534" y="649" width="19.8" height="112.9"/><rect x="1707" y="605.5" width="19.8" height="156.4"/></g>
<g fill="#E78AC3"><rect x="1553.5" y="755.9" width="19.8" height="6"/><rect x="1726.5" y="735.9" width="19.8" height="26"/></g>
<g fill="#8DA0CB"><rect x="1573" y="621" width="19.8" height="140.9"/><rect x="1746" y="600.7" width="19.8" height="161.2"/></g>
<g fill="#FC8D62"><rect x="1592.4" y="735.9" width="19.8" height="26"/><rect x="1765.4" y="642.8" width="19.8" height="119.1"/></g>
<g fill="#8B0000"><rect x="1611.9" y="642.8" width="19.8" height="119.1"/><rect x="1784.9" y="613.4" width="19.8" height="148.5"/></g>
<g fill="#000"><circle cx="1485.9" cy="738.3" r="6.8"/><circle cx="1488.3" cy="745.5" r="6.8"/><circle cx="1480.7" cy="757.6" r="6.8"/><circle cx="1507.2" cy="602.1" r="6.8"/><circle cx="1500.3" cy="617.6" r="6.8"/><circle cx="1507.2" cy="672.1" r="6.8"/><circle cx="1526.2" cy="743.8" r="6.8"/><circle cx="1523.8" cy="749" r="6.8"/><circle cx="1527.2" cy="755.9" r="6.8"/><circle cx="1539" cy="629.7" r="6.8"/><circle cx="1543.4" cy="630" r="6.8"/><circle cx="1540" cy="687.6" r="6.8"/><circle cx="1557.2" cy="747.9" r="6.8"/><circle cx="1563.1" cy="749" r="6.8"/><circle cx="1565.2" cy="757.2" r="6.8"/><circle cx="1584.1" cy="607.2" r="6.8"/><circle cx="1583.1" cy="623.8" r="6.8"/><circle cx="1581.4" cy="629" r="6.8"/><circle cx="1597.6" cy="728.3" r="6.8"/><circle cx="1603.8" cy="727.2" r="6.8"/><circle cx="1603.1" cy="750.7" r="6.8"/><circle cx="1625.2" cy="627.2" r="6.8"/><circle cx="1622.8" cy="642.8" r="6.8"/><circle cx="1622.1" cy="657.2" r="6.8"/><circle cx="1653.8" cy="753.8" r="6.8"/><circle cx="1657.9" cy="756.6" r="6.8"/><circle cx="1675.5" cy="588.3" r="6.8"/><circle cx="1681.4" cy="591.7" r="6.8"/><circle cx="1682.1" cy="601.4" r="6.8"/><circle cx="1680.3" cy="606.6" r="6.8"/><circle cx="1694.5" cy="618.6" r="6.8"/><circle cx="1695.9" cy="635.2" r="6.8"/><circle cx="1696.9" cy="642.8" r="6.8"/><circle cx="1700.3" cy="687.6" r="6.8"/><circle cx="1718.3" cy="588.3" r="6.8"/><circle cx="1718.6" cy="596.2" r="6.8"/><circle cx="1714.8" cy="600.7" r="6.8"/><circle cx="1714.1" cy="634.1" r="6.8"/><circle cx="1733.8" cy="722.8" r="6.8"/><circle cx="1739.3" cy="727.2" r="6.8"/><circle cx="1738.6" cy="740" r="6.8"/><circle cx="1733.8" cy="750.7" r="6.8"/><circle cx="1752.1" cy="597.2" r="6.8"/><circle cx="1759" cy="596.9" r="6.8"/><circle cx="1753.8" cy="601.4" r="6.8"/><circle cx="1752.8" cy="604.8" r="6.8"/><circle cx="1772.8" cy="624.8" r="6.8"/><circle cx="1771" cy="630.7" r="6.8"/><circle cx="1774.5" cy="641" r="6.8"/><circle cx="1772.8" cy="671.4" r="6.8"/><circle cx="1790.7" cy="600.7" r="6.8"/><circle cx="1797.9" cy="613.4" r="6.8"/><circle cx="1794.5" cy="618.6" r="6.8"/><circle cx="1791" cy="622.8" r="6.8"/><circle cx="1829.7" cy="761.7" r="6.8"/><circle cx="1834.1" cy="761.7" r="6.8"/><circle cx="1847.9" cy="761" r="6.8"/><circle cx="1852.1" cy="760.7" r="6.8"/><circle cx="1866.9" cy="761.7" r="6.8"/><circle cx="1872.8" cy="761.7" r="6.8"/><circle cx="1887.6" cy="761" r="6.8"/><circle cx="1893.4" cy="761" r="6.8"/><circle cx="1907.9" cy="761.7" r="6.8"/><circle cx="1912.4" cy="761.7" r="6.8"/><circle cx="1927.2" cy="761.7" r="6.8"/><circle cx="1931.4" cy="761.7" r="6.8"/><circle cx="1945.2" cy="761.7" r="6.8"/><circle cx="1951.4" cy="761" r="6.8"/><circle cx="1965.2" cy="761" r="6.8"/><circle cx="1972.1" cy="759" r="6.8"/></g>
<rect x="1449.7" y="417.2" width="553.6" height="353" fill="none" stroke="#000" stroke-width="2"/>
<path d="M1439.2 762.2H1449.7M1439.2 666H1449.7M1439.2 570H1449.7M1439.2 474.3H1449.7" stroke="#333" stroke-width="3.3" fill="none"/>
<g text-anchor="end"><text x="1428.2" y="771.7">0</text><text x="1428.2" y="675.5">20</text><text x="1428.2" y="579.5">40</text><text x="1428.2" y="483.8">60</text></g>
<path d="M1557.5 491.4 V473.1 Q1557.5 470.6 1560 470.6 H1900.4 Q1902.9 470.6 1902.9 473.1 V491.4 M1481 491.4 H1629 M1816.3 491.4 H1974" fill="none" stroke="#000" stroke-width="2"/>
<text x="1729.2" y="458" text-anchor="middle"><tspan font-style="italic">P</tspan><tspan font-size="17.0" dy="5.4">adj</tspan><tspan dy="-5.4"> = 3 x 10</tspan><tspan font-size="17.0" dy="-7.5">-20</tspan></text>
<path d="M1557.5 564.9 V547.1 Q1557.5 544.6 1560 544.6 H1734.3 Q1736.8 544.6 1736.8 547.1 V564.9 M1481 564.9 H1629 M1648 564.9 H1806.5" fill="none" stroke="#000" stroke-width="2"/>
<text x="1646.2" y="532" text-anchor="middle"><tspan font-style="italic">P</tspan><tspan font-size="17.0" dy="5.4">adj</tspan><tspan dy="-5.4"> = 1 x 10</tspan><tspan font-size="17.0" dy="-7.5">-6</tspan></text>
<path d="M1553.5 770.2V776.2M1726.5 770.2V776.2M1899.5 770.2V776.2" stroke="#333" stroke-width="3.3" fill="none"/>
<!-- c4 -->
<g fill="#696969"><rect x="490.6" y="979.3" width="19.8" height="164.9"/></g>
<g fill="#E5C494"><rect x="164.1" y="1140" width="19.8" height="4.2"/><rect x="337.1" y="1142.7" width="19.8" height="1.5"/><rect x="510.1" y="1108.3" width="19.8" height="35.9"/></g>
<g fill="#FFD92F"><rect x="183.6" y="1050.7" width="19.8" height="93.5"/><rect x="356.6" y="1135" width="19.8" height="9.2"/><rect x="529.6" y="1095" width="19.8" height="49.2"/></g>
<g fill="#A6D854"><rect x="203" y="1126.7" width="19.8" height="17.5"/><rect x="376" y="1142.7" width="19.8" height="1.5"/><rect x="549" y="1124" width="19.8" height="20.2"/></g>
<g fill="#E78AC3"><rect x="395.5" y="1142" width="19.8" height="2.2"/><rect x="568.5" y="971.7" width="19.8" height="172.5"/></g>
<g fill="#8DA0CB"><rect x="242" y="1136" width="19.8" height="8.2"/><rect x="588" y="1108.3" width="19.8" height="35.9"/></g>
<g fill="#FC8D62"><rect x="261.4" y="1040" width="19.8" height="104.2"/><rect x="434.4" y="1126.7" width="19.8" height="17.5"/><rect x="607.4" y="1091.7" width="19.8" height="52.5"/></g>
<g fill="#8B0000"><rect x="280.9" y="1130" width="19.8" height="14.2"/><rect x="626.9" y="1109" width="19.8" height="35.2"/></g>
<g fill="#000"><circle cx="150" cy="1143.3" r="6.8"/><circle cx="157.7" cy="1143.3" r="6.8"/><circle cx="170" cy="1139.3" r="6.8"/><circle cx="176.7" cy="1137.3" r="6.8"/><circle cx="192.7" cy="1044" r="6.8"/><circle cx="193.3" cy="1065" r="6.8"/><circle cx="213.3" cy="1121.7" r="6.8"/><circle cx="212.7" cy="1129" r="6.8"/><circle cx="227.7" cy="1142" r="6.8"/><circle cx="235" cy="1142.7" r="6.8"/><circle cx="249.3" cy="1133.3" r="6.8"/><circle cx="252.7" cy="1131.7" r="6.8"/><circle cx="269" cy="1035" r="6.8"/><circle cx="273.3" cy="1036.7" r="6.8"/><circle cx="269" cy="1049" r="6.8"/><circle cx="288.3" cy="1128.3" r="6.8"/><circle cx="294.3" cy="1128.3" r="6.8"/><circle cx="323.3" cy="1142.7" r="6.8"/><circle cx="331" cy="1142" r="6.8"/><circle cx="343.3" cy="1140.7" r="6.8"/><circle cx="350" cy="1140.7" r="6.8"/><circle cx="362.3" cy="1132" r="6.8"/><circle cx="369.3" cy="1129.3" r="6.8"/><circle cx="381.7" cy="1142" r="6.8"/><circle cx="388.3" cy="1142" r="6.8"/><circle cx="406.7" cy="1141" r="6.8"/><circle cx="421" cy="1141" r="6.8"/><circle cx="428.3" cy="1140" r="6.8"/><circle cx="442.7" cy="1125" r="6.8"/><circle cx="444.3" cy="1126.7" r="6.8"/><circle cx="461.7" cy="1142" r="6.8"/><circle cx="468.3" cy="1142" r="6.8"/><circle cx="500" cy="974" r="6.8"/><circle cx="505" cy="975" r="6.8"/><circle cx="501.7" cy="988.3" r="6.8"/><circle cx="517.7" cy="1111" r="6.8"/><circle cx="521" cy="1103.3" r="6.8"/><circle cx="536.7" cy="1098.3" r="6.8"/><circle cx="540" cy="1092.3" r="6.8"/><circle cx="556.7" cy="1120" r="6.8"/><circle cx="556.7" cy="1126" r="6.8"/><circle cx="576.7" cy="971.7" r="6.8"/><circle cx="580" cy="971.7" r="6.8"/><circle cx="582.7" cy="972" r="6.8"/><circle cx="594.3" cy="1106.7" r="6.8"/><circle cx="596" cy="1109.3" r="6.8"/><circle cx="614" cy="1089.3" r="6.8"/><circle cx="621.7" cy="1086.7" r="6.8"/><circle cx="636.7" cy="1104" r="6.8"/><circle cx="640" cy="1110" r="6.8"/></g>
<rect x="118.7" y="799" width="553.6" height="353.6" fill="none" stroke="#000" stroke-width="2"/>
<path d="M108.2 1144.3H118.7M108.2 1057H118.7M108.2 969H118.7M108.2 881.6H118.7" stroke="#333" stroke-width="3.3" fill="none"/>
<g text-anchor="end"><text x="97.2" y="1153.8">0</text><text x="97.2" y="1066.5">50</text><text x="97.2" y="978.5">100</text><text x="97.2" y="891.1">150</text></g>
<path d="M220.7 871.5 V853.7 Q220.7 851.2 223.2 851.2 H564.2 Q566.7 851.2 566.7 853.7 V871.5 M144 871.5 H292.2 M479.9 871.5 H638.3" fill="none" stroke="#000" stroke-width="2"/>
<text x="392.7" y="839.3" text-anchor="middle"><tspan font-style="italic">P</tspan><tspan font-size="17.0" dy="5.4">adj</tspan><tspan dy="-5.4"> = 2 x 10</tspan><tspan font-size="17.0" dy="-7.5">-71</tspan></text>
<path d="M220.7 945.6 V927.8 Q220.7 925.3 223.2 925.3 H397.8 Q400.3 925.3 400.3 927.8 V945.6 M144 945.6 H292.2 M311.3 945.6 H469.3" fill="none" stroke="#000" stroke-width="2"/>
<text x="309.5" y="912.6" text-anchor="middle"><tspan font-style="italic">P</tspan><tspan font-size="17.0" dy="5.4">adj</tspan><tspan dy="-5.4"> = 0.01</tspan></text>
<path d="M222.5 1152.6V1158.6M395.5 1152.6V1158.6M568.5 1152.6V1158.6" stroke="#333" stroke-width="3.3" fill="none"/>
<!-- c5 -->
<g fill="#696969"><rect x="808.7" y="1144.1" width="19.8" height="1.7"/><rect x="1155.1" y="978.6" width="19.8" height="167.2"/></g>
<g fill="#E5C494"><rect x="828.2" y="1127.9" width="19.8" height="17.9"/><rect x="1001.4" y="1142.8" width="19.8" height="3"/><rect x="1174.6" y="1047.9" width="19.8" height="97.9"/></g>
<g fill="#FFD92F"><rect x="847.7" y="1023.4" width="19.8" height="122.4"/><rect x="1020.9" y="1100.3" width="19.8" height="45.5"/><rect x="1194.1" y="1003.8" width="19.8" height="142"/></g>
<g fill="#A6D854"><rect x="867.1" y="1086.6" width="19.8" height="59.2"/><rect x="1040.4" y="1125.2" width="19.8" height="20.6"/><rect x="1213.6" y="1051" width="19.8" height="94.8"/></g>
<g fill="#E78AC3"><rect x="1233.1" y="989.3" width="19.8" height="156.5"/></g>
<g fill="#8DA0CB"><rect x="906.1" y="1101.4" width="19.8" height="44.4"/><rect x="1079.3" y="1122.1" width="19.8" height="23.7"/><rect x="1252.6" y="1050.3" width="19.8" height="95.5"/></g>
<g fill="#FC8D62"><rect x="925.6" y="1023.4" width="19.8" height="122.4"/><rect x="1098.8" y="1085.9" width="19.8" height="59.9"/><rect x="1272" y="1003.1" width="19.8" height="142.7"/></g>
<g fill="#8B0000"><rect x="945.1" y="1123.8" width="19.8" height="22"/><rect x="1118.3" y="1137.2" width="19.8" height="8.6"/><rect x="1291.5" y="1040" width="19.8" height="105.8"/></g>
<g fill="#000"><circle cx="816.4" cy="1143.4" r="6.8"/><circle cx="819.1" cy="1143.4" r="6.8"/><circle cx="832.6" cy="1120.3" r="6.8"/><circle cx="838.8" cy="1126.2" r="6.8"/><circle cx="854.3" cy="993.4" r="6.8"/><circle cx="856.7" cy="1023.4" r="6.8"/><circle cx="855.3" cy="1052.1" r="6.8"/><circle cx="880.2" cy="1042.8" r="6.8"/><circle cx="873.3" cy="1104.8" r="6.8"/><circle cx="880.2" cy="1109" r="6.8"/><circle cx="893.3" cy="1142.8" r="6.8"/><circle cx="898.1" cy="1139" r="6.8"/><circle cx="915.3" cy="1077.2" r="6.8"/><circle cx="914.7" cy="1106.2" r="6.8"/><circle cx="919.1" cy="1119.3" r="6.8"/><circle cx="938.8" cy="980.3" r="6.8"/><circle cx="937.8" cy="1040" r="6.8"/><circle cx="934.3" cy="1049.7" r="6.8"/><circle cx="955" cy="1113.4" r="6.8"/><circle cx="955" cy="1121.7" r="6.8"/><circle cx="954.3" cy="1131.4" r="6.8"/><circle cx="986" cy="1143.4" r="6.8"/><circle cx="994.7" cy="1139.3" r="6.8"/><circle cx="1007.1" cy="1137.2" r="6.8"/><circle cx="1012.9" cy="1135.5" r="6.8"/><circle cx="1026" cy="1084.1" r="6.8"/><circle cx="1026.7" cy="1094.5" r="6.8"/><circle cx="1033.6" cy="1096.2" r="6.8"/><circle cx="1053.3" cy="1115.9" r="6.8"/><circle cx="1052.6" cy="1121.7" r="6.8"/><circle cx="1047.4" cy="1136.6" r="6.8"/><circle cx="1066.4" cy="1144.1" r="6.8"/><circle cx="1073.3" cy="1141" r="6.8"/><circle cx="1089.5" cy="1090.7" r="6.8"/><circle cx="1084.3" cy="1124.5" r="6.8"/><circle cx="1090.5" cy="1135.5" r="6.8"/><circle cx="1110.5" cy="1045.2" r="6.8"/><circle cx="1112.2" cy="1097.6" r="6.8"/><circle cx="1105.3" cy="1102.1" r="6.8"/><circle cx="1124.3" cy="1133.1" r="6.8"/><circle cx="1126.7" cy="1136.6" r="6.8"/><circle cx="1130.2" cy="1136.6" r="6.8"/><circle cx="1162.9" cy="972.8" r="6.8"/><circle cx="1169.1" cy="976.2" r="6.8"/><circle cx="1162.2" cy="984.8" r="6.8"/><circle cx="1185.3" cy="1040" r="6.8"/><circle cx="1187.1" cy="1049.7" r="6.8"/><circle cx="1188.1" cy="1056.2" r="6.8"/><circle cx="1207.1" cy="987.6" r="6.8"/><circle cx="1204.3" cy="998.6" r="6.8"/><circle cx="1204.3" cy="1007.9" r="6.8"/><circle cx="1199.8" cy="1019.3" r="6.8"/><circle cx="1226.7" cy="1040" r="6.8"/><circle cx="1219.8" cy="1046.2" r="6.8"/><circle cx="1221.6" cy="1053.1" r="6.8"/><circle cx="1224.3" cy="1062.4" r="6.8"/><circle cx="1247.4" cy="972.8" r="6.8"/><circle cx="1240.5" cy="984.8" r="6.8"/><circle cx="1239.5" cy="993.4" r="6.8"/><circle cx="1238.8" cy="1003.1" r="6.8"/><circle cx="1262.2" cy="1031.4" r="6.8"/><circle cx="1267.1" cy="1042.4" r="6.8"/><circle cx="1258.8" cy="1060.7" r="6.8"/><circle cx="1262.2" cy="1062.4" r="6.8"/><circle cx="1283.6" cy="982.1" r="6.8"/><circle cx="1286.4" cy="1003.8" r="6.8"/><circle cx="1280.2" cy="1011.4" r="6.8"/><circle cx="1281.9" cy="1015.9" r="6.8"/><circle cx="1299.1" cy="1023.4" r="6.8"/><circle cx="1306" cy="1032.4" r="6.8"/><circle cx="1298.1" cy="1039.3" r="6.8"/><circle cx="1302.6" cy="1063.1" r="6.8"/></g>
<rect x="782.7" y="800.3" width="554.3" height="353.6" fill="none" stroke="#000" stroke-width="2"/>
<path d="M772.2 1145.5H782.7M772.2 1036.9H782.7M772.2 928.3H782.7M772.2 819.5H782.7" stroke="#333" stroke-width="3.3" fill="none"/>
<g text-anchor="end"><text x="761.2" y="1155">0</text><text x="761.2" y="1046.4">50</text><text x="761.2" y="937.8">100</text><text x="761.2" y="829">150</text></g>
<path d="M890.9 882.5 V864.2 Q890.9 861.7 893.4 861.7 H1234.9 Q1237.4 861.7 1237.4 864.2 V882.5 M814.7 882.5 H962.9 M1150 882.5 H1308" fill="none" stroke="#000" stroke-width="2"/>
<text x="1063.2" y="849.9" text-anchor="middle"><tspan font-style="italic">P</tspan><tspan font-size="17.0" dy="5.4">adj</tspan><tspan dy="-5.4"> = 4 x 10</tspan><tspan font-size="17.0" dy="-7.5">-22</tspan></text>
<path d="M890.9 956.2 V939.2 Q890.9 936.7 893.4 936.7 H1068.5 Q1071 936.7 1071 939.2 V956.2 M814.7 956.2 H962.9 M982 956.2 H1140.4" fill="none" stroke="#000" stroke-width="2"/>
<text x="980" y="924.9" text-anchor="middle"><tspan font-style="italic">P</tspan><tspan font-size="17.0" dy="5.4">adj</tspan><tspan dy="-5.4"> = 3 x 10</tspan><tspan font-size="17.0" dy="-7.5">-4</tspan></text>
<path d="M886.6 1153.9V1159.9M1059.8 1153.9V1159.9M1233.1 1153.9V1159.9" stroke="#333" stroke-width="3.3" fill="none"/>
<!-- c6 -->
<g fill="#696969"><rect x="1475.7" y="1137.2" width="19.8" height="5.6"/><rect x="1648.7" y="1133.1" width="19.8" height="9.7"/><rect x="1821.7" y="980.7" width="19.8" height="162.1"/></g>
<g fill="#E5C494"><rect x="1495.1" y="1127.9" width="19.8" height="14.9"/><rect x="1668.1" y="1141.7" width="19.8" height="1.1"/><rect x="1841.1" y="1068.3" width="19.8" height="74.5"/></g>
<g fill="#FFD92F"><rect x="1514.6" y="1040.7" width="19.8" height="102.1"/><rect x="1687.6" y="1114.1" width="19.8" height="28.7"/><rect x="1860.6" y="1024.5" width="19.8" height="118.3"/></g>
<g fill="#A6D854"><rect x="1534" y="1122.8" width="19.8" height="20"/><rect x="1707" y="1133.1" width="19.8" height="9.7"/><rect x="1880" y="1049.7" width="19.8" height="93.1"/></g>
<g fill="#E78AC3"><rect x="1553.5" y="1138.3" width="19.8" height="4.5"/><rect x="1726.5" y="1141" width="19.8" height="1.8"/><rect x="1899.5" y="978.6" width="19.8" height="164.2"/></g>
<g fill="#8DA0CB"><rect x="1573" y="1133.1" width="19.8" height="9.7"/><rect x="1746" y="1141.7" width="19.8" height="1.1"/><rect x="1919" y="1062.4" width="19.8" height="80.4"/></g>
<g fill="#FC8D62"><rect x="1592.4" y="1063.1" width="19.8" height="79.7"/><rect x="1765.4" y="1122.8" width="19.8" height="20"/><rect x="1938.4" y="1014.1" width="19.8" height="128.7"/></g>
<g fill="#8B0000"><rect x="1611.9" y="1127.9" width="19.8" height="14.9"/><rect x="1784.9" y="1141.7" width="19.8" height="1.1"/><rect x="1957.9" y="1045.2" width="19.8" height="97.6"/></g>
<g fill="#000"><circle cx="1485.9" cy="1131.4" r="6.8"/><circle cx="1480.7" cy="1138.3" r="6.8"/><circle cx="1490" cy="1136.6" r="6.8"/><circle cx="1508.3" cy="1107.2" r="6.8"/><circle cx="1500.3" cy="1138.3" r="6.8"/><circle cx="1502.1" cy="1138.3" r="6.8"/><circle cx="1524.5" cy="1024.5" r="6.8"/><circle cx="1520.3" cy="1048.6" r="6.8"/><circle cx="1524.5" cy="1048.6" r="6.8"/><circle cx="1540.7" cy="1092.4" r="6.8"/><circle cx="1540" cy="1137.2" r="6.8"/><circle cx="1546.2" cy="1137.2" r="6.8"/><circle cx="1559" cy="1134.1" r="6.8"/><circle cx="1561.4" cy="1140" r="6.8"/><circle cx="1565.2" cy="1137.6" r="6.8"/><circle cx="1578.6" cy="1126.2" r="6.8"/><circle cx="1584.1" cy="1130.7" r="6.8"/><circle cx="1581.4" cy="1139.3" r="6.8"/><circle cx="1599.3" cy="1039" r="6.8"/><circle cx="1604.8" cy="1070" r="6.8"/><circle cx="1606.2" cy="1079" r="6.8"/><circle cx="1625.2" cy="1115.9" r="6.8"/><circle cx="1618.3" cy="1127.9" r="6.8"/><circle cx="1619.3" cy="1139.3" r="6.8"/><circle cx="1655.5" cy="1110.7" r="6.8"/><circle cx="1653.8" cy="1139" r="6.8"/><circle cx="1659" cy="1139" r="6.8"/><circle cx="1674.5" cy="1138.3" r="6.8"/><circle cx="1676.2" cy="1140" r="6.8"/><circle cx="1692.8" cy="1092.4" r="6.8"/><circle cx="1695.2" cy="1116.9" r="6.8"/><circle cx="1695.9" cy="1126.2" r="6.8"/><circle cx="1714.1" cy="1113.4" r="6.8"/><circle cx="1716.9" cy="1134.8" r="6.8"/><circle cx="1719.3" cy="1139" r="6.8"/><circle cx="1735.9" cy="1135.5" r="6.8"/><circle cx="1734.8" cy="1140.7" r="6.8"/><circle cx="1738.3" cy="1140" r="6.8"/><circle cx="1754.5" cy="1136.6" r="6.8"/><circle cx="1752.8" cy="1140" r="6.8"/><circle cx="1757.2" cy="1140.7" r="6.8"/><circle cx="1775.5" cy="1111.7" r="6.8"/><circle cx="1776.2" cy="1123.4" r="6.8"/><circle cx="1775.2" cy="1129" r="6.8"/><circle cx="1793.4" cy="1139.3" r="6.8"/><circle cx="1797.6" cy="1139" r="6.8"/><circle cx="1829.7" cy="975.5" r="6.8"/><circle cx="1832.4" cy="978.6" r="6.8"/><circle cx="1835.9" cy="979" r="6.8"/><circle cx="1854.8" cy="1056.6" r="6.8"/><circle cx="1848.6" cy="1063.1" r="6.8"/><circle cx="1850.3" cy="1072.1" r="6.8"/><circle cx="1847.6" cy="1077.2" r="6.8"/><circle cx="1871" cy="1012.4" r="6.8"/><circle cx="1867.6" cy="1023.8" r="6.8"/><circle cx="1872.1" cy="1026.2" r="6.8"/><circle cx="1874.5" cy="1033.8" r="6.8"/><circle cx="1891" cy="1040.7" r="6.8"/><circle cx="1894.1" cy="1044.5" r="6.8"/><circle cx="1888.3" cy="1050.3" r="6.8"/><circle cx="1893.4" cy="1051.4" r="6.8"/><circle cx="1912.4" cy="970.3" r="6.8"/><circle cx="1907.2" cy="978.6" r="6.8"/><circle cx="1910.7" cy="982.1" r="6.8"/><circle cx="1933.1" cy="1057.2" r="6.8"/><circle cx="1924.5" cy="1060.7" r="6.8"/><circle cx="1931.4" cy="1060.7" r="6.8"/><circle cx="1926.2" cy="1062.4" r="6.8"/><circle cx="1946.2" cy="1009.7" r="6.8"/><circle cx="1948.6" cy="1014.1" r="6.8"/><circle cx="1951.4" cy="1017.6" r="6.8"/><circle cx="1971" cy="1039.3" r="6.8"/><circle cx="1968.3" cy="1042.8" r="6.8"/><circle cx="1965.9" cy="1045.2" r="6.8"/><circle cx="1972.1" cy="1045.2" r="6.8"/></g>
<rect x="1449.7" y="799" width="553.6" height="353.6" fill="none" stroke="#000" stroke-width="2"/>
<path d="M1439.2 1142.8H1449.7M1439.2 1049.8H1449.7M1439.2 956.7H1449.7M1439.2 863.7H1449.7" stroke="#333" stroke-width="3.3" fill="none"/>
<g text-anchor="end"><text x="1428.2" y="1152.3">0</text><text x="1428.2" y="1059.3">50</text><text x="1428.2" y="966.2">100</text><text x="1428.2" y="873.2">150</text></g>
<path d="M1556.6 881.9 V863.7 Q1556.6 861.2 1559.1 861.2 H1900 Q1902.5 861.2 1902.5 863.7 V881.9 M1480 881.9 H1628 M1815.4 881.9 H1973.1" fill="none" stroke="#000" stroke-width="2"/>
<text x="1728.5" y="847.7" text-anchor="middle"><tspan font-style="italic">P</tspan><tspan font-size="17.0" dy="5.4">adj</tspan><tspan dy="-5.4"> = 1 x 10</tspan><tspan font-size="17.0" dy="-7.5">-36</tspan></text>
<path d="M1556.6 955.5 V937.7 Q1556.6 935.2 1559.1 935.2 H1733.8 Q1736.3 935.2 1736.3 937.7 V955.5 M1480 955.5 H1628 M1647.5 955.5 H1805.7" fill="none" stroke="#000" stroke-width="2"/>
<text x="1645.4" y="922.5" text-anchor="middle"><tspan font-style="italic">P</tspan><tspan font-size="17.0" dy="5.4">adj</tspan><tspan dy="-5.4"> = 6 x 10</tspan><tspan font-size="17.0" dy="-7.5">-4</tspan></text>
<path d="M1553.5 1152.6V1158.6M1726.5 1152.6V1158.6M1899.5 1152.6V1158.6" stroke="#333" stroke-width="3.3" fill="none"/>
<!-- c7 -->
<g fill="#696969"><rect x="490.6" y="1523.3" width="19.8" height="2"/></g>
<g fill="#E5C494"><rect x="164.1" y="1511.7" width="19.8" height="13.6"/><rect x="337.1" y="1521.7" width="19.8" height="3.6"/><rect x="510.1" y="1374" width="19.8" height="151.3"/></g>
<g fill="#FFD92F"><rect x="183.6" y="1488.3" width="19.8" height="37"/><rect x="356.6" y="1472.7" width="19.8" height="52.6"/><rect x="529.6" y="1388.3" width="19.8" height="137"/></g>
<g fill="#A6D854"><rect x="203" y="1481.7" width="19.8" height="43.6"/><rect x="376" y="1510" width="19.8" height="15.3"/><rect x="549" y="1355" width="19.8" height="170.3"/></g>
<g fill="#E78AC3"><rect x="568.5" y="1524" width="19.8" height="1.3"/></g>
<g fill="#8DA0CB"><rect x="242" y="1507.3" width="19.8" height="18"/><rect x="415" y="1520" width="19.8" height="5.3"/><rect x="588" y="1373.3" width="19.8" height="152"/></g>
<g fill="#FC8D62"><rect x="261.4" y="1490" width="19.8" height="35.3"/><rect x="434.4" y="1473.3" width="19.8" height="52"/><rect x="607.4" y="1397.3" width="19.8" height="128"/></g>
<g fill="#8B0000"><rect x="280.9" y="1480" width="19.8" height="45.3"/><rect x="453.9" y="1512.7" width="19.8" height="12.6"/><rect x="626.9" y="1376" width="19.8" height="149.3"/></g>
<g fill="#000"><circle cx="151" cy="1525.3" r="6.8"/><circle cx="156.7" cy="1525.3" r="6.8"/><circle cx="171" cy="1507.3" r="6.8"/><circle cx="174.3" cy="1515" r="6.8"/><circle cx="190" cy="1485" r="6.8"/><circle cx="196" cy="1483.3" r="6.8"/><circle cx="210" cy="1473.3" r="6.8"/><circle cx="212.7" cy="1482.3" r="6.8"/><circle cx="227.7" cy="1525.3" r="6.8"/><circle cx="233.3" cy="1525.3" r="6.8"/><circle cx="252.7" cy="1502.7" r="6.8"/><circle cx="251" cy="1509" r="6.8"/><circle cx="270" cy="1485" r="6.8"/><circle cx="271.7" cy="1490" r="6.8"/><circle cx="269" cy="1491.7" r="6.8"/><circle cx="288.3" cy="1478.3" r="6.8"/><circle cx="291" cy="1475.7" r="6.8"/><circle cx="287.7" cy="1481.7" r="6.8"/><circle cx="325" cy="1525.3" r="6.8"/><circle cx="329.3" cy="1525.3" r="6.8"/><circle cx="342.7" cy="1519.3" r="6.8"/><circle cx="348.3" cy="1517.3" r="6.8"/><circle cx="364.3" cy="1477.7" r="6.8"/><circle cx="369.3" cy="1469.3" r="6.8"/><circle cx="368.3" cy="1471.7" r="6.8"/><circle cx="385.7" cy="1508.3" r="6.8"/><circle cx="385" cy="1511" r="6.8"/><circle cx="405" cy="1525.3" r="6.8"/><circle cx="410" cy="1525.3" r="6.8"/><circle cx="421.7" cy="1519.3" r="6.8"/><circle cx="427.7" cy="1518.3" r="6.8"/><circle cx="440" cy="1471" r="6.8"/><circle cx="446" cy="1471.7" r="6.8"/><circle cx="461.7" cy="1511" r="6.8"/><circle cx="463.3" cy="1512" r="6.8"/><circle cx="497.3" cy="1522.3" r="6.8"/><circle cx="516.7" cy="1377.7" r="6.8"/><circle cx="519.3" cy="1370" r="6.8"/><circle cx="538.3" cy="1383.3" r="6.8"/><circle cx="541.7" cy="1388.3" r="6.8"/><circle cx="544.3" cy="1390.7" r="6.8"/><circle cx="556" cy="1352.7" r="6.8"/><circle cx="560" cy="1358.3" r="6.8"/><circle cx="581.7" cy="1522.7" r="6.8"/><circle cx="597.3" cy="1372.7" r="6.8"/><circle cx="600" cy="1371.7" r="6.8"/><circle cx="601" cy="1373.3" r="6.8"/><circle cx="614" cy="1394.3" r="6.8"/><circle cx="621" cy="1393.3" r="6.8"/><circle cx="620" cy="1396" r="6.8"/><circle cx="637.7" cy="1372.7" r="6.8"/><circle cx="640" cy="1375" r="6.8"/><circle cx="639" cy="1380" r="6.8"/></g>
<rect x="118.7" y="1179.5" width="553.6" height="353.6" fill="none" stroke="#000" stroke-width="2"/>
<path d="M108.2 1525.2H118.7M108.2 1428.3H118.7M108.2 1331.7H118.7M108.2 1235H118.7" stroke="#333" stroke-width="3.3" fill="none"/>
<g text-anchor="end"><text x="97.2" y="1534.7">0</text><text x="97.2" y="1437.8">50</text><text x="97.2" y="1341.2">100</text><text x="97.2" y="1244.5">150</text></g>
<path d="M219.4 1296.4 V1278.1 Q219.4 1275.6 221.9 1275.6 H562.9 Q565.4 1275.6 565.4 1278.1 V1296.4 M143.2 1296.4 H291.4 M478.6 1296.4 H636.6" fill="none" stroke="#000" stroke-width="2"/>
<text x="391.4" y="1262.9" text-anchor="middle"><tspan font-style="italic">P</tspan><tspan font-size="17.0" dy="5.4">adj</tspan><tspan dy="-5.4"> = 7 x 10</tspan><tspan font-size="17.0" dy="-7.5">-107</tspan></text>
<path d="M222.5 1533.1V1544.6M395.5 1533.1V1544.6M568.5 1533.1V1544.6" stroke="#333" stroke-width="3.3" fill="none"/>
<!-- c8 -->
<g fill="#696969"><rect x="1155.1" y="1465.9" width="19.8" height="61"/></g>
<g fill="#E5C494"><rect x="828.2" y="1506.2" width="19.8" height="20.7"/><rect x="1001.4" y="1514.8" width="19.8" height="12.1"/><rect x="1174.6" y="1376.9" width="19.8" height="150"/></g>
<g fill="#FFD92F"><rect x="847.7" y="1514.8" width="19.8" height="12.1"/><rect x="1020.9" y="1513.1" width="19.8" height="13.8"/><rect x="1194.1" y="1431" width="19.8" height="95.9"/></g>
<g fill="#A6D854"><rect x="867.1" y="1479.7" width="19.8" height="47.2"/><rect x="1040.4" y="1494.8" width="19.8" height="32.1"/><rect x="1213.6" y="1370.7" width="19.8" height="156.2"/></g>
<g fill="#E78AC3"><rect x="1233.1" y="1450.3" width="19.8" height="76.6"/></g>
<g fill="#8DA0CB"><rect x="906.1" y="1493.4" width="19.8" height="33.5"/><rect x="1079.3" y="1500.3" width="19.8" height="26.6"/><rect x="1252.6" y="1372.4" width="19.8" height="154.5"/></g>
<g fill="#FC8D62"><rect x="925.6" y="1511.4" width="19.8" height="15.5"/><rect x="1098.8" y="1506.2" width="19.8" height="20.7"/><rect x="1272" y="1433.1" width="19.8" height="93.8"/></g>
<g fill="#8B0000"><rect x="945.1" y="1504.5" width="19.8" height="22.4"/><rect x="1118.3" y="1511.4" width="19.8" height="15.5"/><rect x="1291.5" y="1394.8" width="19.8" height="132.1"/></g>
<g fill="#000"><circle cx="814.7" cy="1526.2" r="6.8"/><circle cx="818.1" cy="1526.2" r="6.8"/><circle cx="833.6" cy="1507.2" r="6.8"/><circle cx="839.8" cy="1500.3" r="6.8"/><circle cx="852.6" cy="1504.5" r="6.8"/><circle cx="855.3" cy="1509" r="6.8"/><circle cx="859.5" cy="1513.1" r="6.8"/><circle cx="876.7" cy="1453.8" r="6.8"/><circle cx="875" cy="1491.7" r="6.8"/><circle cx="879.1" cy="1491.4" r="6.8"/><circle cx="892.2" cy="1526.2" r="6.8"/><circle cx="898.4" cy="1526.2" r="6.8"/><circle cx="919.1" cy="1481.4" r="6.8"/><circle cx="917.4" cy="1491.7" r="6.8"/><circle cx="918.8" cy="1506.2" r="6.8"/><circle cx="931.9" cy="1507.2" r="6.8"/><circle cx="935.3" cy="1509.7" r="6.8"/><circle cx="938.8" cy="1512.1" r="6.8"/><circle cx="951.6" cy="1499.3" r="6.8"/><circle cx="958.8" cy="1499.3" r="6.8"/><circle cx="958.4" cy="1506.2" r="6.8"/><circle cx="987.1" cy="1526.2" r="6.8"/><circle cx="994.7" cy="1526.2" r="6.8"/><circle cx="1008.8" cy="1506.2" r="6.8"/><circle cx="1009.5" cy="1511.4" r="6.8"/><circle cx="1012.9" cy="1514.8" r="6.8"/><circle cx="1027.4" cy="1509" r="6.8"/><circle cx="1030.9" cy="1506.2" r="6.8"/><circle cx="1034.3" cy="1504.5" r="6.8"/><circle cx="1046.7" cy="1484.5" r="6.8"/><circle cx="1052.6" cy="1494.1" r="6.8"/><circle cx="1052.6" cy="1504.5" r="6.8"/><circle cx="1067.4" cy="1526.2" r="6.8"/><circle cx="1070.9" cy="1526.2" r="6.8"/><circle cx="1091.6" cy="1476.9" r="6.8"/><circle cx="1091.2" cy="1501" r="6.8"/><circle cx="1087.1" cy="1511.4" r="6.8"/><circle cx="1108.8" cy="1499.3" r="6.8"/><circle cx="1109.5" cy="1506.2" r="6.8"/><circle cx="1111.2" cy="1512.1" r="6.8"/><circle cx="1130.2" cy="1507.9" r="6.8"/><circle cx="1131.9" cy="1511.4" r="6.8"/><circle cx="1127.8" cy="1513.1" r="6.8"/><circle cx="1167.1" cy="1456.2" r="6.8"/><circle cx="1166.4" cy="1465.9" r="6.8"/><circle cx="1164" cy="1472.8" r="6.8"/><circle cx="1184.3" cy="1363.8" r="6.8"/><circle cx="1188.8" cy="1371" r="6.8"/><circle cx="1181.9" cy="1384.5" r="6.8"/><circle cx="1207.1" cy="1411.4" r="6.8"/><circle cx="1207.1" cy="1423.4" r="6.8"/><circle cx="1206" cy="1436.6" r="6.8"/><circle cx="1200.9" cy="1450.3" r="6.8"/><circle cx="1220.9" cy="1354.5" r="6.8"/><circle cx="1219.1" cy="1366.6" r="6.8"/><circle cx="1223.3" cy="1375.2" r="6.8"/><circle cx="1223.3" cy="1383.8" r="6.8"/><circle cx="1242.9" cy="1431" r="6.8"/><circle cx="1247.4" cy="1443.4" r="6.8"/><circle cx="1240.5" cy="1454.5" r="6.8"/><circle cx="1243.3" cy="1470" r="6.8"/><circle cx="1266.4" cy="1353.8" r="6.8"/><circle cx="1260.2" cy="1356.9" r="6.8"/><circle cx="1262.9" cy="1381.4" r="6.8"/><circle cx="1264" cy="1394.1" r="6.8"/><circle cx="1285.3" cy="1419" r="6.8"/><circle cx="1278.4" cy="1422.4" r="6.8"/><circle cx="1285.3" cy="1430.3" r="6.8"/><circle cx="1281.9" cy="1459" r="6.8"/><circle cx="1306" cy="1363.8" r="6.8"/><circle cx="1301.6" cy="1395.9" r="6.8"/><circle cx="1302.6" cy="1402.8" r="6.8"/><circle cx="1306" cy="1414.1" r="6.8"/></g>
<rect x="782.7" y="1180.8" width="554.3" height="353.6" fill="none" stroke="#000" stroke-width="2"/>
<path d="M772.2 1527H782.7M772.2 1442.8H782.7M772.2 1358.4H782.7M772.2 1274.2H782.7M772.2 1189.8H782.7" stroke="#333" stroke-width="3.3" fill="none"/>
<g text-anchor="end"><text x="761.2" y="1536.5">0</text><text x="761.2" y="1452.3">30</text><text x="761.2" y="1367.9">60</text><text x="761.2" y="1283.7">90</text><text x="761.2" y="1199.3">120</text></g>
<path d="M889.2 1274.4 V1255.7 Q889.2 1253.2 891.7 1253.2 H1233.2 Q1235.7 1253.2 1235.7 1255.7 V1274.4 M812.6 1274.4 H960.8 M1148 1274.4 H1306" fill="none" stroke="#000" stroke-width="2"/>
<text x="1061.5" y="1240.5" text-anchor="middle"><tspan font-style="italic">P</tspan><tspan font-size="17.0" dy="5.4">adj</tspan><tspan dy="-5.4"> = 7 x 10</tspan><tspan font-size="17.0" dy="-7.5">-118</tspan></text>
<path d="M886.6 1534.4V1545.9M1059.8 1534.4V1545.9M1233.1 1534.4V1545.9" stroke="#333" stroke-width="3.3" fill="none"/>
<!-- c9 -->
<g fill="#696969"><rect x="1821.7" y="1507.9" width="19.8" height="16.2"/></g>
<g fill="#E5C494"><rect x="1495.1" y="1501" width="19.8" height="23.1"/><rect x="1668.1" y="1520" width="19.8" height="4.1"/><rect x="1841.1" y="1364.8" width="19.8" height="159.3"/></g>
<g fill="#FFD92F"><rect x="1514.6" y="1474.1" width="19.8" height="50"/><rect x="1687.6" y="1470" width="19.8" height="54.1"/><rect x="1860.6" y="1427.6" width="19.8" height="96.5"/></g>
<g fill="#A6D854"><rect x="1534" y="1496.9" width="19.8" height="27.2"/><rect x="1707" y="1506.9" width="19.8" height="17.2"/><rect x="1880" y="1392.4" width="19.8" height="131.7"/></g>
<g fill="#E78AC3"><rect x="1899.5" y="1501" width="19.8" height="23.1"/></g>
<g fill="#8DA0CB"><rect x="1573" y="1507.9" width="19.8" height="16.2"/><rect x="1746" y="1520" width="19.8" height="4.1"/><rect x="1919" y="1371.7" width="19.8" height="152.4"/></g>
<g fill="#FC8D62"><rect x="1592.4" y="1487.9" width="19.8" height="36.2"/><rect x="1765.4" y="1477.6" width="19.8" height="46.5"/><rect x="1938.4" y="1449.3" width="19.8" height="74.8"/></g>
<g fill="#8B0000"><rect x="1611.9" y="1499.3" width="19.8" height="24.8"/><rect x="1784.9" y="1517.2" width="19.8" height="6.9"/><rect x="1957.9" y="1410.7" width="19.8" height="113.4"/></g>
<g fill="#000"><circle cx="1485.9" cy="1522.4" r="6.8"/><circle cx="1487.6" cy="1523.4" r="6.8"/><circle cx="1508.3" cy="1480.3" r="6.8"/><circle cx="1505.5" cy="1509" r="6.8"/><circle cx="1503.8" cy="1513.1" r="6.8"/><circle cx="1522.1" cy="1456.9" r="6.8"/><circle cx="1521.7" cy="1479.7" r="6.8"/><circle cx="1520" cy="1484.5" r="6.8"/><circle cx="1541" cy="1462.1" r="6.8"/><circle cx="1541.7" cy="1514.1" r="6.8"/><circle cx="1546.9" cy="1514.8" r="6.8"/><circle cx="1559" cy="1523.4" r="6.8"/><circle cx="1564.8" cy="1522.4" r="6.8"/><circle cx="1581.4" cy="1495.9" r="6.8"/><circle cx="1585.5" cy="1507.9" r="6.8"/><circle cx="1584.1" cy="1518.3" r="6.8"/><circle cx="1601.4" cy="1478.6" r="6.8"/><circle cx="1600.3" cy="1487.9" r="6.8"/><circle cx="1599.7" cy="1495.9" r="6.8"/><circle cx="1623.4" cy="1477.9" r="6.8"/><circle cx="1616.9" cy="1500.3" r="6.8"/><circle cx="1622.8" cy="1518.3" r="6.8"/><circle cx="1660.7" cy="1522.8" r="6.8"/><circle cx="1661.7" cy="1524.1" r="6.8"/><circle cx="1678.6" cy="1510.7" r="6.8"/><circle cx="1673.8" cy="1517.2" r="6.8"/><circle cx="1679.7" cy="1518.3" r="6.8"/><circle cx="1697.9" cy="1445.9" r="6.8"/><circle cx="1697.9" cy="1469.3" r="6.8"/><circle cx="1698.6" cy="1477.9" r="6.8"/><circle cx="1699.7" cy="1487.2" r="6.8"/><circle cx="1719.3" cy="1484.8" r="6.8"/><circle cx="1721" cy="1510.7" r="6.8"/><circle cx="1714.8" cy="1516.6" r="6.8"/><circle cx="1734.8" cy="1523.4" r="6.8"/><circle cx="1740" cy="1521" r="6.8"/><circle cx="1759.7" cy="1509" r="6.8"/><circle cx="1752.1" cy="1517.2" r="6.8"/><circle cx="1757.2" cy="1517.6" r="6.8"/><circle cx="1778.6" cy="1456.9" r="6.8"/><circle cx="1772.8" cy="1479.7" r="6.8"/><circle cx="1771" cy="1489.7" r="6.8"/><circle cx="1792.4" cy="1514.8" r="6.8"/><circle cx="1791" cy="1518.3" r="6.8"/><circle cx="1795.2" cy="1517.6" r="6.8"/><circle cx="1827.9" cy="1502.8" r="6.8"/><circle cx="1831.4" cy="1506.2" r="6.8"/><circle cx="1833.1" cy="1509" r="6.8"/><circle cx="1850.3" cy="1351.7" r="6.8"/><circle cx="1850.3" cy="1358.6" r="6.8"/><circle cx="1852.1" cy="1369.3" r="6.8"/><circle cx="1849.7" cy="1379.3" r="6.8"/><circle cx="1867.6" cy="1413.8" r="6.8"/><circle cx="1872.8" cy="1424.5" r="6.8"/><circle cx="1869.3" cy="1441.7" r="6.8"/><circle cx="1887.6" cy="1386.2" r="6.8"/><circle cx="1892.4" cy="1390.7" r="6.8"/><circle cx="1890" cy="1394.1" r="6.8"/><circle cx="1894.5" cy="1398.3" r="6.8"/><circle cx="1904.8" cy="1492.4" r="6.8"/><circle cx="1911.4" cy="1492.4" r="6.8"/><circle cx="1905.5" cy="1509" r="6.8"/><circle cx="1913.1" cy="1507.9" r="6.8"/><circle cx="1933.8" cy="1369" r="6.8"/><circle cx="1927.9" cy="1371.7" r="6.8"/><circle cx="1925.2" cy="1374.5" r="6.8"/><circle cx="1946.9" cy="1434.5" r="6.8"/><circle cx="1952.8" cy="1439.7" r="6.8"/><circle cx="1946.2" cy="1447.6" r="6.8"/><circle cx="1951" cy="1449.3" r="6.8"/><circle cx="1970" cy="1400.3" r="6.8"/><circle cx="1966.6" cy="1406.2" r="6.8"/><circle cx="1964.1" cy="1410.3" r="6.8"/><circle cx="1967.6" cy="1422.8" r="6.8"/></g>
<rect x="1449.7" y="1179.5" width="553.6" height="353.6" fill="none" stroke="#000" stroke-width="2"/>
<path d="M1439.2 1524.1H1449.7M1439.2 1439.5H1449.7M1439.2 1354.9H1449.7M1439.2 1270.4H1449.7M1439.2 1185.8H1449.7" stroke="#333" stroke-width="3.3" fill="none"/>
<g text-anchor="end"><text x="1428.2" y="1533.6">0</text><text x="1428.2" y="1449">30</text><text x="1428.2" y="1364.4">60</text><text x="1428.2" y="1279.9">90</text><text x="1428.2" y="1195.3">120</text></g>
<path d="M1556.6 1286.4 V1268.2 Q1556.6 1265.7 1559.1 1265.7 H1900 Q1902.5 1265.7 1902.5 1268.2 V1286.4 M1480 1286.4 H1628 M1815.4 1286.4 H1973.1" fill="none" stroke="#000" stroke-width="2"/>
<text x="1728.5" y="1253.9" text-anchor="middle"><tspan font-style="italic">P</tspan><tspan font-size="17.0" dy="5.4">adj</tspan><tspan dy="-5.4"> = 3 x 10</tspan><tspan font-size="17.0" dy="-7.5">-26</tspan></text>
<path d="M1553.5 1533.1V1544.6M1726.5 1533.1V1544.6M1899.5 1533.1V1544.6" stroke="#333" stroke-width="3.3" fill="none"/>
<g text-anchor="middle"><text x="395.5" y="397.5">WTC11</text><text x="1060" y="398.5">1E44</text><text x="1726.5" y="397.5">162D</text></g>
<text x="173.2" y="1577">Vehicle</text><text x="280.1" y="1577">IL-6/IL-6R chimera</text><text x="529.6" y="1577">IFN-β</text><text x="217" y="1625.3">Additional cytokine treatment</text>
<text x="840.8" y="1577">Vehicle</text><text x="947" y="1577">IL-6/IL-6R chimera</text><text x="1198.1" y="1577">IFN-β</text><text x="884.6" y="1625.3">Additional cytokine treatment</text>
<text x="1510.8" y="1577">Vehicle</text><text x="1616.1" y="1577">IL-6/IL-6R chimera</text><text x="1866.6" y="1577">IFN-β</text><text x="1554" y="1625.3">Additional cytokine treatment</text>
<text transform="translate(32.5,587.3) rotate(-90)" text-anchor="middle">Percent IFIT3–/<tspan fill="#C8A028" stroke="#C8A028">C3</tspan>+</text>
<text transform="translate(32.5,974) rotate(-90)" text-anchor="middle">Percent <tspan fill="#5AB033" stroke="#5AB033">IFIT3</tspan>+/C3–</text>
<text transform="translate(32.5,1356.5) rotate(-90)" text-anchor="middle">Percent <tspan fill="#5AB033" stroke="#5AB033">IFIT3</tspan>+/C3+</text>
<!-- d1 -->
<g fill="#696969"><rect x="150" y="2124.3" width="26.9" height="11"/></g>
<g fill="#E5C494"><rect x="176.6" y="1949.1" width="26.9" height="186.2"/></g>
<g fill="#FFD92F"><rect x="203.2" y="2023.6" width="26.9" height="111.7"/></g>
<g fill="#A6D854"><rect x="229.7" y="1940.4" width="26.9" height="194.9"/></g>
<g fill="#E78AC3"><rect x="256.3" y="2114.6" width="26.9" height="20.7"/></g>
<g fill="#8DA0CB"><rect x="282.9" y="1951" width="26.9" height="184.3"/></g>
<g fill="#FC8D62"><rect x="309.4" y="2010" width="26.9" height="125.3"/></g>
<g fill="#8B0000"><rect x="336" y="1903" width="26.9" height="232.3"/></g>
<g fill="#000"><circle cx="164.9" cy="2113.6" r="6.8"/><circle cx="161.9" cy="2129.1" r="6.8"/><circle cx="159" cy="2133.9" r="6.8"/><circle cx="186.1" cy="1924.9" r="6.8"/><circle cx="194.9" cy="1954.9" r="6.8"/><circle cx="191" cy="1957.8" r="6.8"/><circle cx="216.7" cy="2010.6" r="6.8"/><circle cx="216.2" cy="2022.6" r="6.8"/><circle cx="210.9" cy="2026.5" r="6.8"/><circle cx="215.2" cy="2031.3" r="6.8"/><circle cx="240" cy="1926.8" r="6.8"/><circle cx="240.7" cy="1942.9" r="6.8"/><circle cx="238" cy="1964.2" r="6.8"/><circle cx="266.9" cy="2103.6" r="6.8"/><circle cx="272.9" cy="2113.6" r="6.8"/><circle cx="270.4" cy="2120" r="6.8"/><circle cx="293" cy="1941.7" r="6.8"/><circle cx="295.5" cy="1948.1" r="6.8"/><circle cx="291.7" cy="1952" r="6.8"/><circle cx="300.4" cy="1961.7" r="6.8"/><circle cx="320.1" cy="2003.3" r="6.8"/><circle cx="317.8" cy="2010.6" r="6.8"/><circle cx="322.6" cy="2014.5" r="6.8"/><circle cx="354" cy="1885.6" r="6.8"/><circle cx="350.7" cy="1898.3" r="6.8"/><circle cx="343.9" cy="1903.6" r="6.8"/><circle cx="352.2" cy="1921" r="6.8"/></g>
<rect x="114.6" y="1696.4" width="283.4" height="63.9" fill="#D9D9D9" stroke="#000" stroke-width="2"/>
<rect x="114.6" y="1760.3" width="283.4" height="386.7" fill="none" stroke="#000" stroke-width="2"/>
<path d="M113.6 1760.3H399" stroke="#000" stroke-width="3.6"/>
<text x="256.3" y="1736.2" text-anchor="middle" fill="#1a1a1a" stroke="#1a1a1a">IFN–<tspan font-family="'Liberation Serif',serif">β</tspan></text>
<path d="M104.1 2135.3H114.6M104.1 2022.6H114.6M104.1 1910.9H114.6M104.1 1798.5H114.6" stroke="#333" stroke-width="3.3" fill="none"/>
<g text-anchor="end"><text x="94.9" y="2144.8">0</text><text x="94.9" y="2032.1">100</text><text x="94.9" y="1920.4">200</text><text x="94.9" y="1808">300</text></g>
<path d="M160.4 1842.4 V1832.9 Q160.4 1830.4 162.9 1830.4 H349.1 Q351.6 1830.4 351.6 1832.9 V1842.4" fill="none" stroke="#000" stroke-width="2"/>
<text x="256" y="1814.1" text-anchor="middle"><tspan font-style="italic">P</tspan><tspan font-size="17.0" dy="5.4">adj</tspan><tspan dy="-5.4"> = 1 x 10</tspan><tspan font-size="17.0" dy="-7.5">-18</tspan></text>
<!-- d2 -->
<g fill="#E5C494"><rect x="605.5" y="2104.5" width="26.8" height="30.8"/></g>
<g fill="#FFD92F"><rect x="632" y="2134.5" width="26.8" height="0.8"/></g>
<g fill="#A6D854"><rect x="658.6" y="2024.2" width="26.8" height="111.1"/></g>
<g fill="#8DA0CB"><rect x="711.6" y="2104.5" width="26.8" height="30.8"/></g>
<g fill="#FC8D62"><rect x="738.2" y="2133.9" width="26.8" height="1.4"/></g>
<g fill="#8B0000"><rect x="764.7" y="2095.8" width="26.8" height="39.5"/></g>
<g fill="#000"><circle cx="588.1" cy="2135.3" r="6.8"/><circle cx="591" cy="2135.3" r="6.8"/><circle cx="594.9" cy="2135.3" r="6.8"/><circle cx="614.6" cy="2096.2" r="6.8"/><circle cx="620" cy="2098.5" r="6.8"/><circle cx="620" cy="2107.8" r="6.8"/><circle cx="623.5" cy="2114.2" r="6.8"/><circle cx="640" cy="2133.9" r="6.8"/><circle cx="643.2" cy="2133.9" r="6.8"/><circle cx="646.2" cy="2133.9" r="6.8"/><circle cx="669.4" cy="1885.6" r="6.8"/><circle cx="667.4" cy="2042" r="6.8"/><circle cx="669.8" cy="2052.6" r="6.8"/><circle cx="667.4" cy="2114" r="6.8"/><circle cx="695.5" cy="2135.3" r="6.8"/><circle cx="699" cy="2135.3" r="6.8"/><circle cx="702.3" cy="2135.3" r="6.8"/><circle cx="729.4" cy="2087.5" r="6.8"/><circle cx="722" cy="2109.7" r="6.8"/><circle cx="723.6" cy="2112.6" r="6.8"/><circle cx="724.6" cy="2115.6" r="6.8"/><circle cx="746.8" cy="2134.3" r="6.8"/><circle cx="749.7" cy="2133.9" r="6.8"/><circle cx="752" cy="2134.3" r="6.8"/><circle cx="779.3" cy="2076.4" r="6.8"/><circle cx="783" cy="2090.4" r="6.8"/><circle cx="773.3" cy="2099.7" r="6.8"/><circle cx="781.7" cy="2112.6" r="6.8"/></g>
<rect x="543.6" y="1696.4" width="283" height="63.9" fill="#D9D9D9" stroke="#000" stroke-width="2"/>
<rect x="543.6" y="1760.3" width="283" height="386.7" fill="none" stroke="#000" stroke-width="2"/>
<path d="M542.6 1760.3H827.6" stroke="#000" stroke-width="3.6"/>
<text x="685.1" y="1738.6" text-anchor="middle" fill="#1a1a1a" stroke="#1a1a1a">IL<tspan dx="4.2">–</tspan><tspan dx="4.2">6</tspan></text>
<path d="M533.1 2135.3H543.6M533.1 2064.4H543.6M533.1 1993.4H543.6M533.1 1922.5H543.6M533.1 1851.6H543.6M533.1 1780.6H543.6" stroke="#333" stroke-width="3.3" fill="none"/>
<g text-anchor="end"><text x="523.9" y="2144.8">0</text><text x="523.9" y="2073.9">500000</text><text x="523.9" y="2002.9">1000000</text><text x="523.9" y="1932">1500000</text><text x="523.9" y="1861.1">2000000</text><text x="523.9" y="1790.1">2500000</text></g>
<path d="M589 1842.4 V1832.9 Q589 1830.4 591.5 1830.4 H777.8 Q780.3 1830.4 780.3 1832.9 V1842.4" fill="none" stroke="#000" stroke-width="2"/>
<text x="684.6" y="1814.1" text-anchor="middle"><tspan font-style="italic">P</tspan><tspan font-size="17.0" dy="5.4">adj</tspan><tspan dy="-5.4"> = 0.12</tspan></text>
<!-- d3 -->
<g fill="#E5C494"><rect x="1004.8" y="1907.4" width="26.9" height="227.9"/></g>
<g fill="#FFD92F"><rect x="1031.3" y="1893.9" width="26.9" height="241.4"/></g>
<g fill="#A6D854"><rect x="1057.9" y="1944.2" width="26.9" height="191.1"/></g>
<g fill="#8DA0CB"><rect x="1111" y="1907.1" width="26.9" height="228.2"/></g>
<g fill="#FC8D62"><rect x="1137.5" y="1901.3" width="26.9" height="234"/></g>
<g fill="#8B0000"><rect x="1164.1" y="1934.2" width="26.9" height="201.1"/></g>
<g fill="#000"><circle cx="986.9" cy="2135.3" r="6.8"/><circle cx="990.8" cy="2135.3" r="6.8"/><circle cx="993.7" cy="2135.3" r="6.8"/><circle cx="1014.1" cy="1903.6" r="6.8"/><circle cx="1022.4" cy="1901.6" r="6.8"/><circle cx="1018.9" cy="1916.2" r="6.8"/><circle cx="1045" cy="1885.6" r="6.8"/><circle cx="1039.2" cy="1894.9" r="6.8"/><circle cx="1044.1" cy="1900.3" r="6.8"/><circle cx="1068.6" cy="1919.6" r="6.8"/><circle cx="1067.3" cy="1939.4" r="6.8"/><circle cx="1069.2" cy="1946.2" r="6.8"/><circle cx="1066.3" cy="1971.9" r="6.8"/><circle cx="1094.4" cy="2135.3" r="6.8"/><circle cx="1098.3" cy="2135.3" r="6.8"/><circle cx="1101.6" cy="2135.3" r="6.8"/><circle cx="1120.5" cy="1904.5" r="6.8"/><circle cx="1124.4" cy="1906.1" r="6.8"/><circle cx="1128.3" cy="1913.3" r="6.8"/><circle cx="1148.6" cy="1895.8" r="6.8"/><circle cx="1150.5" cy="1901.6" r="6.8"/><circle cx="1145.7" cy="1905.5" r="6.8"/><circle cx="1181.9" cy="1903.6" r="6.8"/><circle cx="1172.8" cy="1922.9" r="6.8"/><circle cx="1178.2" cy="1936.5" r="6.8"/><circle cx="1181.1" cy="1972.7" r="6.8"/></g>
<rect x="942.8" y="1696.4" width="283.2" height="63.9" fill="#D9D9D9" stroke="#000" stroke-width="2"/>
<rect x="942.8" y="1760.3" width="283.2" height="386.7" fill="none" stroke="#000" stroke-width="2"/>
<path d="M941.8 1760.3H1227" stroke="#000" stroke-width="3.6"/>
<text x="1084.4" y="1738.6" text-anchor="middle" fill="#1a1a1a" stroke="#1a1a1a">CXCL10</text>
<path d="M932.3 2135.3H942.8M932.3 2035.3H942.8M932.3 1935.2H942.8M932.3 1835.2H942.8" stroke="#333" stroke-width="3.3" fill="none"/>
<g text-anchor="end"><text x="923.1" y="2144.8">0</text><text x="923.1" y="2044.8">25000</text><text x="923.1" y="1944.7">50000</text><text x="923.1" y="1844.7">75000</text></g>
<path d="M989.8 1844.3 V1833.3 Q989.8 1830.8 992.3 1830.8 H1179 Q1181.5 1830.8 1181.5 1833.3 V1844.3" fill="none" stroke="#000" stroke-width="2"/>
<text x="1085.7" y="1815.5" text-anchor="middle"><tspan font-style="italic">P</tspan><tspan font-size="17.0" dy="5.4">adj</tspan><tspan dy="-5.4"> = 2 x 10</tspan><tspan font-size="17.0" dy="-7.5">-16</tspan></text>
<!-- d4 -->
<g fill="#E5C494"><rect x="1404" y="1942.9" width="26.9" height="192.4"/></g>
<g fill="#FFD92F"><rect x="1430.6" y="2102.4" width="26.9" height="32.9"/></g>
<g fill="#A6D854"><rect x="1457.2" y="1905.5" width="26.9" height="229.8"/></g>
<g fill="#8DA0CB"><rect x="1510.3" y="1942.3" width="26.9" height="193"/></g>
<g fill="#FC8D62"><rect x="1536.9" y="2103" width="26.9" height="32.3"/></g>
<g fill="#8B0000"><rect x="1563.5" y="1906.5" width="26.9" height="228.8"/></g>
<g fill="#000"><circle cx="1386" cy="2135.3" r="6.8"/><circle cx="1389.9" cy="2135.3" r="6.8"/><circle cx="1393.1" cy="2135.3" r="6.8"/><circle cx="1413.1" cy="1940.7" r="6.8"/><circle cx="1419.3" cy="1937.5" r="6.8"/><circle cx="1421.8" cy="1940.4" r="6.8"/><circle cx="1417.9" cy="1952" r="6.8"/><circle cx="1438.2" cy="2098.5" r="6.8"/><circle cx="1444.1" cy="2099.1" r="6.8"/><circle cx="1441.2" cy="2103.4" r="6.8"/><circle cx="1443.1" cy="2108.8" r="6.8"/><circle cx="1467.3" cy="1890" r="6.8"/><circle cx="1465.7" cy="1914.2" r="6.8"/><circle cx="1468.3" cy="1926.8" r="6.8"/><circle cx="1493.4" cy="2135.3" r="6.8"/><circle cx="1497.3" cy="2135.3" r="6.8"/><circle cx="1501.2" cy="2135.3" r="6.8"/><circle cx="1520.5" cy="1936.1" r="6.8"/><circle cx="1518.6" cy="1942.3" r="6.8"/><circle cx="1523.4" cy="1945.2" r="6.8"/><circle cx="1527.3" cy="1952" r="6.8"/><circle cx="1549.2" cy="2098.5" r="6.8"/><circle cx="1546.3" cy="2101" r="6.8"/><circle cx="1547" cy="2104.5" r="6.8"/><circle cx="1547.6" cy="2108.8" r="6.8"/><circle cx="1581.1" cy="1885.6" r="6.8"/><circle cx="1577.6" cy="1900.1" r="6.8"/><circle cx="1578.6" cy="1915.2" r="6.8"/><circle cx="1571.2" cy="1923.5" r="6.8"/></g>
<rect x="1342" y="1696.4" width="283.5" height="63.9" fill="#D9D9D9" stroke="#000" stroke-width="2"/>
<rect x="1342" y="1760.3" width="283.5" height="386.7" fill="none" stroke="#000" stroke-width="2"/>
<path d="M1341 1760.3H1626.5" stroke="#000" stroke-width="3.6"/>
<text x="1483.8" y="1738.6" text-anchor="middle" fill="#1a1a1a" stroke="#1a1a1a">GM<tspan dx="4.8">–</tspan><tspan dx="4.8">CSF</tspan></text>
<path d="M1331.5 2135.3H1342M1331.5 2062H1342M1331.5 1988.7H1342M1331.5 1915.4H1342M1331.5 1842H1342M1331.5 1768.7H1342" stroke="#333" stroke-width="3.3" fill="none"/>
<g text-anchor="end"><text x="1322.3" y="2144.8">0</text><text x="1322.3" y="2071.5">10000</text><text x="1322.3" y="1998.2">20000</text><text x="1322.3" y="1924.9">30000</text><text x="1322.3" y="1851.5">40000</text><text x="1322.3" y="1778.2">50000</text></g>
<path d="M1386.6 1842.4 V1832.9 Q1386.6 1830.4 1389.1 1830.4 H1574.7 Q1577.2 1830.4 1577.2 1832.9 V1842.4" fill="none" stroke="#000" stroke-width="2"/>
<text x="1481.9" y="1814.1" text-anchor="middle"><tspan font-style="italic">P</tspan><tspan font-size="17.0" dy="5.4">adj</tspan><tspan dy="-5.4"> = 9 x 10</tspan><tspan font-size="17.0" dy="-7.5">-21</tspan></text>
<!-- d5 -->
<g fill="#696969"><rect x="150" y="2666.5" width="26.9" height="19.4"/></g>
<g fill="#E5C494"><rect x="176.6" y="2494.8" width="26.9" height="191.1"/></g>
<g fill="#FFD92F"><rect x="203.2" y="2608.4" width="26.9" height="77.5"/></g>
<g fill="#A6D854"><rect x="229.7" y="2520" width="26.9" height="165.9"/></g>
<g fill="#E78AC3"><rect x="256.3" y="2666.5" width="26.9" height="19.4"/></g>
<g fill="#8DA0CB"><rect x="282.9" y="2469.1" width="26.9" height="216.8"/></g>
<g fill="#FC8D62"><rect x="309.4" y="2577.5" width="26.9" height="108.4"/></g>
<g fill="#8B0000"><rect x="336" y="2465.2" width="26.9" height="220.7"/></g>
<g fill="#000"><circle cx="167.8" cy="2654.5" r="6.8"/><circle cx="158.1" cy="2659.7" r="6.8"/><circle cx="158.7" cy="2669" r="6.8"/><circle cx="162.3" cy="2681" r="6.8"/><circle cx="190" cy="2458" r="6.8"/><circle cx="184.6" cy="2472.9" r="6.8"/><circle cx="187.7" cy="2507.2" r="6.8"/><circle cx="187.7" cy="2538.8" r="6.8"/><circle cx="219.1" cy="2596.2" r="6.8"/><circle cx="212.9" cy="2603.2" r="6.8"/><circle cx="216.7" cy="2608.4" r="6.8"/><circle cx="219.4" cy="2626.4" r="6.8"/><circle cx="239.8" cy="2498.1" r="6.8"/><circle cx="239.8" cy="2509.7" r="6.8"/><circle cx="237.4" cy="2532.9" r="6.8"/><circle cx="243.6" cy="2537.2" r="6.8"/><circle cx="265.1" cy="2650.1" r="6.8"/><circle cx="273.6" cy="2659.7" r="6.8"/><circle cx="268.4" cy="2670" r="6.8"/><circle cx="273.3" cy="2686.3" r="6.8"/><circle cx="293.2" cy="2436.2" r="6.8"/><circle cx="295.9" cy="2458.8" r="6.8"/><circle cx="291.7" cy="2484.2" r="6.8"/><circle cx="294.2" cy="2496.2" r="6.8"/><circle cx="318.4" cy="2562.4" r="6.8"/><circle cx="324.2" cy="2570.1" r="6.8"/><circle cx="325.1" cy="2584.6" r="6.8"/><circle cx="324.2" cy="2590.4" r="6.8"/><circle cx="351.3" cy="2451.1" r="6.8"/><circle cx="355.1" cy="2454.9" r="6.8"/><circle cx="349.7" cy="2471.6" r="6.8"/><circle cx="351.1" cy="2484.2" r="6.8"/></g>
<rect x="114.6" y="2247.2" width="283.4" height="63.6" fill="#D9D9D9" stroke="#000" stroke-width="2"/>
<rect x="114.6" y="2310.8" width="283.4" height="386.4" fill="none" stroke="#000" stroke-width="2"/>
<path d="M113.6 2310.8H399" stroke="#000" stroke-width="3.6"/>
<text x="256.3" y="2287" text-anchor="middle" fill="#1a1a1a" stroke="#1a1a1a">IFN–<tspan font-family="'Liberation Serif',serif">β</tspan></text>
<path d="M104.1 2685.9H114.6M104.1 2588.8H114.6M104.1 2491.7H114.6M104.1 2394.6H114.6" stroke="#333" stroke-width="3.3" fill="none"/>
<g text-anchor="end"><text x="94.9" y="2695.4">0</text><text x="94.9" y="2598.3">50</text><text x="94.9" y="2501.2">100</text><text x="94.9" y="2404.1">150</text></g>
<path d="M160.4 2398.2 V2388.5 Q160.4 2386 162.9 2386 H349.5 Q352 2386 352 2388.5 V2398.2" fill="none" stroke="#000" stroke-width="2"/>
<text x="256.2" y="2370.9" text-anchor="middle"><tspan font-style="italic">P</tspan><tspan font-size="17.0" dy="5.4">adj</tspan><tspan dy="-5.4"> = 2 x 10</tspan><tspan font-size="17.0" dy="-7.5">-12</tspan></text>
<!-- d6 -->
<g fill="#E5C494"><rect x="605.5" y="2595.5" width="26.8" height="90.4"/></g>
<g fill="#FFD92F"><rect x="632" y="2681" width="26.8" height="4.9"/></g>
<g fill="#A6D854"><rect x="658.6" y="2557.7" width="26.8" height="128.2"/></g>
<g fill="#8DA0CB"><rect x="711.6" y="2572.1" width="26.8" height="113.8"/></g>
<g fill="#FC8D62"><rect x="738.2" y="2680.1" width="26.8" height="5.8"/></g>
<g fill="#8B0000"><rect x="764.7" y="2549.8" width="26.8" height="136.1"/></g>
<g fill="#000"><circle cx="586.7" cy="2685.9" r="6.8"/><circle cx="591.6" cy="2686.3" r="6.8"/><circle cx="596.8" cy="2686.3" r="6.8"/><circle cx="613.6" cy="2562" r="6.8"/><circle cx="618.7" cy="2591" r="6.8"/><circle cx="616.5" cy="2610.4" r="6.8"/><circle cx="616.1" cy="2616.2" r="6.8"/><circle cx="641.3" cy="2680.5" r="6.8"/><circle cx="645.6" cy="2680.1" r="6.8"/><circle cx="648.1" cy="2681" r="6.8"/><circle cx="668.4" cy="2436.7" r="6.8"/><circle cx="668.4" cy="2572.2" r="6.8"/><circle cx="672.3" cy="2609" r="6.8"/><circle cx="667.1" cy="2612.3" r="6.8"/><circle cx="694.2" cy="2685.9" r="6.8"/><circle cx="698.4" cy="2686.3" r="6.8"/><circle cx="703.3" cy="2685.9" r="6.8"/><circle cx="724.6" cy="2550.9" r="6.8"/><circle cx="722" cy="2564.5" r="6.8"/><circle cx="723" cy="2580.4" r="6.8"/><circle cx="720.7" cy="2590.6" r="6.8"/><circle cx="747.4" cy="2678.7" r="6.8"/><circle cx="755.5" cy="2679.5" r="6.8"/><circle cx="752.2" cy="2682" r="6.8"/><circle cx="780.3" cy="2484.2" r="6.8"/><circle cx="784" cy="2496.6" r="6.8"/><circle cx="779.7" cy="2607.5" r="6.8"/><circle cx="778.4" cy="2608.8" r="6.8"/></g>
<rect x="543.6" y="2247.2" width="283" height="63.6" fill="#D9D9D9" stroke="#000" stroke-width="2"/>
<rect x="543.6" y="2310.8" width="283" height="386.4" fill="none" stroke="#000" stroke-width="2"/>
<path d="M542.6 2310.8H827.6" stroke="#000" stroke-width="3.6"/>
<text x="685.1" y="2289.4" text-anchor="middle" fill="#1a1a1a" stroke="#1a1a1a">IL<tspan dx="4.2">–</tspan><tspan dx="4.2">6</tspan></text>
<path d="M533.1 2685.9H543.6M533.1 2577.2H543.6M533.1 2468.5H543.6M533.1 2359.8H543.6" stroke="#333" stroke-width="3.3" fill="none"/>
<g text-anchor="end"><text x="523.9" y="2695.4">0e+00</text><text x="523.9" y="2586.7">2e+05</text><text x="523.9" y="2478">4e+05</text><text x="523.9" y="2369.3">6e+05</text></g>
<path d="M586.7 2400.1 V2389.4 Q586.7 2386.9 589.2 2386.9 H775.9 Q778.4 2386.9 778.4 2389.4 V2400.1" fill="none" stroke="#000" stroke-width="2"/>
<text x="682.5" y="2371.3" text-anchor="middle"><tspan font-style="italic">P</tspan><tspan font-size="17.0" dy="5.4">adj</tspan><tspan dy="-5.4"> = 2 x 10</tspan><tspan font-size="17.0" dy="-7.5">-4</tspan></text>
<!-- d7 -->
<g fill="#E5C494"><rect x="1004.8" y="2616.2" width="26.9" height="69.7"/></g>
<g fill="#FFD92F"><rect x="1031.3" y="2558.1" width="26.9" height="127.8"/></g>
<g fill="#A6D854"><rect x="1057.9" y="2632.6" width="26.9" height="53.3"/></g>
<g fill="#8DA0CB"><rect x="1111" y="2566.8" width="26.9" height="119.1"/></g>
<g fill="#FC8D62"><rect x="1137.5" y="2543.2" width="26.9" height="142.7"/></g>
<g fill="#8B0000"><rect x="1164.1" y="2608.8" width="26.9" height="77.1"/></g>
<g fill="#000"><circle cx="986.6" cy="2684.5" r="6.8"/><circle cx="991.4" cy="2685.9" r="6.8"/><circle cx="996.2" cy="2686.3" r="6.8"/><circle cx="1013.1" cy="2600.7" r="6.8"/><circle cx="1017.9" cy="2607.9" r="6.8"/><circle cx="1015.6" cy="2618.1" r="6.8"/><circle cx="1015.4" cy="2634.6" r="6.8"/><circle cx="1046.6" cy="2524.2" r="6.8"/><circle cx="1044.4" cy="2554.8" r="6.8"/><circle cx="1047.9" cy="2575.5" r="6.8"/><circle cx="1041.2" cy="2577.5" r="6.8"/><circle cx="1071.2" cy="2622.6" r="6.8"/><circle cx="1066.3" cy="2627.8" r="6.8"/><circle cx="1067.3" cy="2636.1" r="6.8"/><circle cx="1067.3" cy="2641.9" r="6.8"/><circle cx="1092.8" cy="2684.5" r="6.8"/><circle cx="1097.9" cy="2685.5" r="6.8"/><circle cx="1101.7" cy="2686.3" r="6.8"/><circle cx="1121.5" cy="2436.7" r="6.8"/><circle cx="1122.1" cy="2597.8" r="6.8"/><circle cx="1119.6" cy="2609.8" r="6.8"/><circle cx="1123.8" cy="2620.6" r="6.8"/><circle cx="1146.7" cy="2468.1" r="6.8"/><circle cx="1153" cy="2556.2" r="6.8"/><circle cx="1151.9" cy="2590.6" r="6.8"/><circle cx="1179.2" cy="2597.2" r="6.8"/><circle cx="1179.6" cy="2605.2" r="6.8"/><circle cx="1180.5" cy="2610.4" r="6.8"/><circle cx="1176.7" cy="2616.2" r="6.8"/></g>
<rect x="942.8" y="2247.2" width="283.2" height="63.6" fill="#D9D9D9" stroke="#000" stroke-width="2"/>
<rect x="942.8" y="2310.8" width="283.2" height="386.4" fill="none" stroke="#000" stroke-width="2"/>
<path d="M941.8 2310.8H1227" stroke="#000" stroke-width="3.6"/>
<text x="1084.4" y="2289.4" text-anchor="middle" fill="#1a1a1a" stroke="#1a1a1a">CXCL10</text>
<path d="M932.3 2685.9H942.8M932.3 2552.1H942.8M932.3 2418.3H942.8" stroke="#333" stroke-width="3.3" fill="none"/>
<g text-anchor="end"><text x="923.1" y="2695.4">0</text><text x="923.1" y="2561.6">20000</text><text x="923.1" y="2427.8">40000</text></g>
<path d="M989.8 2401.1 V2390 Q989.8 2387.5 992.3 2387.5 H1179 Q1181.5 2387.5 1181.5 2390 V2401.1" fill="none" stroke="#000" stroke-width="2"/>
<text x="1085.7" y="2372.2" text-anchor="middle"><tspan font-style="italic">P</tspan><tspan font-size="17.0" dy="5.4">adj</tspan><tspan dy="-5.4"> = 0.02</tspan></text>
<!-- d8 -->
<g fill="#E5C494"><rect x="1404" y="2568.4" width="26.9" height="117.5"/></g>
<g fill="#FFD92F"><rect x="1430.6" y="2668.5" width="26.9" height="17.4"/></g>
<g fill="#A6D854"><rect x="1457.2" y="2459.8" width="26.9" height="226.1"/></g>
<g fill="#8DA0CB"><rect x="1510.3" y="2583.3" width="26.9" height="102.6"/></g>
<g fill="#FC8D62"><rect x="1536.9" y="2669" width="26.9" height="16.9"/></g>
<g fill="#8B0000"><rect x="1563.5" y="2480.3" width="26.9" height="205.6"/></g>
<g fill="#000"><circle cx="1385.6" cy="2685.5" r="6.8"/><circle cx="1390.8" cy="2685.9" r="6.8"/><circle cx="1395.7" cy="2685.9" r="6.8"/><circle cx="1411.7" cy="2545.9" r="6.8"/><circle cx="1415.4" cy="2552.9" r="6.8"/><circle cx="1417.5" cy="2562.4" r="6.8"/><circle cx="1414.6" cy="2610.4" r="6.8"/><circle cx="1440.2" cy="2663.2" r="6.8"/><circle cx="1447" cy="2668.5" r="6.8"/><circle cx="1446" cy="2674.8" r="6.8"/><circle cx="1466.9" cy="2436.7" r="6.8"/><circle cx="1466.3" cy="2442.5" r="6.8"/><circle cx="1465.7" cy="2449.1" r="6.8"/><circle cx="1470.2" cy="2511.7" r="6.8"/><circle cx="1492.5" cy="2685.5" r="6.8"/><circle cx="1497.3" cy="2686.3" r="6.8"/><circle cx="1501.2" cy="2685.9" r="6.8"/><circle cx="1523" cy="2560" r="6.8"/><circle cx="1520.5" cy="2573.2" r="6.8"/><circle cx="1518.6" cy="2582.3" r="6.8"/><circle cx="1521.1" cy="2615.6" r="6.8"/><circle cx="1551.5" cy="2667.1" r="6.8"/><circle cx="1545.7" cy="2669.8" r="6.8"/><circle cx="1550.5" cy="2670.4" r="6.8"/><circle cx="1579.2" cy="2446.8" r="6.8"/><circle cx="1576.7" cy="2459.4" r="6.8"/><circle cx="1581.9" cy="2478.4" r="6.8"/><circle cx="1578" cy="2534.9" r="6.8"/></g>
<rect x="1342" y="2247.2" width="283.5" height="63.6" fill="#D9D9D9" stroke="#000" stroke-width="2"/>
<rect x="1342" y="2310.8" width="283.5" height="386.4" fill="none" stroke="#000" stroke-width="2"/>
<path d="M1341 2310.8H1626.5" stroke="#000" stroke-width="3.6"/>
<text x="1483.8" y="2289.4" text-anchor="middle" fill="#1a1a1a" stroke="#1a1a1a">GM<tspan dx="4.8">–</tspan><tspan dx="4.8">CSF</tspan></text>
<path d="M1331.5 2685.9H1342M1331.5 2568.3H1342M1331.5 2450.7H1342M1331.5 2333H1342" stroke="#333" stroke-width="3.3" fill="none"/>
<g text-anchor="end"><text x="1322.3" y="2695.4">0</text><text x="1322.3" y="2577.8">2000</text><text x="1322.3" y="2460.2">4000</text><text x="1322.3" y="2342.5">6000</text></g>
<path d="M1386.6 2398.2 V2388.1 Q1386.6 2385.6 1389.1 2385.6 H1574.7 Q1577.2 2385.6 1577.2 2388.1 V2398.2" fill="none" stroke="#000" stroke-width="2"/>
<text x="1481.9" y="2370.9" text-anchor="middle"><tspan font-style="italic">P</tspan><tspan font-size="17.0" dy="5.4">adj</tspan><tspan dy="-5.4"> = 2 x 10</tspan><tspan font-size="17.0" dy="-7.5">-11</tspan></text>
<text transform="translate(33.5,1954) rotate(-90)" text-anchor="middle">Concentration (pg/mL)</text>
<text transform="translate(33.5,2505) rotate(-90)" text-anchor="middle">Concentration (pg/mL)</text>
<path d="M1648 1680.5 H1656.5 Q1661.5 1680.5 1661.5 1685.5 V2161 Q1661.5 2166 1656.5 2166 H1648 M1661.5 1926.3 Q1662.5 1923.3 1666.5 1922.8 H1674" fill="none" stroke="#000" stroke-width="2"/>
<path d="M1648 2226.5 H1656.5 Q1661.5 2226.5 1661.5 2231.5 V2704 Q1661.5 2709 1656.5 2709 H1648 M1661.5 2474.3 Q1662.5 2471.3 1666.5 2470.8 H1674" fill="none" stroke="#000" stroke-width="2"/>
<text x="1689" y="1933.5">WTC11</text><text x="1689" y="2481.5">162D</text>
<text x="1688.5" y="2076.5">Primary cytokine treatment</text>
<rect x="1691.8" y="2090.7" width="60.5" height="24.6" fill="#696969"/><circle cx="1722" cy="2103" r="6.8"/><text x="1769.4" y="2112.4">Vehicle</text>
<rect x="1691.8" y="2121.4" width="60.5" height="24.6" fill="#E5C494"/><circle cx="1722" cy="2133.7" r="6.8"/><text x="1769.4" y="2143.1">IL-1α</text>
<rect x="1691.8" y="2152.2" width="60.5" height="24.6" fill="#FFD92F"/><circle cx="1722" cy="2164.5" r="6.8"/><text x="1769.4" y="2173.9">TNF</text>
<rect x="1691.8" y="2182.9" width="60.5" height="24.6" fill="#A6D854"/><circle cx="1722" cy="2195.2" r="6.8"/><text x="1769.4" y="2204.6">IL-1α+TNF</text>
<rect x="1691.8" y="2213.6" width="60.5" height="24.6" fill="#E78AC3"/><circle cx="1722" cy="2225.9" r="6.8"/><text x="1769.4" y="2235.3">C1q</text>
<rect x="1691.8" y="2244.3" width="60.5" height="24.6" fill="#8DA0CB"/><circle cx="1722" cy="2256.7" r="6.8"/><text x="1769.4" y="2266">IL-1α+C1q</text>
<rect x="1691.8" y="2275.1" width="60.5" height="24.6" fill="#FC8D62"/><circle cx="1722" cy="2287.4" r="6.8"/><text x="1769.4" y="2296.8">TNF+C1q</text>
<rect x="1691.8" y="2305.8" width="60.5" height="24.6" fill="#8B0000"/><circle cx="1722" cy="2318.1" r="6.8"/><text x="1769.4" y="2327.5">IL-1α+TNF+C1q</text>
<g font-weight="bold" font-size="46"><text x="6" y="37.8">a</text><text x="490" y="33.8">b</text><text x="10" y="405.8">c</text><text x="14.5" y="1666.7">d</text></g>
</svg></body></html>
